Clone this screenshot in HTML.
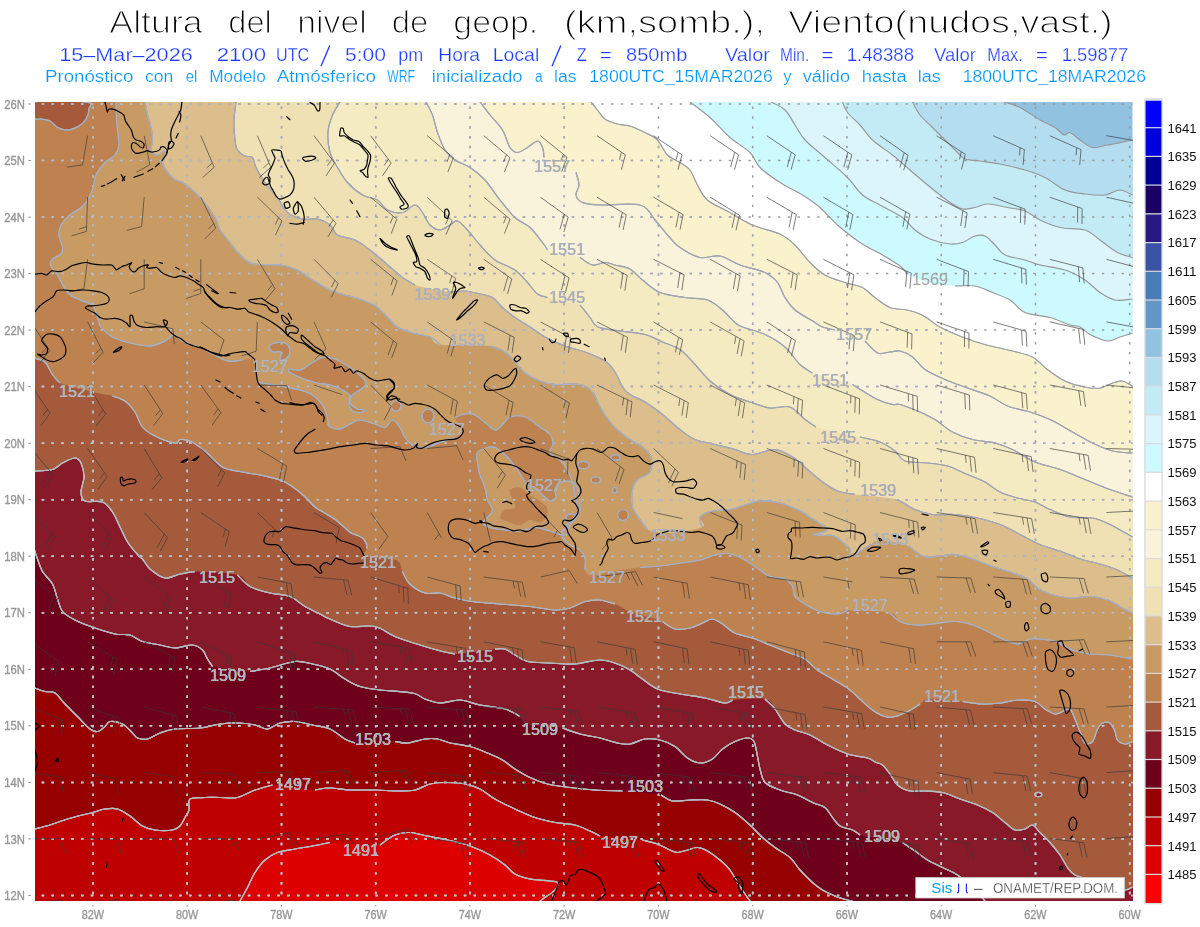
<!DOCTYPE html><html><head><meta charset="utf-8"><title>WRF 850mb</title><style>html,body{margin:0;padding:0;background:#fff}body{width:1200px;height:927px;overflow:hidden}</style></head><body><svg width="1200" height="927" viewBox="0 0 1200 927" style="display:block;font-family:'Liberation Sans',sans-serif">
<defs><filter id="nf" x="-5%" y="-5%" width="110%" height="110%"><feOffset dx="0" dy="0"/></filter><clipPath id="m"><rect x="35" y="102" width="1098" height="799"/></clipPath></defs>
<rect width="1200" height="927" fill="#fff"/>
<g clip-path="url(#m)">
<rect x="34.5" y="102" width="1098" height="799" fill="#91c3e1"/>
<path d="M1004 102C1006.7 102.9 1014 104.5 1020 107.5C1026 110.5 1034.2 116.7 1040 120C1045.8 123.3 1051 125 1055 127.5C1059 130 1061.5 134.2 1064 135C1066.5 135.8 1067.3 131.7 1070 132.5C1072.7 133.3 1076.2 137.5 1080 140C1083.8 142.5 1087.9 146.7 1092.5 147.5C1097.1 148.3 1100.8 146.2 1107.5 145C1114.2 143.8 1128.3 140.8 1132.5 140L1134.5 140L1134.5 903L32.5 903L32.5 100L1004 100Z" fill="#b4def0"/>
<path d="M912.5 102C913.8 104.2 916.7 110.8 920 115C923.3 119.2 928.3 123.3 932.5 127.5C936.7 131.7 940.8 135.8 945 140C949.2 144.2 954.2 149.3 957.5 152.5C960.8 155.7 961.2 157.6 965 159C968.8 160.4 974.2 160.2 980 161C985.8 161.8 992.5 162.5 1000 164C1007.5 165.5 1017.5 167.8 1025 170C1032.5 172.2 1038.3 174.2 1045 177.5C1051.7 180.8 1058.3 187.2 1065 190C1071.7 192.8 1078.3 193.2 1085 194C1091.7 194.8 1099.2 195.7 1105 195C1110.8 194.3 1115.4 190 1120 190C1124.6 190 1130.4 194.2 1132.5 195L1134.5 195L1134.5 903L32.5 903L32.5 100L912.5 100Z" fill="#c3ebf5"/>
<path d="M842.5 102C843.3 103.8 844.6 108.7 847.5 112.5C850.4 116.3 855.8 120.4 860 125C864.2 129.6 867.1 135 872.5 140C877.9 145 886.2 150 892.5 155C898.8 160 903.8 164.7 910 170C916.2 175.3 923.3 181.6 930 187C936.7 192.4 944.6 198.8 950 202.5C955.4 206.2 958.3 208.2 962.5 209C966.7 209.8 970.8 208.3 975 207.5C979.2 206.7 982.1 204 987.5 204C992.9 204 1001.2 206.3 1007.5 207.5C1013.8 208.7 1019.6 208.9 1025 211C1030.4 213.1 1034.2 217.2 1040 220C1045.8 222.8 1052.5 225.8 1060 227.5C1067.5 229.2 1078.3 227.9 1085 230C1091.7 232.1 1094.6 236.2 1100 240C1105.4 243.8 1112.1 249.6 1117.5 252.5C1122.9 255.4 1130 256.7 1132.5 257.5L1134.5 257.5L1134.5 903L32.5 903L32.5 100L842.5 100Z" fill="#dcf5fa"/>
<path d="M771 102C773.3 103.3 781 106.2 785 110C789 113.8 791.7 120 795 125C798.3 130 800 134.6 805 140C810 145.4 817.9 151.2 825 157.5C832.1 163.8 841.2 171.2 847.5 177.5C853.8 183.8 857.1 190.4 862.5 195C867.9 199.6 873.3 201.2 880 205C886.7 208.8 896.7 213.3 902.5 217.5C908.3 221.7 910.4 226.4 915 230C919.6 233.6 924.2 236.7 930 239C935.8 241.3 944.6 243.4 950 244C955.4 244.6 958.3 243.8 962.5 242.5C966.7 241.2 971.2 237.1 975 236C978.8 234.9 981.7 234.5 985 236C988.3 237.5 991.7 241.8 995 245C998.3 248.2 1000 252.5 1005 255C1010 257.5 1019.2 258.3 1025 260C1030.8 261.7 1033.3 263.3 1040 265C1046.7 266.7 1057.5 267.5 1065 270C1072.5 272.5 1079.2 276.2 1085 280C1090.8 283.8 1095 289.2 1100 292.5C1105 295.8 1109.6 298.9 1115 300C1120.4 301.1 1129.6 299.2 1132.5 299L1134.5 299L1134.5 903L32.5 903L32.5 100L771 100Z" fill="#cdfaff"/>
<path d="M690 102C693.3 104.6 703.3 111.6 710 117.5C716.7 123.4 723.3 131.7 730 137.5C736.7 143.3 745 147.5 750 152.5C755 157.5 755 162.5 760 167.5C765 172.5 772.9 177.9 780 182.5C787.1 187.1 795.8 190.8 802.5 195C809.2 199.2 814.2 202.5 820 207.5C825.8 212.5 830.8 219.2 837.5 225C844.2 230.8 852.5 237.5 860 242.5C867.5 247.5 875.8 251.1 882.5 255C889.2 258.9 895.8 262.8 900 266C904.2 269.2 902.5 271.2 907.5 274C912.5 276.8 922.1 281 930 283C937.9 285 947.5 285.5 955 286C962.5 286.5 968.8 284.9 975 286C981.2 287.1 986.7 290.2 992.5 292.5C998.3 294.8 1004.6 296.7 1010 300C1015.4 303.3 1018.3 309.6 1025 312.5C1031.7 315.4 1042.5 315.4 1050 317.5C1057.5 319.6 1065 323.4 1070 325C1075 326.6 1076.7 325.4 1080 327C1083.3 328.6 1085.4 332.2 1090 334.5C1094.6 336.8 1102.5 340.6 1107.5 341C1112.5 341.4 1115.8 338.3 1120 337C1124.2 335.7 1130.4 333.7 1132.5 333L1134.5 333L1134.5 903L32.5 903L32.5 100L690 100Z" fill="#ffffff"/>
<path d="M591 102C592.1 103.3 595.2 107.2 597.5 110C599.8 112.8 601.7 116.7 605 119C608.3 121.3 613.3 122.8 617.5 124C621.7 125.2 625.4 124.6 630 126C634.6 127.4 640.4 130.2 645 132.5C649.6 134.8 653.8 136.2 657.5 140C661.2 143.8 663.8 151.2 667.5 155C671.2 158.8 676.2 160 680 162.5C683.8 165 687.1 166.2 690 170C692.9 173.8 694.6 180 697.5 185C700.4 190 702.1 195.4 707.5 200C712.9 204.6 722.5 208.3 730 212.5C737.5 216.7 744.2 221.4 752.5 225C760.8 228.6 772.9 230.7 780 234C787.1 237.3 790 240.2 795 245C800 249.8 805 257.5 810 262.5C815 267.5 819.2 271.7 825 275C830.8 278.3 838.8 280.4 845 282.5C851.2 284.6 857.5 285 862.5 287.5C867.5 290 870.4 294.2 875 297.5C879.6 300.8 884.6 305.4 890 307.5C895.4 309.6 902.5 308.9 907.5 310C912.5 311.1 916.2 312.3 920 314C923.8 315.7 926.7 317.8 930 320C933.3 322.2 934.6 324.2 940 327C945.4 329.8 955 334.1 962.5 337C970 339.9 976.7 342.2 985 344.5C993.3 346.8 1004.6 348.9 1012.5 351C1020.4 353.1 1026.7 353.9 1032.5 357C1038.3 360.1 1042.1 365.5 1047.5 369.5C1052.9 373.5 1058.8 378.1 1065 381C1071.2 383.9 1079.2 385.8 1085 387C1090.8 388.2 1095.4 388.7 1100 388C1104.6 387.3 1108.8 384.2 1112.5 383C1116.2 381.8 1119.2 380.5 1122.5 381C1125.8 381.5 1130.8 385.2 1132.5 386L1134.5 386L1134.5 903L32.5 903L32.5 100L591 100Z" fill="#faf2cd"/>
<path d="M480 102C481.7 104.2 486.2 110.3 490 115C493.8 119.7 499.2 124.6 502.5 130C505.8 135.4 507.5 143.8 510 147.5C512.5 151.2 514.6 152.5 517.5 152.5C520.4 152.5 524.2 149.4 527.5 147.5C530.8 145.6 535 141 537.5 141C540 141 541.4 144.8 542.5 147.5C543.6 150.2 541.9 154.4 544 157.5C546.1 160.6 549.7 163.5 555 166C560.3 168.5 572 169.3 576 172.5C580 175.7 579 181.2 579 185C579 188.8 575.4 192.1 576 195C576.6 197.9 578.5 200.8 582.5 202.5C586.5 204.2 590.4 204.6 600 205C609.6 205.4 630.8 202.5 640 205C649.2 207.5 650.4 215 655 220C659.6 225 663.3 230.4 667.5 235C671.7 239.6 674.6 243.8 680 247.5C685.4 251.2 693.3 256.1 700 257.5C706.7 258.9 713.3 254.8 720 256C726.7 257.2 732.5 262.2 740 265C747.5 267.8 758.8 269.6 765 272.5C771.2 275.4 774.2 278.3 777.5 282.5C780.8 286.7 782.1 292.9 785 297.5C787.9 302.1 790 305.8 795 310C800 314.2 810.4 319.7 815 322.5C819.6 325.3 819.2 325.8 822.5 327C825.8 328.2 827.9 327.7 835 330C842.1 332.3 857.9 337.2 865 341C872.1 344.8 873.3 351.2 877.5 353C881.7 354.8 886.2 352.3 890 352C893.8 351.7 896.2 350.2 900 351C903.8 351.8 908.3 353.9 912.5 357C916.7 360.1 919.6 365.8 925 369.5C930.4 373.2 937.9 376.4 945 379.5C952.1 382.6 960 385.2 967.5 388C975 390.8 983.3 393 990 396C996.7 399 1000.8 403.3 1007.5 406C1014.2 408.7 1022.9 409.8 1030 412C1037.1 414.2 1042.9 416.2 1050 419.5C1057.1 422.8 1065.4 428.1 1072.5 432C1079.6 435.9 1085.8 439.8 1092.5 443C1099.2 446.2 1105.8 449.3 1112.5 451C1119.2 452.7 1129.2 452.7 1132.5 453L1134.5 453L1134.5 903L32.5 903L32.5 100L480 100Z" fill="#faf3dc"/>
<path d="M426 102C427.1 104.2 430.6 109.9 432.5 115C434.4 120.1 435.4 126.7 437.5 132.5C439.6 138.3 442.1 145.4 445 150C447.9 154.6 450.8 157.1 455 160C459.2 162.9 465 164.2 470 167.5C475 170.8 480 174.6 485 180C490 185.4 495 193.8 500 200C505 206.2 510 212.9 515 217.5C520 222.1 525.4 223.3 530 227.5C534.6 231.7 539.6 238.8 542.5 242.5C545.4 246.2 541.2 247.5 547.5 250C553.8 252.5 572.5 255 580 257.5C587.5 260 588.3 264.2 592.5 265C596.7 265.8 601.2 262.5 605 262.5C608.8 262.5 610.8 263.9 615 265C619.2 266.1 625.4 266.5 630 269C634.6 271.5 637.5 276.1 642.5 280C647.5 283.9 652.9 289.6 660 292.5C667.1 295.4 677.1 296.2 685 297.5C692.9 298.8 701.2 297.9 707.5 300C713.8 302.1 717.9 306.2 722.5 310C727.1 313.8 731.7 319.7 735 322.5C738.3 325.3 737.5 325 742.5 327C747.5 329 757.9 331.2 765 334.5C772.1 337.8 779.2 342 785 347C790.8 352 795.4 360.2 800 364.5C804.6 368.8 803.8 369.7 812.5 373C821.2 376.3 841.7 380.1 852.5 384.5C863.3 388.9 870.8 396.2 877.5 399.5C884.2 402.8 888.8 403.7 892.5 404.5C896.2 405.3 895.8 403.4 900 404.5C904.2 405.6 911.7 408.5 917.5 411C923.3 413.5 929.2 416 935 419.5C940.8 423 946.2 428.7 952.5 432C958.8 435.3 965.4 437.7 972.5 439.5C979.6 441.3 988.3 441.3 995 443C1001.7 444.7 1005.8 446.3 1012.5 449.5C1019.2 452.7 1027.1 458.7 1035 462C1042.9 465.3 1051.7 466.6 1060 469.5C1068.3 472.4 1076.7 476.2 1085 479.5C1093.3 482.8 1102.1 486.6 1110 489.5C1117.9 492.4 1128.8 495.8 1132.5 497L1134.5 497L1134.5 903L32.5 903L32.5 100L426 100Z" fill="#f5ebc3"/>
<path d="M340 102C338.8 104.2 334.5 110 332.5 115C330.5 120 328.4 125.8 328 132C327.6 138.2 328.4 146.6 330 152.5C331.6 158.4 334.6 162.5 337.5 167.5C340.4 172.5 343.3 177.9 347.5 182.5C351.7 187.1 357.5 192.1 362.5 195C367.5 197.9 373.3 197.5 377.5 200C381.7 202.5 383.3 207.9 387.5 210C391.7 212.1 397.9 213.3 402.5 212.5C407.1 211.7 411.7 205 415 205C418.3 205 420 209.2 422.5 212.5C425 215.8 427.1 222.1 430 225C432.9 227.9 436.7 230 440 230C443.3 230 447.1 226.5 450 225C452.9 223.5 454.6 220.2 457.5 221C460.4 221.8 463.8 226 467.5 230C471.2 234 475.4 240 480 245C484.6 250 489.2 255.8 495 260C500.8 264.2 509.6 266.2 515 270C520.4 273.8 523.8 278.5 527.5 282.5C531.2 286.5 534.2 291.5 537.5 294C540.8 296.5 540.4 295.7 547.5 297.5C554.6 299.3 572.9 301.7 580 305C587.1 308.3 587 313.8 590 317.5C593 321.2 593 324.8 598 327C603 329.2 612.2 329.8 620 331C627.8 332.2 637.9 332.7 645 334.5C652.1 336.3 656.7 339.5 662.5 342C668.3 344.5 674.6 345.8 680 349.5C685.4 353.2 690 359.2 695 364.5C700 369.8 704.2 376 710 381C715.8 386 723.3 391 730 394.5C736.7 398 743.3 399.8 750 402C756.7 404.2 763.3 407.2 770 408C776.7 408.8 784.2 405.1 790 407C795.8 408.9 800.7 416.2 805 419.5C809.3 422.8 806.8 424.1 816 427C825.2 429.9 849.3 434.5 860 437C870.7 439.5 874.2 439.7 880 442C885.8 444.3 890.8 447.8 895 451C899.2 454.2 899.6 459 905 461C910.4 463 920.4 462.2 927.5 463C934.6 463.8 940.8 464.1 947.5 466C954.2 467.9 961.2 471.8 967.5 474.5C973.8 477.2 979.6 479.1 985 482C990.4 484.9 994.6 489.3 1000 492C1005.4 494.7 1011.7 496.3 1017.5 498C1023.3 499.7 1029.6 500.1 1035 502C1040.4 503.9 1044.2 507 1050 509.5C1055.8 512 1062.9 515.6 1070 517C1077.1 518.4 1085.8 516.8 1092.5 518C1099.2 519.2 1103.3 521.3 1110 524.5C1116.7 527.7 1128.8 534.9 1132.5 537L1134.5 537L1134.5 903L32.5 903L32.5 100L340 100Z" fill="#f0e1b4"/>
<path d="M236 102C235.7 105 234.2 113.7 234 120C233.8 126.3 234.4 135 235 140C235.6 145 235.8 147.3 237.5 150C239.2 152.7 242.5 154.8 245 156C247.5 157.2 250.7 155.6 252.5 157.5C254.3 159.4 253.9 163.3 256 167.5C258.1 171.7 261.4 177.5 265 182.5C268.6 187.5 273.8 192.5 277.5 197.5C281.2 202.5 283.3 208.9 287.5 212.5C291.7 216.1 297.5 217.9 302.5 219C307.5 220.1 312.9 218 317.5 219C322.1 220 326.7 222.3 330 225C333.3 227.7 333.3 232.5 337.5 235C341.7 237.5 349.6 237.5 355 240C360.4 242.5 365 246.2 370 250C375 253.8 379.6 257.9 385 262.5C390.4 267.1 397.5 273.8 402.5 277.5C407.5 281.2 407.1 282.6 415 285C422.9 287.4 441.7 291 450 292C458.3 293 460 290.7 465 291C470 291.3 475.4 292.9 480 294C484.6 295.1 488.8 295.2 492.5 297.5C496.2 299.8 498.8 304.2 502.5 307.5C506.2 310.8 510.4 314.2 515 317.5C519.6 320.8 525 323.8 530 327C535 330.2 539.2 333.8 545 337C550.8 340.2 558.3 343.5 565 346C571.7 348.5 578.3 349.5 585 352C591.7 354.5 600 357.7 605 361C610 364.3 612.1 367.7 615 372C617.9 376.3 620 383.2 622.5 387C625 390.8 626.2 392 630 394.5C633.8 397 639.6 398.7 645 402C650.4 405.3 656.7 409.9 662.5 414.5C668.3 419.1 674.6 425.3 680 429.5C685.4 433.7 689.2 437 695 439.5C700.8 442 708.3 442.8 715 444.5C721.7 446.2 728.8 447.8 735 449.5C741.2 451.2 745.8 454.5 752.5 454.5C759.2 454.5 768.3 449.1 775 449.5C781.7 449.9 787.1 453.7 792.5 457C797.9 460.3 802.5 465.3 807.5 469.5C812.5 473.7 817.5 478.4 822.5 482C827.5 485.6 832.1 488.9 837.5 491C842.9 493.1 845 493.1 855 494.5C865 495.9 887.5 497 897.5 499.5C907.5 502 909.2 507 915 509.5C920.8 512 925.8 513.7 932.5 514.5C939.2 515.3 947.5 513.9 955 514.5C962.5 515.1 970 516.3 977.5 518C985 519.7 992.9 521.8 1000 524.5C1007.1 527.2 1013.3 531.2 1020 534.5C1026.7 537.8 1032.9 541.6 1040 544.5C1047.1 547.4 1055.8 549.6 1062.5 552C1069.2 554.4 1073.8 557 1080 559C1086.2 561 1093.8 562.2 1100 564C1106.2 565.8 1112.1 567.7 1117.5 570C1122.9 572.3 1130 576.7 1132.5 578L1134.5 578L1134.5 903L32.5 903L32.5 100L236 100Z" fill="#dcbe8c"/>
<path d="M145 102C145.4 104.2 146.5 110.8 147.5 115C148.5 119.2 150.2 123.3 151 127.5C151.8 131.7 152.5 136.1 152.5 140C152.5 143.9 150.2 148.5 151 151C151.8 153.5 155.3 155 157.5 155C159.7 155 162.6 151 164 151C165.4 151 166.2 153.1 166 155C165.8 156.9 162.5 160 162.5 162.5C162.5 165 164.1 167.2 166 170C167.9 172.8 170.8 176.7 174 179C177.2 181.3 180.7 180.9 185 184C189.3 187.1 195 191.9 200 197.5C205 203.1 211.7 212.1 215 217.5C218.3 222.9 217.5 225.8 220 230C222.5 234.2 226.2 237.9 230 242.5C233.8 247.1 238.3 253.9 242.5 257.5C246.7 261.1 248.8 262.8 255 264C261.2 265.2 272.9 264 280 265C287.1 266 292.1 267.5 297.5 270C302.9 272.5 307.1 276.7 312.5 280C317.9 283.3 324.6 287.5 330 290C335.4 292.5 339.6 293.3 345 295C350.4 296.7 357.1 297.9 362.5 300C367.9 302.1 372.9 304.2 377.5 307.5C382.1 310.8 386.7 316.8 390 320C393.3 323.2 393.8 324.8 397.5 327C401.2 329.2 407.1 331.3 412.5 333C417.9 334.7 425.4 335.1 430 337C434.6 338.9 430 343 440 344.5C450 346 479.2 344.8 490 346C500.8 347.2 500.8 349.3 505 352C509.2 354.7 511.7 358.5 515 362C518.3 365.5 520.8 369.8 525 373C529.2 376.2 535 379.1 540 381C545 382.9 548.3 383.9 555 384.5C561.7 385.1 573.8 383.2 580 384.5C586.2 385.8 589.2 388.2 592.5 392C595.8 395.8 597.1 402 600 407C602.9 412 606.7 417.8 610 422C613.3 426.2 616.7 429.1 620 432C623.3 434.9 626.2 437 630 439.5C633.8 442 639 444.1 642.5 447C646 449.9 649.8 452.8 651 457C652.2 461.2 652.2 468.2 650 472C647.8 475.8 640.4 476.6 637.5 479.5C634.6 482.4 633.3 484.9 632.5 489.5C631.7 494.1 631.2 502 632.5 507C633.8 512 637.5 515.8 640 519.5C642.5 523.2 642.5 527.2 647.5 529.5C652.5 531.8 660.8 533.4 670 533C679.2 532.6 697.5 529.7 702.5 527C707.5 524.3 698.3 519.7 700 517C701.7 514.3 707.5 512.2 712.5 511C717.5 509.8 725 510.3 730 509.5C735 508.7 737.5 507.4 742.5 506C747.5 504.6 753.8 501.5 760 501C766.2 500.5 773.3 501.3 780 503C786.7 504.7 795 508.6 800 511C805 513.4 806.5 515.1 810 517.3C813.5 519.5 817.8 522.1 820.7 524C823.6 525.9 826.9 527.4 827.3 528.7C827.7 530 825.7 531 823.3 532C820.9 533 813 533.9 813 534.5C813 535.1 820 535.3 823.3 535.5C826.6 535.7 830 534.9 832.7 535.5C835.4 536.1 837.1 537.7 839.3 539.3C841.5 540.9 844.2 543.7 846 545.3C847.8 546.9 849.3 547.2 850 549C850.7 550.8 849.1 555 850 556C850.9 557 853.1 555.8 855.3 554.7C857.5 553.6 860.6 551.1 863.3 549.3C866 547.5 868.4 545.5 871.3 544C874.2 542.5 874.5 539.7 880.7 540C886.9 540.3 902.9 544.1 908.7 546C914.5 547.9 912.6 549.5 915.3 551.3C918 553.1 920.9 556.2 925 557C929.1 557.8 935 556.4 940 556C945 555.6 949.6 554 955 554.5C960.4 555 966.2 557 972.5 559C978.8 561 985.8 564.2 992.5 566.5C999.2 568.8 1006.7 570.9 1012.5 573C1018.3 575.1 1023.3 576.5 1027.5 579C1031.7 581.5 1033.8 585.5 1037.5 588C1041.2 590.5 1044.6 592.3 1050 594C1055.4 595.7 1063.3 597.6 1070 598C1076.7 598.4 1083.8 596.2 1090 596.5C1096.2 596.8 1102.1 598.1 1107.5 600C1112.9 601.9 1118.3 605.8 1122.5 608C1126.7 610.2 1130.8 612.2 1132.5 613L1134.5 613L1134.5 903L32.5 903L32.5 100L145 100Z" fill="#c89b64"/>
<path d="M116 102C116.2 105.8 116.5 117.8 117 125C117.5 132.2 119.3 140 119 145C118.7 150 117.3 152.1 115 155C112.7 157.9 108.2 159.2 105 162.5C101.8 165.8 98.1 170.4 96 175C93.9 179.6 94.5 185 92.5 190C90.5 195 87.8 200.8 84 205C80.2 209.2 73.8 211.7 70 215C66.2 218.3 62.8 221.7 61 225C59.2 228.3 58.8 231.2 59 235C59.2 238.8 62.2 244.3 62.5 247.5C62.8 250.7 62.7 252.1 61 254C59.3 255.9 54.2 257.2 52.5 259C50.8 260.8 49.7 262.3 50.5 265C51.3 267.7 54.7 270.4 57.5 275C60.3 279.6 63.8 288.3 67.5 292.5C71.2 296.7 75.8 297.9 80 300C84.2 302.1 89.6 302.1 92.5 305C95.4 307.9 96.1 313.8 97.5 317.5C98.9 321.2 98.5 323.8 101 327C103.5 330.2 107.7 334.3 112.5 337C117.3 339.7 123.8 341.5 130 343C136.2 344.5 144.2 346.3 150 346C155.8 345.7 161 342.9 165 341C169 339.1 171.5 334.8 174 334.5C176.5 334.2 177.3 337.8 180 339.5C182.7 341.2 186.7 343.2 190 344.5C193.3 345.8 195.8 345.8 200 347.5C204.2 349.2 210.4 352.8 215 355C219.6 357.2 222.9 360.2 227.5 361C232.1 361.8 238.3 360.3 242.5 360C246.7 359.7 250.2 357.3 252.5 359C254.8 360.7 254.9 366.1 256 370C257.1 373.9 255.8 380 259 382.5C262.2 385 270.2 384.2 275 385C279.8 385.8 283.3 386.7 287.5 387.5C291.7 388.3 295.8 388.8 300 390C304.2 391.2 308.8 392.5 312.5 395C316.2 397.5 320 401.2 322.5 405C325 408.8 326.4 414 327.5 417.5C328.6 421 326.9 424.1 329 426C331.1 427.9 336.5 429.3 340 429C343.5 428.7 346.7 425.5 350 424C353.3 422.5 355.8 420 360 420C364.2 420 370.8 422.8 375 424C379.2 425.2 382.1 428.2 385 427.5C387.9 426.8 390 420 392.5 420C395 420 397.9 424.6 400 427.5C402.1 430.4 402.9 434.6 405 437.5C407.1 440.4 409.2 443.3 412.5 445C415.8 446.7 420.4 447.9 425 447.5C429.6 447.1 435 444.2 440 442.5C445 440.8 451.2 439.2 455 437.5C458.8 435.8 461.7 434.6 462.5 432.5C463.3 430.4 461.2 427.5 460 425C458.8 422.5 454.2 419.3 455 417.5C455.8 415.7 461.7 414.4 465 414C468.3 413.6 471.7 413.6 475 415C478.3 416.4 481.7 420 485 422.5C488.3 425 492.1 429.7 495 430C497.9 430.3 500 426.7 502.5 424.5C505 422.3 506.2 418.2 510 417C513.8 415.8 520 415.3 525 417C530 418.7 535.8 424.1 540 427C544.2 429.9 547.8 431.7 550 434.5C552.2 437.3 553 441 553 444C553 447 548.8 449.8 550 452.5C551.2 455.2 557.1 457.1 560 460C562.9 462.9 565.4 466.2 567.5 470C569.6 473.8 571.2 478.3 572.5 482.5C573.8 486.7 574.1 490.4 575 495C575.9 499.6 578.5 505.8 578 510C577.5 514.2 574.2 517.2 572 520C569.8 522.8 566.7 524.2 565 527C563.3 529.8 561.2 534 562 537C562.8 540 567 542.8 570 545C573 547.2 577.5 547.9 580 550C582.5 552.1 584.2 554.2 585 557.5C585.8 560.8 583.8 567.1 585 570C586.2 572.9 586.7 575 592.5 575C598.3 575 612.1 571.2 620 570C627.9 568.8 633.3 568.2 640 567.5C646.7 566.8 652.5 566.8 660 566C667.5 565.2 678.3 563.5 685 562.5C691.7 561.5 695 561.2 700 560C705 558.8 710 556 715 555C720 554 725 552.9 730 553.8C735 554.6 740 557.3 745 560C750 562.7 755.8 567.2 760 570C764.2 572.8 765.8 575 770 576.5C774.2 578 781.2 577.3 785 579C788.8 580.7 790.8 583.6 792.5 586.5C794.2 589.4 792.9 593.6 795 596.5C797.1 599.4 800.8 601.5 805 604C809.2 606.5 814.6 609.8 820 611.5C825.4 613.2 832.9 614.2 837.5 614C842.1 613.8 838.8 610.2 847.5 610C856.2 609.8 881.2 611.1 890 613C898.8 614.9 895.8 619.5 900 621.5C904.2 623.5 909.6 624.6 915 625C920.4 625.4 925.8 624.6 932.5 624C939.2 623.4 948.3 621.3 955 621.5C961.7 621.7 967.1 623.3 972.5 625C977.9 626.7 982.5 629.2 987.5 631.5C992.5 633.8 997.5 636.9 1002.5 639C1007.5 641.1 1012.9 644 1017.5 644C1022.1 644 1026.2 639.8 1030 639C1033.8 638.2 1035.8 638.6 1040 639C1044.2 639.4 1049.6 639.7 1055 641.5C1060.4 643.3 1066.7 647.9 1072.5 650C1078.3 652.1 1083.8 653.2 1090 654C1096.2 654.8 1102.9 654.2 1110 655C1117.1 655.8 1128.8 658.3 1132.5 659L1134.5 659L1134.5 903L32.5 903L32.5 100L116 100Z" fill="#be8250"/>
<path d="M34.5 358C36.2 358.7 42 359.2 45 362C48 364.8 50 371 52.5 374.5C55 378 53.3 380.1 60 383C66.7 385.9 83.8 389.8 92.5 392C101.2 394.2 107.1 394.5 112.5 396C117.9 397.5 121.2 398.3 125 401C128.8 403.7 132.1 407.7 135 412C137.9 416.3 139.2 423 142.5 427C145.8 431 149.6 433.3 155 436C160.4 438.7 170.8 442.4 175 443C179.2 443.6 177.5 439.8 180 439.5C182.5 439.2 185.8 439.1 190 441C194.2 442.9 199.6 446.7 205 451C210.4 455.3 216.2 463.5 222.5 467C228.8 470.5 235.4 470.5 242.5 472C249.6 473.5 257.9 474.3 265 476C272.1 477.7 278.8 478.9 285 482C291.2 485.1 297.6 490.4 302.5 494.5C307.4 498.6 310.9 503.6 314.7 506.7C318.5 509.8 321.8 511.1 325.3 513.3C328.9 515.5 332.7 517.5 336 520C339.3 522.5 342.9 525.9 345.3 528C347.8 530.1 348.7 531.5 350.7 532.7C352.7 533.9 355.3 534.4 357.3 535.3C359.3 536.2 361.2 536.8 362.7 538C364.1 539.2 365.2 540.9 366 542.7C366.8 544.5 367.5 546.5 367.3 548.7C367.1 550.9 360.2 554.1 365 556C369.8 557.9 389.8 557.4 396 560C402.2 562.6 400.2 567.5 402.5 571.5C404.8 575.5 406.2 580.4 410 584C413.8 587.6 420 591.5 425 593C430 594.5 435 592.2 440 593C445 593.8 449.6 596.6 455 598C460.4 599.4 465 600.5 472.5 601.5C480 602.5 490.4 603.2 500 604C509.6 604.8 520.8 605.5 530 606.5C539.2 607.5 548.3 609.8 555 610C561.7 610.2 565 609.4 570 608C575 606.6 580 602.8 585 601.5C590 600.2 595 599.6 600 600C605 600.4 610 602.1 615 604C620 605.9 622.1 608.6 630 611.5C637.9 614.4 655 618.6 662.5 621.5C670 624.4 670.4 627.9 675 629C679.6 630.1 685.4 629 690 628C694.6 627 698.8 624.5 702.5 623C706.2 621.5 709.2 618.8 712.5 619C715.8 619.2 718.8 621.7 722.5 624C726.2 626.3 730 630.7 735 633C740 635.3 746.7 636 752.5 638C758.3 640 763.8 642.5 770 645C776.2 647.5 784.2 650.7 790 653C795.8 655.3 800.4 656.2 805 659C809.6 661.8 812.9 666.7 817.5 670C822.1 673.3 827.5 676 832.5 679C837.5 682 842.9 684.7 847.5 688C852.1 691.3 855.8 695.3 860 699C864.2 702.7 868.3 707.1 872.5 710C876.7 712.9 881.2 715.4 885 716.5C888.8 717.6 891.2 717.3 895 716.5C898.8 715.7 903.3 713.6 907.5 711.5C911.7 709.4 916.2 706.1 920 704C923.8 701.9 922.9 699.4 930 699C937.1 698.6 953.8 700.7 962.5 701.5C971.2 702.3 976.2 703.8 982.5 704C988.8 704.2 994.2 703.7 1000 703C1005.8 702.3 1011.7 700.2 1017.5 700C1023.3 699.8 1030.4 700 1035 701.5C1039.6 703 1041.7 706.9 1045 709C1048.3 711.1 1052.1 713.6 1055 714C1057.9 714.4 1060 712.3 1062.5 711.5C1065 710.7 1067.9 707.8 1070 709C1072.1 710.2 1073.3 715.2 1075 719C1076.7 722.8 1078.3 727.5 1080 731.5C1081.7 735.5 1082.9 741.3 1085 743C1087.1 744.7 1090.4 743.8 1092.5 741.5C1094.6 739.2 1095.8 732.1 1097.5 729C1099.2 725.9 1100.4 724 1102.5 723C1104.6 722 1107.9 721.6 1110 723C1112.1 724.4 1113.8 728.7 1115 731.5C1116.2 734.3 1115.8 737.9 1117.5 740C1119.2 742.1 1122.5 743.8 1125 744C1127.5 744.2 1131.2 741.9 1132.5 741.5L1134.5 741.5L1134.5 903L32.5 903L32.5 358Z" fill="#a55a3c"/>
<path d="M34.5 471C37.5 470.8 47.8 470.8 52.5 469.5C57.2 468.2 58.8 464.9 62.5 463C66.2 461.1 71.9 458 75 458C78.1 458 79.5 459.8 81 463C82.5 466.2 84 472.2 84 477C84 481.8 80.8 488 81 492C81.2 496 81.4 499.3 85 501C88.6 502.7 97.9 500.2 102.5 502C107.1 503.8 109.6 507.8 112.5 512C115.4 516.2 117.5 522 120 527C122.5 532 124.6 537.4 127.5 542C130.4 546.6 135 551.7 137.5 554.5C140 557.3 140.4 556.6 142.5 559C144.6 561.4 146.2 565.8 150 569C153.8 572.2 160 577.2 165 578C170 578.8 175 575.1 180 574C185 572.9 185.4 571.3 195 571.5C204.6 571.7 228.3 572.5 237.5 575C246.7 577.5 244.6 583.5 250 586.5C255.4 589.5 263.3 591.3 270 593C276.7 594.7 284.2 594.2 290 596.5C295.8 598.8 300 603.6 305 606.5C310 609.4 315.8 611.9 320 614C324.2 616.1 325 616.9 330 619C335 621.1 342.5 625.2 350 626.5C357.5 627.8 367.5 624.8 375 626.5C382.5 628.2 387.5 633.4 395 636.5C402.5 639.6 412.1 642.5 420 645C427.9 647.5 436.7 650 442.5 651.5C448.3 653 446.2 654.4 455 654C463.8 653.6 486.7 649.8 495 649C503.3 648.2 501.7 648 505 649C508.3 650 511.2 652.9 515 655C518.8 657.1 521.7 660.2 527.5 661.5C533.3 662.8 542.1 662.6 550 663C557.9 663.4 566.7 664.5 575 664C583.3 663.5 592.9 660 600 660C607.1 660 612.5 662.3 617.5 664C622.5 665.7 625.8 667.5 630 670C634.2 672.5 637.9 675.8 642.5 679C647.1 682.2 651.2 686.5 657.5 689C663.8 691.5 672.1 692.5 680 694C687.9 695.5 697.5 696.5 705 698C712.5 699.5 720.4 702.7 725 703C729.6 703.3 725.8 700.7 732.5 700C739.2 699.3 757.9 697.5 765 699C772.1 700.5 771.7 704.8 775 709C778.3 713.2 781.7 720.5 785 724C788.3 727.5 790.8 728.2 795 730C799.2 731.8 804.6 732.5 810 735C815.4 737.5 821.2 741.8 827.5 745C833.8 748.2 840.8 751.8 847.5 754C854.2 756.2 862.9 756.7 867.5 758C872.1 759.3 872.5 760.8 875 762C877.5 763.2 880 763 882.5 765C885 767 887.5 770.7 890 774C892.5 777.3 894.2 782.2 897.5 785C900.8 787.8 905.4 790 910 791C914.6 792 919.6 790.8 925 791C930.4 791.2 936.7 791.2 942.5 792.5C948.3 793.8 954.2 796.9 960 799C965.8 801.1 972.1 802.8 977.5 805C982.9 807.2 987.9 809.6 992.5 812.5C997.1 815.4 1001.2 819.6 1005 822.5C1008.8 825.4 1011.7 828.9 1015 830C1018.3 831.1 1022.1 829.8 1025 829C1027.9 828.2 1030 824.4 1032.5 825C1035 825.6 1037.1 829.6 1040 832.5C1042.9 835.4 1046.7 838.8 1050 842.5C1053.3 846.2 1057.1 850.8 1060 855C1062.9 859.2 1065 864.2 1067.5 867.5C1070 870.8 1071.2 872.9 1075 875C1078.8 877.1 1084.2 877.8 1090 880C1095.8 882.2 1104.2 886.3 1110 888C1115.8 889.7 1121.2 890.2 1125 890C1128.8 889.8 1131.2 887.5 1132.5 887L1134.5 887L1134.5 903L32.5 903L32.5 471Z" fill="#871928"/>
<path d="M34.5 550C35 551.5 36.2 555.4 37.5 559C38.8 562.6 40 567.3 42.5 571.5C45 575.7 50 579.4 52.5 584C55 588.6 55.8 594.4 57.5 599C59.2 603.6 59.6 608 62.5 611.5C65.4 615 69.6 617.2 75 620C80.4 622.8 88.3 625.7 95 628C101.7 630.3 109.2 632.8 115 634C120.8 635.2 125.4 633.8 130 635C134.6 636.2 137.5 639.8 142.5 641.5C147.5 643.2 154.6 643.9 160 645C165.4 646.1 169.6 648 175 648C180.4 648 187.9 644.7 192.5 645C197.1 645.3 200 647.7 202.5 650C205 652.3 205.8 656.2 207.5 659C209.2 661.8 205.4 664.4 212.5 666.5C219.6 668.6 240.4 671.2 250 671.5C259.6 671.8 262.5 669.7 270 668C277.5 666.3 287.9 662.2 295 661.5C302.1 660.8 306.7 662.8 312.5 664C318.3 665.2 324.6 666.5 330 669C335.4 671.5 340 676.1 345 679C350 681.9 354.2 684.7 360 686.5C365.8 688.3 371.2 688.9 380 690C388.8 691.1 405 691.5 412.5 693C420 694.5 420.4 697.3 425 699C429.6 700.7 434.2 702.8 440 703C445.8 703.2 453.3 699.7 460 700C466.7 700.3 472.5 703.5 480 705C487.5 706.5 498.3 707.1 505 709C511.7 710.9 516.2 714 520 716.5C523.8 719 520.4 722.1 527.5 724C534.6 725.9 553.8 726.3 562.5 728C571.2 729.7 573.8 732.3 580 734C586.2 735.7 593.8 736.5 600 738C606.2 739.5 612.5 742 617.5 743C622.5 744 625.4 744.7 630 744C634.6 743.3 640 739.7 645 739C650 738.3 655 738.8 660 740C665 741.2 670.4 743.5 675 746.5C679.6 749.5 683.3 755.2 687.5 758C691.7 760.8 695.8 762.8 700 763C704.2 763.2 708.8 761.3 712.5 759C716.2 756.7 718.8 751.9 722.5 749C726.2 746.1 730.8 743.3 735 741.5C739.2 739.7 744.3 738 747.5 738C750.7 738 752.3 738.4 754 741.5C755.7 744.6 756.5 751.9 757.5 756.5C758.5 761.1 758.8 764.7 760 769C761.2 773.3 761.7 779 765 782.5C768.3 786 774.6 787.9 780 790C785.4 792.1 792.1 792.9 797.5 795C802.9 797.1 807.9 800.4 812.5 802.5C817.1 804.6 821.7 805 825 807.5C828.3 810 830 814.4 832.5 817.5C835 820.6 836.7 823.9 840 826C843.3 828.1 849.2 828.5 852.5 830C855.8 831.5 851.7 832.9 860 835C868.3 837.1 893.3 839.8 902.5 842.5C911.7 845.2 910.8 848.1 915 851C919.2 853.9 922.9 857.2 927.5 860C932.1 862.8 937.5 865 942.5 867.5C947.5 870 952.1 871.2 957.5 875C962.9 878.8 970.4 885.7 975 890C979.6 894.3 983.3 899.2 985 901L985 903L32.5 903L32.5 550Z" fill="#6e001c"/>
<path d="M34.5 688C36.2 688.6 41.6 690.7 45 691.5C48.4 692.3 51.7 690.9 55 693C58.3 695.1 61.2 700.1 65 704C68.8 707.9 73.3 712.3 77.5 716.5C81.7 720.7 86.7 726.5 90 729C93.3 731.5 95 731.9 97.5 731.5C100 731.1 102.9 728.2 105 726.5C107.1 724.8 107.1 721.9 110 721.5C112.9 721.1 118.8 722.1 122.5 724C126.2 725.9 130 730.7 132.5 733C135 735.3 135 737 137.5 738C140 739 143.8 739.8 147.5 739C151.2 738.2 155.4 734.7 160 733C164.6 731.3 168.3 729.8 175 729C181.7 728.2 192.5 728.8 200 728C207.5 727.2 213.3 724.8 220 724C226.7 723.2 234.2 722.8 240 723C245.8 723.2 250.4 724 255 725C259.6 726 263.3 729.3 267.5 729C271.7 728.7 275.4 724.2 280 723C284.6 721.8 289.6 721.2 295 721.5C300.4 721.8 306.7 723.8 312.5 725C318.3 726.2 324.6 726.7 330 729C335.4 731.3 340.8 736.7 345 739C349.2 741.3 346.7 742.6 355 743C363.3 743.4 386.2 741.5 395 741.5C403.8 741.5 402.5 743.4 407.5 743C412.5 742.6 420 739.7 425 739C430 738.3 433.3 738.3 437.5 739C441.7 739.7 444.6 741.8 450 743C455.4 744.2 463.8 744.8 470 746.5C476.2 748.2 482.1 750.8 487.5 753C492.9 755.2 497.9 757.3 502.5 760C507.1 762.7 510.4 766.1 515 769C519.6 771.9 524.6 775 530 777.5C535.4 780 540.8 782.3 547.5 784C554.2 785.7 562.1 786.5 570 787.5C577.9 788.5 586.2 789.4 595 790C603.8 790.6 611.5 790.2 622.5 791C633.5 791.8 652.7 793.3 661 795C669.3 796.7 667.7 800.2 672.5 801C677.3 801.8 684.2 800.2 690 800C695.8 799.8 702.5 799.3 707.5 800C712.5 800.7 715.4 801.9 720 804C724.6 806.1 730 809 735 812.5C740 816 745.4 820.8 750 825C754.6 829.2 758.3 833.8 762.5 837.5C766.7 841.2 770.4 844.2 775 847.5C779.6 850.8 785.8 853.8 790 857.5C794.2 861.2 796.2 865.8 800 870C803.8 874.2 808.8 879.2 812.5 882.5C816.2 885.8 818.8 887.8 822.5 890C826.2 892.2 830.8 894.3 835 896C839.2 897.7 844.6 899.2 847.5 900C850.4 900.8 851.7 900.8 852.5 901L852.5 903L32.5 903L32.5 688Z" fill="#960000"/>
<path d="M34.5 829C37.1 828.3 44.5 826.7 50 825C55.5 823.3 60.4 821.1 67.5 819C74.6 816.9 86.2 814.2 92.5 812.5C98.8 810.8 100.8 809.6 105 809C109.2 808.4 113.3 807.8 117.5 809C121.7 810.2 125.8 813.2 130 816C134.2 818.8 138.3 823.7 142.5 826C146.7 828.3 150 829.3 155 830C160 830.7 168.3 830.7 172.5 830C176.7 829.3 177.9 828.1 180 826C182.1 823.9 183.5 820.2 185 817.5C186.5 814.8 188.2 813.1 189 810C189.8 806.9 187.3 801.1 190 799C192.7 796.9 200 797.8 205 797.5C210 797.2 214.6 797.5 220 797.5C225.4 797.5 231.7 798.8 237.5 797.5C243.3 796.2 249.2 792.1 255 790C260.8 787.9 262.5 785 272.5 785C282.5 785 305.4 789.5 315 790C324.6 790.5 324.2 788 330 788C335.8 788 342.5 789.7 350 790C357.5 790.3 367.1 789.8 375 790C382.9 790.2 390.8 791 397.5 791C404.2 791 409.6 791.2 415 790C420.4 788.8 425 785.2 430 784C435 782.8 439.2 782.5 445 782.5C450.8 782.5 459.2 782.9 465 784C470.8 785.1 475 786.5 480 789C485 791.5 489.2 795.7 495 799C500.8 802.3 508.3 805.9 515 809C521.7 812.1 528.3 815.2 535 817.5C541.7 819.8 548.3 821.2 555 822.5C561.7 823.8 569.2 823.6 575 825C580.8 826.4 585.8 829.2 590 831C594.2 832.8 591.2 834.5 600 836C608.8 837.5 632.9 838.7 642.5 840C652.1 841.3 652.9 842.3 657.5 844C662.1 845.7 666.7 848.6 670 850C673.3 851.4 674.6 852.5 677.5 852.5C680.4 852.5 684.2 850.8 687.5 850C690.8 849.2 694.2 847.3 697.5 847.5C700.8 847.7 703.8 848.9 707.5 851C711.2 853.1 716.2 856.8 720 860C723.8 863.2 727.1 866.2 730 870C732.9 873.8 735.2 878.8 737.5 882.5C739.8 886.2 741.9 889.4 744 892.5C746.1 895.6 749 899.6 750 901L750 903L32.5 903L32.5 829Z" fill="#be0000"/>
<path d="M240 901C241.2 898.8 245 892.2 247.5 887.5C250 882.8 252.1 877.1 255 872.5C257.9 867.9 261.2 863.3 265 860C268.8 856.7 272.5 854.3 277.5 852.5C282.5 850.7 289.2 850.1 295 849C300.8 847.9 306.7 847.1 312.5 846C318.3 844.9 318.8 842.7 330 842.5C341.2 842.3 369.2 846.2 380 845C390.8 843.8 390 837.1 395 835C400 832.9 404.6 832.3 410 832.5C415.4 832.7 421.2 834.8 427.5 836C433.8 837.2 440.4 838.3 447.5 840C454.6 841.7 462.9 843.5 470 846C477.1 848.5 484.2 851.8 490 855C495.8 858.2 500.8 861.8 505 865C509.2 868.2 510.8 871.7 515 874C519.2 876.3 524.2 877.8 530 879C535.8 880.2 545.4 880.4 550 881C554.6 881.6 556.7 881 557.5 882.5C558.3 884 557.1 887.5 555 890C552.9 892.5 547.5 895.7 545 897.5C542.5 899.3 540.8 900.4 540 901L540 903L240 903Z" fill="#dc0000"/>
<path d="M34.5 102C43.1 99.3 76.9 100.8 86 102C95.1 103.2 89 106.2 89 109C89 111.8 87.7 116.2 86 119C84.3 121.8 82.1 124.2 79 126C75.9 127.8 71.1 129.8 67.5 130C63.9 130.2 60.4 129 57.5 127.5C54.6 126 52.8 122.4 50 121C47.2 119.6 43.6 119.5 41 119C38.4 118.5 35.6 120.8 34.5 118C33.4 115.2 25.9 104.7 34.5 102Z" fill="#a55a3c"/>
<path d="M477.5 452.5C479.2 450 484.6 448.3 487.5 447.5C490.4 446.7 492.5 446.7 495 447.5C497.5 448.3 500 450.4 502.5 452.5C505 454.6 507.5 457.1 510 460C512.5 462.9 515.4 467.1 517.5 470C519.6 472.9 520.8 475 522.5 477.5C524.2 480 525.4 483.3 527.5 485C529.6 486.7 532.5 485.8 535 487.5C537.5 489.2 540 492.8 542.5 495C545 497.2 547.8 500.6 550 501C552.2 501.4 555.2 499.3 556 497.5C556.8 495.7 554.3 492.5 555 490C555.7 487.5 556.7 483.5 560 482.5C563.3 481.5 571.7 479.4 575 484C578.3 488.6 580.8 503.2 580 510C579.2 516.8 572.5 520.8 570 525C567.5 529.2 568.3 534 565 535C561.7 536 555 532.2 550 531C545 529.8 540 527.5 535 527.5C530 527.5 525 530.6 520 531C515 531.4 510 530.6 505 530C500 529.4 493.8 528.8 490 527.5C486.2 526.2 482.9 524.2 482.5 522.5C482.1 520.8 485.8 519.6 487.5 517.5C489.2 515.4 492.5 512.9 492.5 510C492.5 507.1 488.8 503.8 487.5 500C486.2 496.2 486.2 491.7 485 487.5C483.8 483.3 481.2 479.2 480 475C478.8 470.8 477.9 466.2 477.5 462.5C477.1 458.8 475.8 455 477.5 452.5Z" fill="#c89b64"/>
<path d="M510 490C511.3 488.2 516.7 486.7 520 487.5C523.3 488.3 525.8 492.1 530 495C534.2 497.9 542.1 501.7 545 505C547.9 508.3 548.3 512.1 547.5 515C546.7 517.9 542.9 521.7 540 522.5C537.1 523.3 533.3 519.6 530 520C526.7 520.4 523.3 524.6 520 525C516.7 525.4 513.3 523.8 510 522.5C506.7 521.2 500.8 519.6 500 517.5C499.2 515.4 502.5 511.7 505 510C507.5 508.3 513.8 509.5 515 507.5C516.2 505.5 512.8 500.9 512 498C511.2 495.1 508.7 491.8 510 490Z" fill="#be8250"/>
<path d="M289 369C290.7 368.6 296.5 370.8 300 370C303.5 369.2 306.2 366.1 310 364C313.8 361.9 318.3 358.3 322.5 357.5C326.7 356.7 330.4 357.3 335 359C339.6 360.7 345.4 364.4 350 367.5C354.6 370.6 359.8 374.8 362.5 377.5C365.2 380.2 366.4 381.9 366 384C365.6 386.1 362.2 388.2 360 390C357.8 391.8 354.2 392.9 352.5 395C350.8 397.1 349.2 400.2 350 402.5C350.8 404.8 355 407.8 357.5 409C360 410.2 364.6 409.4 365 410C365.4 410.6 362.1 412.3 360 412.5C357.9 412.7 354.3 412.4 352.5 411C350.7 409.6 349.4 406.5 349 404C348.6 401.5 351.1 398.3 350 396C348.9 393.7 345.8 391.8 342.5 390C339.2 388.2 334.6 386.2 330 385C325.4 383.8 320 383.8 315 382.5C310 381.2 304.2 379.2 300 377.5C295.8 375.8 291.8 373.9 290 372.5C288.2 371.1 287.3 369.4 289 369Z" fill="#be8250"/>
<path d="M269 347C269.3 345.5 272.3 343.7 275 343C277.7 342.3 282.5 341.8 285 343C287.5 344.2 289.7 347.5 290 350C290.3 352.5 288.7 356.3 287 358C285.3 359.7 281 361 280 360C279 359 282.2 353.3 281 352C279.8 350.7 275 352.8 273 352C271 351.2 268.7 348.5 269 347Z" fill="#be8250"/>
<ellipse cx="428" cy="416" rx="6" ry="7" fill="#be8250"/>
<ellipse cx="396" cy="406" rx="5" ry="5" fill="#be8250"/>
<ellipse cx="583.3" cy="465" rx="5.8" ry="3.7" fill="#be8250"/>
<ellipse cx="595.8" cy="480" rx="4.7" ry="3.3" fill="#be8250"/>
<ellipse cx="614.8" cy="490.3" rx="2.5" ry="3" fill="#be8250"/>
<ellipse cx="623" cy="515" rx="5.5" ry="5.5" fill="#be8250"/>
<ellipse cx="615.5" cy="457.5" rx="4.5" ry="2.8" fill="#be8250"/>
<ellipse cx="570.8" cy="517.5" rx="5" ry="3.7" fill="#be8250"/>
<ellipse cx="1038.3" cy="794.5" rx="3.5" ry="2.2" fill="#871928"/>
<defs><g id="ln"><g fill="none" stroke-width="1.15" stroke-linejoin="round"><path d="M1004 102C1006.7 102.9 1014 104.5 1020 107.5C1026 110.5 1034.2 116.7 1040 120C1045.8 123.3 1051 125 1055 127.5C1059 130 1061.5 134.2 1064 135C1066.5 135.8 1067.3 131.7 1070 132.5C1072.7 133.3 1076.2 137.5 1080 140C1083.8 142.5 1087.9 146.7 1092.5 147.5C1097.1 148.3 1100.8 146.2 1107.5 145C1114.2 143.8 1128.3 140.8 1132.5 140"/><path d="M912.5 102C913.8 104.2 916.7 110.8 920 115C923.3 119.2 928.3 123.3 932.5 127.5C936.7 131.7 940.8 135.8 945 140C949.2 144.2 954.2 149.3 957.5 152.5C960.8 155.7 961.2 157.6 965 159C968.8 160.4 974.2 160.2 980 161C985.8 161.8 992.5 162.5 1000 164C1007.5 165.5 1017.5 167.8 1025 170C1032.5 172.2 1038.3 174.2 1045 177.5C1051.7 180.8 1058.3 187.2 1065 190C1071.7 192.8 1078.3 193.2 1085 194C1091.7 194.8 1099.2 195.7 1105 195C1110.8 194.3 1115.4 190 1120 190C1124.6 190 1130.4 194.2 1132.5 195"/><path d="M842.5 102C843.3 103.8 844.6 108.7 847.5 112.5C850.4 116.3 855.8 120.4 860 125C864.2 129.6 867.1 135 872.5 140C877.9 145 886.2 150 892.5 155C898.8 160 903.8 164.7 910 170C916.2 175.3 923.3 181.6 930 187C936.7 192.4 944.6 198.8 950 202.5C955.4 206.2 958.3 208.2 962.5 209C966.7 209.8 970.8 208.3 975 207.5C979.2 206.7 982.1 204 987.5 204C992.9 204 1001.2 206.3 1007.5 207.5C1013.8 208.7 1019.6 208.9 1025 211C1030.4 213.1 1034.2 217.2 1040 220C1045.8 222.8 1052.5 225.8 1060 227.5C1067.5 229.2 1078.3 227.9 1085 230C1091.7 232.1 1094.6 236.2 1100 240C1105.4 243.8 1112.1 249.6 1117.5 252.5C1122.9 255.4 1130 256.7 1132.5 257.5"/><path d="M771 102C773.3 103.3 781 106.2 785 110C789 113.8 791.7 120 795 125C798.3 130 800 134.6 805 140C810 145.4 817.9 151.2 825 157.5C832.1 163.8 841.2 171.2 847.5 177.5C853.8 183.8 857.1 190.4 862.5 195C867.9 199.6 873.3 201.2 880 205C886.7 208.8 896.7 213.3 902.5 217.5C908.3 221.7 910.4 226.4 915 230C919.6 233.6 924.2 236.7 930 239C935.8 241.3 944.6 243.4 950 244C955.4 244.6 958.3 243.8 962.5 242.5C966.7 241.2 971.2 237.1 975 236C978.8 234.9 981.7 234.5 985 236C988.3 237.5 991.7 241.8 995 245C998.3 248.2 1000 252.5 1005 255C1010 257.5 1019.2 258.3 1025 260C1030.8 261.7 1033.3 263.3 1040 265C1046.7 266.7 1057.5 267.5 1065 270C1072.5 272.5 1079.2 276.2 1085 280C1090.8 283.8 1095 289.2 1100 292.5C1105 295.8 1109.6 298.9 1115 300C1120.4 301.1 1129.6 299.2 1132.5 299"/><path d="M690 102C693.3 104.6 703.3 111.6 710 117.5C716.7 123.4 723.3 131.7 730 137.5C736.7 143.3 745 147.5 750 152.5C755 157.5 755 162.5 760 167.5C765 172.5 772.9 177.9 780 182.5C787.1 187.1 795.8 190.8 802.5 195C809.2 199.2 814.2 202.5 820 207.5C825.8 212.5 830.8 219.2 837.5 225C844.2 230.8 852.5 237.5 860 242.5C867.5 247.5 875.8 251.1 882.5 255C889.2 258.9 895.8 262.8 900 266C904.2 269.2 906.2 272.7 907.5 274"/><path d="M955 286C958.3 286 968.8 284.9 975 286C981.2 287.1 986.7 290.2 992.5 292.5C998.3 294.8 1004.6 296.7 1010 300C1015.4 303.3 1018.3 309.6 1025 312.5C1031.7 315.4 1042.5 315.4 1050 317.5C1057.5 319.6 1065 323.4 1070 325C1075 326.6 1076.7 325.4 1080 327C1083.3 328.6 1085.4 332.2 1090 334.5C1094.6 336.8 1102.5 340.6 1107.5 341C1112.5 341.4 1115.8 338.3 1120 337C1124.2 335.7 1130.4 333.7 1132.5 333"/><path d="M591 102C592.1 103.3 595.2 107.2 597.5 110C599.8 112.8 601.7 116.7 605 119C608.3 121.3 613.3 122.8 617.5 124C621.7 125.2 625.4 124.6 630 126C634.6 127.4 640.4 130.2 645 132.5C649.6 134.8 653.8 136.2 657.5 140C661.2 143.8 663.8 151.2 667.5 155C671.2 158.8 676.2 160 680 162.5C683.8 165 687.1 166.2 690 170C692.9 173.8 694.6 180 697.5 185C700.4 190 702.1 195.4 707.5 200C712.9 204.6 722.5 208.3 730 212.5C737.5 216.7 744.2 221.4 752.5 225C760.8 228.6 772.9 230.7 780 234C787.1 237.3 790 240.2 795 245C800 249.8 805 257.5 810 262.5C815 267.5 819.2 271.7 825 275C830.8 278.3 838.8 280.4 845 282.5C851.2 284.6 857.5 285 862.5 287.5C867.5 290 870.4 294.2 875 297.5C879.6 300.8 884.6 305.4 890 307.5C895.4 309.6 902.5 308.9 907.5 310C912.5 311.1 916.2 312.3 920 314C923.8 315.7 926.7 317.8 930 320C933.3 322.2 934.6 324.2 940 327C945.4 329.8 955 334.1 962.5 337C970 339.9 976.7 342.2 985 344.5C993.3 346.8 1004.6 348.9 1012.5 351C1020.4 353.1 1026.7 353.9 1032.5 357C1038.3 360.1 1042.1 365.5 1047.5 369.5C1052.9 373.5 1058.8 378.1 1065 381C1071.2 383.9 1079.2 385.8 1085 387C1090.8 388.2 1095.4 388.7 1100 388C1104.6 387.3 1108.8 384.2 1112.5 383C1116.2 381.8 1119.2 380.5 1122.5 381C1125.8 381.5 1130.8 385.2 1132.5 386"/><path d="M480 102C481.7 104.2 486.2 110.3 490 115C493.8 119.7 499.2 124.6 502.5 130C505.8 135.4 507.5 143.8 510 147.5C512.5 151.2 514.6 152.5 517.5 152.5C520.4 152.5 524.2 149.4 527.5 147.5C530.8 145.6 535 141 537.5 141C540 141 541.4 144.8 542.5 147.5C543.6 150.2 543.8 155.8 544 157.5"/><path d="M576 172.5C576.5 174.6 579 181.2 579 185C579 188.8 575.4 192.1 576 195C576.6 197.9 578.5 200.8 582.5 202.5C586.5 204.2 590.4 204.6 600 205C609.6 205.4 630.8 202.5 640 205C649.2 207.5 650.4 215 655 220C659.6 225 663.3 230.4 667.5 235C671.7 239.6 674.6 243.8 680 247.5C685.4 251.2 693.3 256.1 700 257.5C706.7 258.9 713.3 254.8 720 256C726.7 257.2 732.5 262.2 740 265C747.5 267.8 758.8 269.6 765 272.5C771.2 275.4 774.2 278.3 777.5 282.5C780.8 286.7 782.1 292.9 785 297.5C787.9 302.1 790 305.8 795 310C800 314.2 810.4 319.7 815 322.5C819.6 325.3 819.2 325.8 822.5 327C825.8 328.2 832.9 329.5 835 330"/><path d="M865 341C867.1 343 873.3 351.2 877.5 353C881.7 354.8 886.2 352.3 890 352C893.8 351.7 896.2 350.2 900 351C903.8 351.8 908.3 353.9 912.5 357C916.7 360.1 919.6 365.8 925 369.5C930.4 373.2 937.9 376.4 945 379.5C952.1 382.6 960 385.2 967.5 388C975 390.8 983.3 393 990 396C996.7 399 1000.8 403.3 1007.5 406C1014.2 408.7 1022.9 409.8 1030 412C1037.1 414.2 1042.9 416.2 1050 419.5C1057.1 422.8 1065.4 428.1 1072.5 432C1079.6 435.9 1085.8 439.8 1092.5 443C1099.2 446.2 1105.8 449.3 1112.5 451C1119.2 452.7 1129.2 452.7 1132.5 453"/><path d="M426 102C427.1 104.2 430.6 109.9 432.5 115C434.4 120.1 435.4 126.7 437.5 132.5C439.6 138.3 442.1 145.4 445 150C447.9 154.6 450.8 157.1 455 160C459.2 162.9 465 164.2 470 167.5C475 170.8 480 174.6 485 180C490 185.4 495 193.8 500 200C505 206.2 510 212.9 515 217.5C520 222.1 525.4 223.3 530 227.5C534.6 231.7 539.6 238.8 542.5 242.5C545.4 246.2 546.7 248.8 547.5 250"/><path d="M580 257.5C582.1 258.8 588.3 264.2 592.5 265C596.7 265.8 601.2 262.5 605 262.5C608.8 262.5 610.8 263.9 615 265C619.2 266.1 625.4 266.5 630 269C634.6 271.5 637.5 276.1 642.5 280C647.5 283.9 652.9 289.6 660 292.5C667.1 295.4 677.1 296.2 685 297.5C692.9 298.8 701.2 297.9 707.5 300C713.8 302.1 717.9 306.2 722.5 310C727.1 313.8 731.7 319.7 735 322.5C738.3 325.3 737.5 325 742.5 327C747.5 329 757.9 331.2 765 334.5C772.1 337.8 779.2 342 785 347C790.8 352 795.4 360.2 800 364.5C804.6 368.8 810.4 371.6 812.5 373"/><path d="M852.5 384.5C856.7 387 870.8 396.2 877.5 399.5C884.2 402.8 888.8 403.7 892.5 404.5C896.2 405.3 895.8 403.4 900 404.5C904.2 405.6 911.7 408.5 917.5 411C923.3 413.5 929.2 416 935 419.5C940.8 423 946.2 428.7 952.5 432C958.8 435.3 965.4 437.7 972.5 439.5C979.6 441.3 988.3 441.3 995 443C1001.7 444.7 1005.8 446.3 1012.5 449.5C1019.2 452.7 1027.1 458.7 1035 462C1042.9 465.3 1051.7 466.6 1060 469.5C1068.3 472.4 1076.7 476.2 1085 479.5C1093.3 482.8 1102.1 486.6 1110 489.5C1117.9 492.4 1128.8 495.8 1132.5 497"/><path d="M340 102C338.8 104.2 334.5 110 332.5 115C330.5 120 328.4 125.8 328 132C327.6 138.2 328.4 146.6 330 152.5C331.6 158.4 334.6 162.5 337.5 167.5C340.4 172.5 343.3 177.9 347.5 182.5C351.7 187.1 357.5 192.1 362.5 195C367.5 197.9 373.3 197.5 377.5 200C381.7 202.5 383.3 207.9 387.5 210C391.7 212.1 397.9 213.3 402.5 212.5C407.1 211.7 411.7 205 415 205C418.3 205 420 209.2 422.5 212.5C425 215.8 427.1 222.1 430 225C432.9 227.9 436.7 230 440 230C443.3 230 447.1 226.5 450 225C452.9 223.5 454.6 220.2 457.5 221C460.4 221.8 463.8 226 467.5 230C471.2 234 475.4 240 480 245C484.6 250 489.2 255.8 495 260C500.8 264.2 509.6 266.2 515 270C520.4 273.8 523.8 278.5 527.5 282.5C531.2 286.5 534.2 291.5 537.5 294C540.8 296.5 545.8 296.9 547.5 297.5"/><path d="M580 305C581.7 307.1 587 313.8 590 317.5C593 321.2 593 324.8 598 327C603 329.2 612.2 329.8 620 331C627.8 332.2 637.9 332.7 645 334.5C652.1 336.3 656.7 339.5 662.5 342C668.3 344.5 674.6 345.8 680 349.5C685.4 353.2 690 359.2 695 364.5C700 369.8 704.2 376 710 381C715.8 386 723.3 391 730 394.5C736.7 398 743.3 399.8 750 402C756.7 404.2 763.3 407.2 770 408C776.7 408.8 784.2 405.1 790 407C795.8 408.9 800.7 416.2 805 419.5C809.3 422.8 814.2 425.8 816 427"/><path d="M860 437C863.3 437.8 874.2 439.7 880 442C885.8 444.3 890.8 447.8 895 451C899.2 454.2 899.6 459 905 461C910.4 463 920.4 462.2 927.5 463C934.6 463.8 940.8 464.1 947.5 466C954.2 467.9 961.2 471.8 967.5 474.5C973.8 477.2 979.6 479.1 985 482C990.4 484.9 994.6 489.3 1000 492C1005.4 494.7 1011.7 496.3 1017.5 498C1023.3 499.7 1029.6 500.1 1035 502C1040.4 503.9 1044.2 507 1050 509.5C1055.8 512 1062.9 515.6 1070 517C1077.1 518.4 1085.8 516.8 1092.5 518C1099.2 519.2 1103.3 521.3 1110 524.5C1116.7 527.7 1128.8 534.9 1132.5 537"/><path d="M236 102C235.7 105 234.2 113.7 234 120C233.8 126.3 234.4 135 235 140C235.6 145 235.8 147.3 237.5 150C239.2 152.7 242.5 154.8 245 156C247.5 157.2 250.7 155.6 252.5 157.5C254.3 159.4 253.9 163.3 256 167.5C258.1 171.7 261.4 177.5 265 182.5C268.6 187.5 273.8 192.5 277.5 197.5C281.2 202.5 283.3 208.9 287.5 212.5C291.7 216.1 297.5 217.9 302.5 219C307.5 220.1 312.9 218 317.5 219C322.1 220 326.7 222.3 330 225C333.3 227.7 333.3 232.5 337.5 235C341.7 237.5 349.6 237.5 355 240C360.4 242.5 365 246.2 370 250C375 253.8 379.6 257.9 385 262.5C390.4 267.1 397.5 273.8 402.5 277.5C407.5 281.2 412.9 283.8 415 285"/><path d="M450 292C452.5 291.8 460 290.7 465 291C470 291.3 475.4 292.9 480 294C484.6 295.1 488.8 295.2 492.5 297.5C496.2 299.8 498.8 304.2 502.5 307.5C506.2 310.8 510.4 314.2 515 317.5C519.6 320.8 525 323.8 530 327C535 330.2 539.2 333.8 545 337C550.8 340.2 558.3 343.5 565 346C571.7 348.5 578.3 349.5 585 352C591.7 354.5 600 357.7 605 361C610 364.3 612.1 367.7 615 372C617.9 376.3 620 383.2 622.5 387C625 390.8 626.2 392 630 394.5C633.8 397 639.6 398.7 645 402C650.4 405.3 656.7 409.9 662.5 414.5C668.3 419.1 674.6 425.3 680 429.5C685.4 433.7 689.2 437 695 439.5C700.8 442 708.3 442.8 715 444.5C721.7 446.2 728.8 447.8 735 449.5C741.2 451.2 745.8 454.5 752.5 454.5C759.2 454.5 768.3 449.1 775 449.5C781.7 449.9 787.1 453.7 792.5 457C797.9 460.3 802.5 465.3 807.5 469.5C812.5 473.7 817.5 478.4 822.5 482C827.5 485.6 832.1 488.9 837.5 491C842.9 493.1 852.1 493.9 855 494.5"/><path d="M897.5 499.5C900.4 501.2 909.2 507 915 509.5C920.8 512 925.8 513.7 932.5 514.5C939.2 515.3 947.5 513.9 955 514.5C962.5 515.1 970 516.3 977.5 518C985 519.7 992.9 521.8 1000 524.5C1007.1 527.2 1013.3 531.2 1020 534.5C1026.7 537.8 1032.9 541.6 1040 544.5C1047.1 547.4 1055.8 549.6 1062.5 552C1069.2 554.4 1073.8 557 1080 559C1086.2 561 1093.8 562.2 1100 564C1106.2 565.8 1112.1 567.7 1117.5 570C1122.9 572.3 1130 576.7 1132.5 578"/><path d="M145 102C145.4 104.2 146.5 110.8 147.5 115C148.5 119.2 150.2 123.3 151 127.5C151.8 131.7 152.5 136.1 152.5 140C152.5 143.9 150.2 148.5 151 151C151.8 153.5 155.3 155 157.5 155C159.7 155 162.6 151 164 151C165.4 151 166.2 153.1 166 155C165.8 156.9 162.5 160 162.5 162.5C162.5 165 164.1 167.2 166 170C167.9 172.8 170.8 176.7 174 179C177.2 181.3 180.7 180.9 185 184C189.3 187.1 195 191.9 200 197.5C205 203.1 211.7 212.1 215 217.5C218.3 222.9 217.5 225.8 220 230C222.5 234.2 226.2 237.9 230 242.5C233.8 247.1 238.3 253.9 242.5 257.5C246.7 261.1 248.8 262.8 255 264C261.2 265.2 272.9 264 280 265C287.1 266 292.1 267.5 297.5 270C302.9 272.5 307.1 276.7 312.5 280C317.9 283.3 324.6 287.5 330 290C335.4 292.5 339.6 293.3 345 295C350.4 296.7 357.1 297.9 362.5 300C367.9 302.1 372.9 304.2 377.5 307.5C382.1 310.8 386.7 316.8 390 320C393.3 323.2 393.8 324.8 397.5 327C401.2 329.2 407.1 331.3 412.5 333C417.9 334.7 425.4 335.1 430 337C434.6 338.9 438.3 343.2 440 344.5"/><path d="M490 346C492.5 347 500.8 349.3 505 352C509.2 354.7 511.7 358.5 515 362C518.3 365.5 520.8 369.8 525 373C529.2 376.2 535 379.1 540 381C545 382.9 548.3 383.9 555 384.5C561.7 385.1 573.8 383.2 580 384.5C586.2 385.8 589.2 388.2 592.5 392C595.8 395.8 597.1 402 600 407C602.9 412 606.7 417.8 610 422C613.3 426.2 616.7 429.1 620 432C623.3 434.9 626.2 437 630 439.5C633.8 442 639 444.1 642.5 447C646 449.9 649.8 452.8 651 457C652.2 461.2 652.2 468.2 650 472C647.8 475.8 640.4 476.6 637.5 479.5C634.6 482.4 633.3 484.9 632.5 489.5C631.7 494.1 631.2 502 632.5 507C633.8 512 637.5 515.8 640 519.5C642.5 523.2 646.2 527.8 647.5 529.5"/><path d="M702.5 527C702.1 525.3 698.3 519.7 700 517C701.7 514.3 707.5 512.2 712.5 511C717.5 509.8 725 510.3 730 509.5C735 508.7 737.5 507.4 742.5 506C747.5 504.6 753.8 501.5 760 501C766.2 500.5 773.3 501.3 780 503C786.7 504.7 795 508.6 800 511C805 513.4 806.5 515.1 810 517.3C813.5 519.5 817.8 522.1 820.7 524C823.6 525.9 826.9 527.4 827.3 528.7C827.7 530 825.7 531 823.3 532C820.9 533 813 533.9 813 534.5C813 535.1 820 535.3 823.3 535.5C826.6 535.7 830 534.9 832.7 535.5C835.4 536.1 837.1 537.7 839.3 539.3C841.5 540.9 844.2 543.7 846 545.3C847.8 546.9 849.3 547.2 850 549C850.7 550.8 849.1 555 850 556C850.9 557 853.1 555.8 855.3 554.7C857.5 553.6 860.6 551.1 863.3 549.3C866 547.5 870 544.9 871.3 544"/><path d="M908.7 546C909.8 546.9 912.6 549.5 915.3 551.3C918 553.1 920.9 556.2 925 557C929.1 557.8 935 556.4 940 556C945 555.6 949.6 554 955 554.5C960.4 555 966.2 557 972.5 559C978.8 561 985.8 564.2 992.5 566.5C999.2 568.8 1006.7 570.9 1012.5 573C1018.3 575.1 1023.3 576.5 1027.5 579C1031.7 581.5 1033.8 585.5 1037.5 588C1041.2 590.5 1044.6 592.3 1050 594C1055.4 595.7 1063.3 597.6 1070 598C1076.7 598.4 1083.8 596.2 1090 596.5C1096.2 596.8 1102.1 598.1 1107.5 600C1112.9 601.9 1118.3 605.8 1122.5 608C1126.7 610.2 1130.8 612.2 1132.5 613"/><path d="M116 102C116.2 105.8 116.5 117.8 117 125C117.5 132.2 119.3 140 119 145C118.7 150 117.3 152.1 115 155C112.7 157.9 108.2 159.2 105 162.5C101.8 165.8 98.1 170.4 96 175C93.9 179.6 94.5 185 92.5 190C90.5 195 87.8 200.8 84 205C80.2 209.2 73.8 211.7 70 215C66.2 218.3 62.8 221.7 61 225C59.2 228.3 58.8 231.2 59 235C59.2 238.8 62.2 244.3 62.5 247.5C62.8 250.7 62.7 252.1 61 254C59.3 255.9 54.2 257.2 52.5 259C50.8 260.8 49.7 262.3 50.5 265C51.3 267.7 54.7 270.4 57.5 275C60.3 279.6 63.8 288.3 67.5 292.5C71.2 296.7 75.8 297.9 80 300C84.2 302.1 89.6 302.1 92.5 305C95.4 307.9 96.1 313.8 97.5 317.5C98.9 321.2 98.5 323.8 101 327C103.5 330.2 107.7 334.3 112.5 337C117.3 339.7 123.8 341.5 130 343C136.2 344.5 144.2 346.3 150 346C155.8 345.7 161 342.9 165 341C169 339.1 171.5 334.8 174 334.5C176.5 334.2 177.3 337.8 180 339.5C182.7 341.2 186.7 343.2 190 344.5C193.3 345.8 195.8 345.8 200 347.5C204.2 349.2 210.4 352.8 215 355C219.6 357.2 222.9 360.2 227.5 361C232.1 361.8 240 360.2 242.5 360"/><path d="M259 382.5C261.7 382.9 270.2 384.2 275 385C279.8 385.8 283.3 386.7 287.5 387.5C291.7 388.3 295.8 388.8 300 390C304.2 391.2 308.8 392.5 312.5 395C316.2 397.5 320 401.2 322.5 405C325 408.8 326.4 414 327.5 417.5C328.6 421 326.9 424.1 329 426C331.1 427.9 336.5 429.3 340 429C343.5 428.7 346.7 425.5 350 424C353.3 422.5 355.8 420 360 420C364.2 420 370.8 422.8 375 424C379.2 425.2 382.1 428.2 385 427.5C387.9 426.8 390 420 392.5 420C395 420 397.9 424.6 400 427.5C402.1 430.4 402.9 434.6 405 437.5C407.1 440.4 409.2 443.3 412.5 445C415.8 446.7 420.4 447.9 425 447.5C429.6 447.1 435 444.2 440 442.5C445 440.8 452.5 438.3 455 437.5"/><path d="M455 417.5C456.7 416.9 461.7 414.4 465 414C468.3 413.6 471.7 413.6 475 415C478.3 416.4 481.7 420 485 422.5C488.3 425 492.1 429.7 495 430C497.9 430.3 500 426.7 502.5 424.5C505 422.3 506.2 418.2 510 417C513.8 415.8 520 415.3 525 417C530 418.7 535.8 424.1 540 427C544.2 429.9 547.8 431.7 550 434.5C552.2 437.3 553 441 553 444C553 447 548.8 449.8 550 452.5C551.2 455.2 557.1 457.1 560 460C562.9 462.9 565.4 466.2 567.5 470C569.6 473.8 571.2 478.3 572.5 482.5C573.8 486.7 574.1 490.4 575 495C575.9 499.6 578.5 505.8 578 510C577.5 514.2 574.2 517.2 572 520C569.8 522.8 566.7 524.2 565 527C563.3 529.8 561.2 534 562 537C562.8 540 567 542.8 570 545C573 547.2 577.5 547.9 580 550C582.5 552.1 584.2 554.2 585 557.5C585.8 560.8 585 567.9 585 570"/><path d="M640 567.5C643.3 567.2 652.5 566.8 660 566C667.5 565.2 678.3 563.5 685 562.5C691.7 561.5 695 561.2 700 560C705 558.8 710 556 715 555C720 554 725 552.9 730 553.8C735 554.6 740 557.3 745 560C750 562.7 755.8 567.2 760 570C764.2 572.8 765.8 575 770 576.5C774.2 578 781.2 577.3 785 579C788.8 580.7 790.8 583.6 792.5 586.5C794.2 589.4 792.9 593.6 795 596.5C797.1 599.4 800.8 601.5 805 604C809.2 606.5 814.6 609.8 820 611.5C825.4 613.2 832.9 614.2 837.5 614C842.1 613.8 845.8 610.7 847.5 610"/><path d="M890 613C891.7 614.4 895.8 619.5 900 621.5C904.2 623.5 909.6 624.6 915 625C920.4 625.4 925.8 624.6 932.5 624C939.2 623.4 948.3 621.3 955 621.5C961.7 621.7 967.1 623.3 972.5 625C977.9 626.7 982.5 629.2 987.5 631.5C992.5 633.8 997.5 636.9 1002.5 639C1007.5 641.1 1012.9 644 1017.5 644C1022.1 644 1026.2 639.8 1030 639C1033.8 638.2 1035.8 638.6 1040 639C1044.2 639.4 1049.6 639.7 1055 641.5C1060.4 643.3 1066.7 647.9 1072.5 650C1078.3 652.1 1083.8 653.2 1090 654C1096.2 654.8 1102.9 654.2 1110 655C1117.1 655.8 1128.8 658.3 1132.5 659"/><path d="M34.5 358C36.2 358.7 42 359.2 45 362C48 364.8 50 371 52.5 374.5C55 378 58.8 381.6 60 383"/><path d="M112.5 396C114.6 396.8 121.2 398.3 125 401C128.8 403.7 132.1 407.7 135 412C137.9 416.3 139.2 423 142.5 427C145.8 431 149.6 433.3 155 436C160.4 438.7 170.8 442.4 175 443C179.2 443.6 177.5 439.8 180 439.5C182.5 439.2 185.8 439.1 190 441C194.2 442.9 199.6 446.7 205 451C210.4 455.3 216.2 463.5 222.5 467C228.8 470.5 235.4 470.5 242.5 472C249.6 473.5 257.9 474.3 265 476C272.1 477.7 278.8 478.9 285 482C291.2 485.1 297.6 490.4 302.5 494.5C307.4 498.6 310.9 503.6 314.7 506.7C318.5 509.8 321.8 511.1 325.3 513.3C328.9 515.5 332.7 517.5 336 520C339.3 522.5 342.9 525.9 345.3 528C347.8 530.1 348.7 531.5 350.7 532.7C352.7 533.9 355.3 534.4 357.3 535.3C359.3 536.2 361.2 536.8 362.7 538C364.1 539.2 365.2 540.9 366 542.7C366.8 544.5 367.1 547.7 367.3 548.7"/><path d="M402.5 571.5C403.8 573.6 406.2 580.4 410 584C413.8 587.6 420 591.5 425 593C430 594.5 435 592.2 440 593C445 593.8 449.6 596.6 455 598C460.4 599.4 465 600.5 472.5 601.5C480 602.5 490.4 603.2 500 604C509.6 604.8 520.8 605.5 530 606.5C539.2 607.5 548.3 609.8 555 610C561.7 610.2 565 609.4 570 608C575 606.6 580 602.8 585 601.5C590 600.2 595 599.6 600 600C605 600.4 612.5 603.3 615 604"/><path d="M662.5 621.5C664.6 622.8 670.4 627.9 675 629C679.6 630.1 685.4 629 690 628C694.6 627 698.8 624.5 702.5 623C706.2 621.5 709.2 618.8 712.5 619C715.8 619.2 718.8 621.7 722.5 624C726.2 626.3 730 630.7 735 633C740 635.3 746.7 636 752.5 638C758.3 640 763.8 642.5 770 645C776.2 647.5 784.2 650.7 790 653C795.8 655.3 800.4 656.2 805 659C809.6 661.8 812.9 666.7 817.5 670C822.1 673.3 827.5 676 832.5 679C837.5 682 842.9 684.7 847.5 688C852.1 691.3 855.8 695.3 860 699C864.2 702.7 868.3 707.1 872.5 710C876.7 712.9 881.2 715.4 885 716.5C888.8 717.6 891.2 717.3 895 716.5C898.8 715.7 903.3 713.6 907.5 711.5C911.7 709.4 917.9 705.2 920 704"/><path d="M962.5 701.5C965.8 701.9 976.2 703.8 982.5 704C988.8 704.2 994.2 703.7 1000 703C1005.8 702.3 1011.7 700.2 1017.5 700C1023.3 699.8 1030.4 700 1035 701.5C1039.6 703 1041.7 706.9 1045 709C1048.3 711.1 1052.1 713.6 1055 714C1057.9 714.4 1060 712.3 1062.5 711.5C1065 710.7 1067.9 707.8 1070 709C1072.1 710.2 1073.3 715.2 1075 719C1076.7 722.8 1078.3 727.5 1080 731.5C1081.7 735.5 1082.9 741.3 1085 743C1087.1 744.7 1090.4 743.8 1092.5 741.5C1094.6 739.2 1095.8 732.1 1097.5 729C1099.2 725.9 1100.4 724 1102.5 723C1104.6 722 1107.9 721.6 1110 723C1112.1 724.4 1113.8 728.7 1115 731.5C1116.2 734.3 1115.8 737.9 1117.5 740C1119.2 742.1 1122.5 743.8 1125 744C1127.5 744.2 1131.2 741.9 1132.5 741.5"/><path d="M34.5 471C37.5 470.8 47.8 470.8 52.5 469.5C57.2 468.2 58.8 464.9 62.5 463C66.2 461.1 71.9 458 75 458C78.1 458 79.5 459.8 81 463C82.5 466.2 84 472.2 84 477C84 481.8 80.8 488 81 492C81.2 496 81.4 499.3 85 501C88.6 502.7 97.9 500.2 102.5 502C107.1 503.8 109.6 507.8 112.5 512C115.4 516.2 117.5 522 120 527C122.5 532 124.6 537.4 127.5 542C130.4 546.6 135 551.7 137.5 554.5C140 557.3 140.4 556.6 142.5 559C144.6 561.4 146.2 565.8 150 569C153.8 572.2 160 577.2 165 578C170 578.8 175 575.1 180 574C185 572.9 192.5 571.9 195 571.5"/><path d="M237.5 575C239.6 576.9 244.6 583.5 250 586.5C255.4 589.5 263.3 591.3 270 593C276.7 594.7 284.2 594.2 290 596.5C295.8 598.8 300 603.6 305 606.5C310 609.4 315.8 611.9 320 614C324.2 616.1 325 616.9 330 619C335 621.1 342.5 625.2 350 626.5C357.5 627.8 367.5 624.8 375 626.5C382.5 628.2 387.5 633.4 395 636.5C402.5 639.6 412.1 642.5 420 645C427.9 647.5 436.7 650 442.5 651.5C448.3 653 452.9 653.6 455 654"/><path d="M495 649C496.7 649 501.7 648 505 649C508.3 650 511.2 652.9 515 655C518.8 657.1 521.7 660.2 527.5 661.5C533.3 662.8 542.1 662.6 550 663C557.9 663.4 566.7 664.5 575 664C583.3 663.5 592.9 660 600 660C607.1 660 612.5 662.3 617.5 664C622.5 665.7 625.8 667.5 630 670C634.2 672.5 637.9 675.8 642.5 679C647.1 682.2 651.2 686.5 657.5 689C663.8 691.5 672.1 692.5 680 694C687.9 695.5 697.5 696.5 705 698C712.5 699.5 720.4 702.7 725 703C729.6 703.3 731.2 700.5 732.5 700"/><path d="M765 699C766.7 700.7 771.7 704.8 775 709C778.3 713.2 781.7 720.5 785 724C788.3 727.5 790.8 728.2 795 730C799.2 731.8 804.6 732.5 810 735C815.4 737.5 821.2 741.8 827.5 745C833.8 748.2 840.8 751.8 847.5 754C854.2 756.2 862.9 756.7 867.5 758C872.1 759.3 872.5 760.8 875 762C877.5 763.2 880 763 882.5 765C885 767 887.5 770.7 890 774C892.5 777.3 894.2 782.2 897.5 785C900.8 787.8 905.4 790 910 791C914.6 792 919.6 790.8 925 791C930.4 791.2 936.7 791.2 942.5 792.5C948.3 793.8 954.2 796.9 960 799C965.8 801.1 972.1 802.8 977.5 805C982.9 807.2 987.9 809.6 992.5 812.5C997.1 815.4 1001.2 819.6 1005 822.5C1008.8 825.4 1011.7 828.9 1015 830C1018.3 831.1 1022.1 829.8 1025 829C1027.9 828.2 1030 824.4 1032.5 825C1035 825.6 1037.1 829.6 1040 832.5C1042.9 835.4 1046.7 838.8 1050 842.5C1053.3 846.2 1057.1 850.8 1060 855C1062.9 859.2 1065 864.2 1067.5 867.5C1070 870.8 1071.2 872.9 1075 875C1078.8 877.1 1084.2 877.8 1090 880C1095.8 882.2 1104.2 886.3 1110 888C1115.8 889.7 1121.2 890.2 1125 890C1128.8 889.8 1131.2 887.5 1132.5 887"/><path d="M34.5 550C35 551.5 36.2 555.4 37.5 559C38.8 562.6 40 567.3 42.5 571.5C45 575.7 50 579.4 52.5 584C55 588.6 55.8 594.4 57.5 599C59.2 603.6 59.6 608 62.5 611.5C65.4 615 69.6 617.2 75 620C80.4 622.8 88.3 625.7 95 628C101.7 630.3 109.2 632.8 115 634C120.8 635.2 125.4 633.8 130 635C134.6 636.2 137.5 639.8 142.5 641.5C147.5 643.2 154.6 643.9 160 645C165.4 646.1 169.6 648 175 648C180.4 648 187.9 644.7 192.5 645C197.1 645.3 200 647.7 202.5 650C205 652.3 205.8 656.2 207.5 659C209.2 661.8 211.7 665.2 212.5 666.5"/><path d="M250 671.5C253.3 670.9 262.5 669.7 270 668C277.5 666.3 287.9 662.2 295 661.5C302.1 660.8 306.7 662.8 312.5 664C318.3 665.2 324.6 666.5 330 669C335.4 671.5 340 676.1 345 679C350 681.9 354.2 684.7 360 686.5C365.8 688.3 371.2 688.9 380 690C388.8 691.1 405 691.5 412.5 693C420 694.5 420.4 697.3 425 699C429.6 700.7 434.2 702.8 440 703C445.8 703.2 453.3 699.7 460 700C466.7 700.3 472.5 703.5 480 705C487.5 706.5 498.3 707.1 505 709C511.7 710.9 517.5 715.2 520 716.5"/><path d="M562.5 728C565.4 729 573.8 732.3 580 734C586.2 735.7 593.8 736.5 600 738C606.2 739.5 612.5 742 617.5 743C622.5 744 625.4 744.7 630 744C634.6 743.3 640 739.7 645 739C650 738.3 655 738.8 660 740C665 741.2 670.4 743.5 675 746.5C679.6 749.5 683.3 755.2 687.5 758C691.7 760.8 695.8 762.8 700 763C704.2 763.2 708.8 761.3 712.5 759C716.2 756.7 718.8 751.9 722.5 749C726.2 746.1 730.8 743.3 735 741.5C739.2 739.7 744.3 738 747.5 738C750.7 738 752.3 738.4 754 741.5C755.7 744.6 756.5 751.9 757.5 756.5C758.5 761.1 758.8 764.7 760 769C761.2 773.3 761.7 779 765 782.5C768.3 786 774.6 787.9 780 790C785.4 792.1 792.1 792.9 797.5 795C802.9 797.1 807.9 800.4 812.5 802.5C817.1 804.6 821.7 805 825 807.5C828.3 810 830 814.4 832.5 817.5C835 820.6 836.7 823.9 840 826C843.3 828.1 849.2 828.5 852.5 830C855.8 831.5 858.8 834.2 860 835"/><path d="M902.5 842.5C904.6 843.9 910.8 848.1 915 851C919.2 853.9 922.9 857.2 927.5 860C932.1 862.8 937.5 865 942.5 867.5C947.5 870 952.1 871.2 957.5 875C962.9 878.8 970.4 885.7 975 890C979.6 894.3 983.3 899.2 985 901"/><path d="M34.5 688C36.2 688.6 41.6 690.7 45 691.5C48.4 692.3 51.7 690.9 55 693C58.3 695.1 61.2 700.1 65 704C68.8 707.9 73.3 712.3 77.5 716.5C81.7 720.7 86.7 726.5 90 729C93.3 731.5 95 731.9 97.5 731.5C100 731.1 102.9 728.2 105 726.5C107.1 724.8 107.1 721.9 110 721.5C112.9 721.1 118.8 722.1 122.5 724C126.2 725.9 130 730.7 132.5 733C135 735.3 135 737 137.5 738C140 739 143.8 739.8 147.5 739C151.2 738.2 155.4 734.7 160 733C164.6 731.3 168.3 729.8 175 729C181.7 728.2 192.5 728.8 200 728C207.5 727.2 213.3 724.8 220 724C226.7 723.2 234.2 722.8 240 723C245.8 723.2 250.4 724 255 725C259.6 726 263.3 729.3 267.5 729C271.7 728.7 275.4 724.2 280 723C284.6 721.8 289.6 721.2 295 721.5C300.4 721.8 306.7 723.8 312.5 725C318.3 726.2 324.6 726.7 330 729C335.4 731.3 340.8 736.7 345 739C349.2 741.3 353.3 742.3 355 743"/><path d="M395 741.5C397.1 741.8 402.5 743.4 407.5 743C412.5 742.6 420 739.7 425 739C430 738.3 433.3 738.3 437.5 739C441.7 739.7 444.6 741.8 450 743C455.4 744.2 463.8 744.8 470 746.5C476.2 748.2 482.1 750.8 487.5 753C492.9 755.2 497.9 757.3 502.5 760C507.1 762.7 510.4 766.1 515 769C519.6 771.9 524.6 775 530 777.5C535.4 780 540.8 782.3 547.5 784C554.2 785.7 562.1 786.5 570 787.5C577.9 788.5 586.2 789.4 595 790C603.8 790.6 617.9 790.8 622.5 791"/><path d="M661 795C662.9 796 667.7 800.2 672.5 801C677.3 801.8 684.2 800.2 690 800C695.8 799.8 702.5 799.3 707.5 800C712.5 800.7 715.4 801.9 720 804C724.6 806.1 730 809 735 812.5C740 816 745.4 820.8 750 825C754.6 829.2 758.3 833.8 762.5 837.5C766.7 841.2 770.4 844.2 775 847.5C779.6 850.8 785.8 853.8 790 857.5C794.2 861.2 796.2 865.8 800 870C803.8 874.2 808.8 879.2 812.5 882.5C816.2 885.8 818.8 887.8 822.5 890C826.2 892.2 830.8 894.3 835 896C839.2 897.7 844.6 899.2 847.5 900C850.4 900.8 851.7 900.8 852.5 901"/><path d="M34.5 829C37.1 828.3 44.5 826.7 50 825C55.5 823.3 60.4 821.1 67.5 819C74.6 816.9 86.2 814.2 92.5 812.5C98.8 810.8 100.8 809.6 105 809C109.2 808.4 113.3 807.8 117.5 809C121.7 810.2 125.8 813.2 130 816C134.2 818.8 138.3 823.7 142.5 826C146.7 828.3 150 829.3 155 830C160 830.7 168.3 830.7 172.5 830C176.7 829.3 177.9 828.1 180 826C182.1 823.9 183.5 820.2 185 817.5C186.5 814.8 188.2 813.1 189 810C189.8 806.9 187.3 801.1 190 799C192.7 796.9 200 797.8 205 797.5C210 797.2 214.6 797.5 220 797.5C225.4 797.5 231.7 798.8 237.5 797.5C243.3 796.2 249.2 792.1 255 790C260.8 787.9 269.6 785.8 272.5 785"/><path d="M315 790C317.5 789.7 324.2 788 330 788C335.8 788 342.5 789.7 350 790C357.5 790.3 367.1 789.8 375 790C382.9 790.2 390.8 791 397.5 791C404.2 791 409.6 791.2 415 790C420.4 788.8 425 785.2 430 784C435 782.8 439.2 782.5 445 782.5C450.8 782.5 459.2 782.9 465 784C470.8 785.1 475 786.5 480 789C485 791.5 489.2 795.7 495 799C500.8 802.3 508.3 805.9 515 809C521.7 812.1 528.3 815.2 535 817.5C541.7 819.8 548.3 821.2 555 822.5C561.7 823.8 569.2 823.6 575 825C580.8 826.4 585.8 829.2 590 831C594.2 832.8 598.3 835.2 600 836"/><path d="M642.5 840C645 840.7 652.9 842.3 657.5 844C662.1 845.7 666.7 848.6 670 850C673.3 851.4 674.6 852.5 677.5 852.5C680.4 852.5 684.2 850.8 687.5 850C690.8 849.2 694.2 847.3 697.5 847.5C700.8 847.7 703.8 848.9 707.5 851C711.2 853.1 716.2 856.8 720 860C723.8 863.2 727.1 866.2 730 870C732.9 873.8 735.2 878.8 737.5 882.5C739.8 886.2 741.9 889.4 744 892.5C746.1 895.6 749 899.6 750 901"/><path d="M240 901C241.2 898.8 245 892.2 247.5 887.5C250 882.8 252.1 877.1 255 872.5C257.9 867.9 261.2 863.3 265 860C268.8 856.7 272.5 854.3 277.5 852.5C282.5 850.7 289.2 850.1 295 849C300.8 847.9 306.7 847.1 312.5 846C318.3 844.9 327.1 843.1 330 842.5"/><path d="M380 845C382.5 843.3 390 837.1 395 835C400 832.9 404.6 832.3 410 832.5C415.4 832.7 421.2 834.8 427.5 836C433.8 837.2 440.4 838.3 447.5 840C454.6 841.7 462.9 843.5 470 846C477.1 848.5 484.2 851.8 490 855C495.8 858.2 500.8 861.8 505 865C509.2 868.2 510.8 871.7 515 874C519.2 876.3 524.2 877.8 530 879C535.8 880.2 545.4 880.4 550 881C554.6 881.6 556.7 881 557.5 882.5C558.3 884 557.1 887.5 555 890C552.9 892.5 547.5 895.7 545 897.5C542.5 899.3 540.8 900.4 540 901"/><path d="M34.5 102C43.1 99.3 76.9 100.8 86 102C95.1 103.2 89 106.2 89 109C89 111.8 87.7 116.2 86 119C84.3 121.8 82.1 124.2 79 126C75.9 127.8 71.1 129.8 67.5 130C63.9 130.2 60.4 129 57.5 127.5C54.6 126 52.8 122.4 50 121C47.2 119.6 43.6 119.5 41 119C38.4 118.5 35.6 120.8 34.5 118C33.4 115.2 25.9 104.7 34.5 102Z"/><path d="M477.5 452.5C479.2 450 484.6 448.3 487.5 447.5C490.4 446.7 492.5 446.7 495 447.5C497.5 448.3 500 450.4 502.5 452.5C505 454.6 507.5 457.1 510 460C512.5 462.9 515.4 467.1 517.5 470C519.6 472.9 520.8 475 522.5 477.5C524.2 480 525.4 483.3 527.5 485C529.6 486.7 532.5 485.8 535 487.5C537.5 489.2 540 492.8 542.5 495C545 497.2 547.8 500.6 550 501C552.2 501.4 555.2 499.3 556 497.5C556.8 495.7 554.3 492.5 555 490C555.7 487.5 556.7 483.5 560 482.5C563.3 481.5 571.7 479.4 575 484C578.3 488.6 580.8 503.2 580 510C579.2 516.8 572.5 520.8 570 525C567.5 529.2 568.3 534 565 535C561.7 536 555 532.2 550 531C545 529.8 540 527.5 535 527.5C530 527.5 525 530.6 520 531C515 531.4 510 530.6 505 530C500 529.4 493.8 528.8 490 527.5C486.2 526.2 482.9 524.2 482.5 522.5C482.1 520.8 485.8 519.6 487.5 517.5C489.2 515.4 492.5 512.9 492.5 510C492.5 507.1 488.8 503.8 487.5 500C486.2 496.2 486.2 491.7 485 487.5C483.8 483.3 481.2 479.2 480 475C478.8 470.8 477.9 466.2 477.5 462.5C477.1 458.8 475.8 455 477.5 452.5Z"/><path d="M289 369C290.7 368.6 296.5 370.8 300 370C303.5 369.2 306.2 366.1 310 364C313.8 361.9 318.3 358.3 322.5 357.5C326.7 356.7 330.4 357.3 335 359C339.6 360.7 345.4 364.4 350 367.5C354.6 370.6 359.8 374.8 362.5 377.5C365.2 380.2 366.4 381.9 366 384C365.6 386.1 362.2 388.2 360 390C357.8 391.8 354.2 392.9 352.5 395C350.8 397.1 349.2 400.2 350 402.5C350.8 404.8 355 407.8 357.5 409C360 410.2 364.6 409.4 365 410C365.4 410.6 362.1 412.3 360 412.5C357.9 412.7 354.3 412.4 352.5 411C350.7 409.6 349.4 406.5 349 404C348.6 401.5 351.1 398.3 350 396C348.9 393.7 345.8 391.8 342.5 390C339.2 388.2 334.6 386.2 330 385C325.4 383.8 320 383.8 315 382.5C310 381.2 304.2 379.2 300 377.5C295.8 375.8 291.8 373.9 290 372.5C288.2 371.1 287.3 369.4 289 369Z"/><path d="M269 347C269.3 345.5 272.3 343.7 275 343C277.7 342.3 282.5 341.8 285 343C287.5 344.2 289.7 347.5 290 350C290.3 352.5 288.7 356.3 287 358C285.3 359.7 281 361 280 360C279 359 282.2 353.3 281 352C279.8 350.7 275 352.8 273 352C271 351.2 268.7 348.5 269 347Z"/><ellipse cx="428" cy="416" rx="6" ry="7"/><ellipse cx="396" cy="406" rx="5" ry="5"/><ellipse cx="583.3" cy="465" rx="5.8" ry="3.7"/><ellipse cx="595.8" cy="480" rx="4.7" ry="3.3"/><ellipse cx="614.8" cy="490.3" rx="2.5" ry="3"/><ellipse cx="623" cy="515" rx="5.5" ry="5.5"/><ellipse cx="615.5" cy="457.5" rx="4.5" ry="2.8"/><ellipse cx="570.8" cy="517.5" rx="5" ry="3.7"/><ellipse cx="1038.3" cy="794.5" rx="3.5" ry="2.2"/></g></g><g id="gd" stroke-width="1.5" stroke-dasharray="2.4 7.416" fill="none"><path d="M34.5 895.4H1132.5" stroke-dashoffset="-7.25"/><path d="M34.5 838.9H1132.5" stroke-dashoffset="-7.25"/><path d="M34.5 782.4H1132.5" stroke-dashoffset="-7.25"/><path d="M34.5 725.8H1132.5" stroke-dashoffset="-7.25"/><path d="M34.5 669.3H1132.5" stroke-dashoffset="-7.25"/><path d="M34.5 612.8H1132.5" stroke-dashoffset="-7.25"/><path d="M34.5 556.2H1132.5" stroke-dashoffset="-7.25"/><path d="M34.5 499.7H1132.5" stroke-dashoffset="-7.25"/><path d="M34.5 443.2H1132.5" stroke-dashoffset="-7.25"/><path d="M34.5 386.6H1132.5" stroke-dashoffset="-7.25"/><path d="M34.5 330.1H1132.5" stroke-dashoffset="-7.25"/><path d="M34.5 273.6H1132.5" stroke-dashoffset="-7.25"/><path d="M34.5 217.1H1132.5" stroke-dashoffset="-7.25"/><path d="M34.5 160.5H1132.5" stroke-dashoffset="-7.25"/><path d="M34.5 104H1132.5" stroke-dashoffset="-7.25"/><path d="M93 102V901" stroke-dashoffset="-4.54"/><path d="M187.2 102V901" stroke-dashoffset="-4.54"/><path d="M281.5 102V901" stroke-dashoffset="-4.54"/><path d="M375.7 102V901" stroke-dashoffset="-4.54"/><path d="M470 102V901" stroke-dashoffset="-4.54"/><path d="M564.2 102V901" stroke-dashoffset="-4.54"/><path d="M658.5 102V901" stroke-dashoffset="-4.54"/><path d="M752.7 102V901" stroke-dashoffset="-4.54"/><path d="M847 102V901" stroke-dashoffset="-4.54"/><path d="M941.2 102V901" stroke-dashoffset="-4.54"/><path d="M1035.5 102V901" stroke-dashoffset="-4.54"/><path d="M1129.7 102V901" stroke-dashoffset="-4.54"/></g><clipPath id="c63"><path d="M591 102C592.1 103.3 595.2 107.2 597.5 110C599.8 112.8 601.7 116.7 605 119C608.3 121.3 613.3 122.8 617.5 124C621.7 125.2 625.4 124.6 630 126C634.6 127.4 640.4 130.2 645 132.5C649.6 134.8 653.8 136.2 657.5 140C661.2 143.8 663.8 151.2 667.5 155C671.2 158.8 676.2 160 680 162.5C683.8 165 687.1 166.2 690 170C692.9 173.8 694.6 180 697.5 185C700.4 190 702.1 195.4 707.5 200C712.9 204.6 722.5 208.3 730 212.5C737.5 216.7 744.2 221.4 752.5 225C760.8 228.6 772.9 230.7 780 234C787.1 237.3 790 240.2 795 245C800 249.8 805 257.5 810 262.5C815 267.5 819.2 271.7 825 275C830.8 278.3 838.8 280.4 845 282.5C851.2 284.6 857.5 285 862.5 287.5C867.5 290 870.4 294.2 875 297.5C879.6 300.8 884.6 305.4 890 307.5C895.4 309.6 902.5 308.9 907.5 310C912.5 311.1 916.2 312.3 920 314C923.8 315.7 926.7 317.8 930 320C933.3 322.2 934.6 324.2 940 327C945.4 329.8 955 334.1 962.5 337C970 339.9 976.7 342.2 985 344.5C993.3 346.8 1004.6 348.9 1012.5 351C1020.4 353.1 1026.7 353.9 1032.5 357C1038.3 360.1 1042.1 365.5 1047.5 369.5C1052.9 373.5 1058.8 378.1 1065 381C1071.2 383.9 1079.2 385.8 1085 387C1090.8 388.2 1095.4 388.7 1100 388C1104.6 387.3 1108.8 384.2 1112.5 383C1116.2 381.8 1119.2 380.5 1122.5 381C1125.8 381.5 1130.8 385.2 1132.5 386L1134.5 386L1134.5 903L32.5 903L32.5 100L591 100Z"/></clipPath><clipPath id="c39"><path d="M236 102C235.7 105 234.2 113.7 234 120C233.8 126.3 234.4 135 235 140C235.6 145 235.8 147.3 237.5 150C239.2 152.7 242.5 154.8 245 156C247.5 157.2 250.7 155.6 252.5 157.5C254.3 159.4 253.9 163.3 256 167.5C258.1 171.7 261.4 177.5 265 182.5C268.6 187.5 273.8 192.5 277.5 197.5C281.2 202.5 283.3 208.9 287.5 212.5C291.7 216.1 297.5 217.9 302.5 219C307.5 220.1 312.9 218 317.5 219C322.1 220 326.7 222.3 330 225C333.3 227.7 333.3 232.5 337.5 235C341.7 237.5 349.6 237.5 355 240C360.4 242.5 365 246.2 370 250C375 253.8 379.6 257.9 385 262.5C390.4 267.1 397.5 273.8 402.5 277.5C407.5 281.2 407.1 282.6 415 285C422.9 287.4 441.7 291 450 292C458.3 293 460 290.7 465 291C470 291.3 475.4 292.9 480 294C484.6 295.1 488.8 295.2 492.5 297.5C496.2 299.8 498.8 304.2 502.5 307.5C506.2 310.8 510.4 314.2 515 317.5C519.6 320.8 525 323.8 530 327C535 330.2 539.2 333.8 545 337C550.8 340.2 558.3 343.5 565 346C571.7 348.5 578.3 349.5 585 352C591.7 354.5 600 357.7 605 361C610 364.3 612.1 367.7 615 372C617.9 376.3 620 383.2 622.5 387C625 390.8 626.2 392 630 394.5C633.8 397 639.6 398.7 645 402C650.4 405.3 656.7 409.9 662.5 414.5C668.3 419.1 674.6 425.3 680 429.5C685.4 433.7 689.2 437 695 439.5C700.8 442 708.3 442.8 715 444.5C721.7 446.2 728.8 447.8 735 449.5C741.2 451.2 745.8 454.5 752.5 454.5C759.2 454.5 768.3 449.1 775 449.5C781.7 449.9 787.1 453.7 792.5 457C797.9 460.3 802.5 465.3 807.5 469.5C812.5 473.7 817.5 478.4 822.5 482C827.5 485.6 832.1 488.9 837.5 491C842.9 493.1 845 493.1 855 494.5C865 495.9 887.5 497 897.5 499.5C907.5 502 909.2 507 915 509.5C920.8 512 925.8 513.7 932.5 514.5C939.2 515.3 947.5 513.9 955 514.5C962.5 515.1 970 516.3 977.5 518C985 519.7 992.9 521.8 1000 524.5C1007.1 527.2 1013.3 531.2 1020 534.5C1026.7 537.8 1032.9 541.6 1040 544.5C1047.1 547.4 1055.8 549.6 1062.5 552C1069.2 554.4 1073.8 557 1080 559C1086.2 561 1093.8 562.2 1100 564C1106.2 565.8 1112.1 567.7 1117.5 570C1122.9 572.3 1130 576.7 1132.5 578L1134.5 578L1134.5 903L32.5 903L32.5 100L236 100Z"/></clipPath><clipPath id="c21"><path d="M34.5 358C36.2 358.7 42 359.2 45 362C48 364.8 50 371 52.5 374.5C55 378 53.3 380.1 60 383C66.7 385.9 83.8 389.8 92.5 392C101.2 394.2 107.1 394.5 112.5 396C117.9 397.5 121.2 398.3 125 401C128.8 403.7 132.1 407.7 135 412C137.9 416.3 139.2 423 142.5 427C145.8 431 149.6 433.3 155 436C160.4 438.7 170.8 442.4 175 443C179.2 443.6 177.5 439.8 180 439.5C182.5 439.2 185.8 439.1 190 441C194.2 442.9 199.6 446.7 205 451C210.4 455.3 216.2 463.5 222.5 467C228.8 470.5 235.4 470.5 242.5 472C249.6 473.5 257.9 474.3 265 476C272.1 477.7 278.8 478.9 285 482C291.2 485.1 297.6 490.4 302.5 494.5C307.4 498.6 310.9 503.6 314.7 506.7C318.5 509.8 321.8 511.1 325.3 513.3C328.9 515.5 332.7 517.5 336 520C339.3 522.5 342.9 525.9 345.3 528C347.8 530.1 348.7 531.5 350.7 532.7C352.7 533.9 355.3 534.4 357.3 535.3C359.3 536.2 361.2 536.8 362.7 538C364.1 539.2 365.2 540.9 366 542.7C366.8 544.5 367.5 546.5 367.3 548.7C367.1 550.9 360.2 554.1 365 556C369.8 557.9 389.8 557.4 396 560C402.2 562.6 400.2 567.5 402.5 571.5C404.8 575.5 406.2 580.4 410 584C413.8 587.6 420 591.5 425 593C430 594.5 435 592.2 440 593C445 593.8 449.6 596.6 455 598C460.4 599.4 465 600.5 472.5 601.5C480 602.5 490.4 603.2 500 604C509.6 604.8 520.8 605.5 530 606.5C539.2 607.5 548.3 609.8 555 610C561.7 610.2 565 609.4 570 608C575 606.6 580 602.8 585 601.5C590 600.2 595 599.6 600 600C605 600.4 610 602.1 615 604C620 605.9 622.1 608.6 630 611.5C637.9 614.4 655 618.6 662.5 621.5C670 624.4 670.4 627.9 675 629C679.6 630.1 685.4 629 690 628C694.6 627 698.8 624.5 702.5 623C706.2 621.5 709.2 618.8 712.5 619C715.8 619.2 718.8 621.7 722.5 624C726.2 626.3 730 630.7 735 633C740 635.3 746.7 636 752.5 638C758.3 640 763.8 642.5 770 645C776.2 647.5 784.2 650.7 790 653C795.8 655.3 800.4 656.2 805 659C809.6 661.8 812.9 666.7 817.5 670C822.1 673.3 827.5 676 832.5 679C837.5 682 842.9 684.7 847.5 688C852.1 691.3 855.8 695.3 860 699C864.2 702.7 868.3 707.1 872.5 710C876.7 712.9 881.2 715.4 885 716.5C888.8 717.6 891.2 717.3 895 716.5C898.8 715.7 903.3 713.6 907.5 711.5C911.7 709.4 916.2 706.1 920 704C923.8 701.9 922.9 699.4 930 699C937.1 698.6 953.8 700.7 962.5 701.5C971.2 702.3 976.2 703.8 982.5 704C988.8 704.2 994.2 703.7 1000 703C1005.8 702.3 1011.7 700.2 1017.5 700C1023.3 699.8 1030.4 700 1035 701.5C1039.6 703 1041.7 706.9 1045 709C1048.3 711.1 1052.1 713.6 1055 714C1057.9 714.4 1060 712.3 1062.5 711.5C1065 710.7 1067.9 707.8 1070 709C1072.1 710.2 1073.3 715.2 1075 719C1076.7 722.8 1078.3 727.5 1080 731.5C1081.7 735.5 1082.9 741.3 1085 743C1087.1 744.7 1090.4 743.8 1092.5 741.5C1094.6 739.2 1095.8 732.1 1097.5 729C1099.2 725.9 1100.4 724 1102.5 723C1104.6 722 1107.9 721.6 1110 723C1112.1 724.4 1113.8 728.7 1115 731.5C1116.2 734.3 1115.8 737.9 1117.5 740C1119.2 742.1 1122.5 743.8 1125 744C1127.5 744.2 1131.2 741.9 1132.5 741.5L1134.5 741.5L1134.5 903L32.5 903L32.5 358Z"/></clipPath></defs>
<use href="#gd" stroke="#9d9d9f"/>
<use href="#gd" stroke="#a6abbe" clip-path="url(#c63)"/>
<use href="#gd" stroke="#b9bec9" clip-path="url(#c39)"/>
<use href="#gd" stroke="#c0c1c4" clip-path="url(#c21)"/>
<use href="#ln" stroke="#979799"/>
<use href="#ln" stroke="#a0a5b8" clip-path="url(#c63)"/>
<use href="#ln" stroke="#a9b1c0" clip-path="url(#c39)"/>
<use href="#ln" stroke="#b8babd" clip-path="url(#c21)"/>
<g stroke="#3a3a3a" stroke-width="0.75" fill="none" opacity="0.88">
<path d="M31 135.7L23.4 164.2M23.4 164.2L7.9 165.3"/>
<path d="M87.6 135.7L82.5 164.8M82.5 164.8L67.2 167.2"/>
<path d="M144.2 135.7L149.8 164.7M149.8 164.7L136.4 172.4"/>
<path d="M200.8 135.7L214.2 167.2M214.2 167.2L202.6 177.6M212.3 162.9L206.6 168"/>
<path d="M257.4 135.7L270.8 167.2M270.8 167.2L259.2 177.6M268.9 162.9L263.2 168"/>
<path d="M314 135.7L334.6 163M334.6 163L325.9 175.9M331.8 159.3L327.4 165.7"/>
<path d="M370.6 135.7L391.2 163M391.2 163L382.5 175.9M388.4 159.3L384 165.7"/>
<path d="M427.2 135.7L453.4 157.7M453.4 157.7L447.8 172.2M449.8 154.7L447 161.9"/>
<path d="M483.8 135.7L510 157.7M510 157.7L504.4 172.2M506.4 154.7L503.6 161.9"/>
<path d="M540.4 135.7L567 157.2M567 157.2L561.7 171.8M563.3 154.3L560.7 161.5"/>
<path d="M597 135.7L625.4 154.8M625.4 154.8L621.3 169.8M621.5 152.2L619.5 159.7"/>
<path d="M653.6 135.7L682 154.8M682 154.8L677.9 169.8M678.1 152.2L676.1 159.7"/>
<path d="M710.2 135.7L738.6 154.8M738.6 154.8L734.5 169.8M734.7 152.2L730.6 167.2"/>
<path d="M766.8 135.7L795.2 154.8M795.2 154.8L791.1 169.8M791.3 152.2L787.2 167.2"/>
<path d="M823.4 135.7L851.8 154.8M851.8 154.8L847.7 169.8M847.9 152.2L843.8 167.2"/>
<path d="M880 135.7L908 155.3M908 155.3L903.7 170.2M904.2 152.6L899.9 167.5"/>
<path d="M936.6 135.7L965.3 154.3M965.3 154.3L961.5 169.4M961.3 151.8L959.5 159.3"/>
<path d="M993.2 135.7L1024.4 149.6M1024.4 149.6L1023.1 165.1M1020.1 147.7L1019.5 155.4"/>
<path d="M1049.8 135.7L1081 149.6M1081 149.6L1079.7 165.1M1076.7 147.7L1076.1 155.4"/>
<path d="M1106.4 135.7L1140.1 141.6M1140.1 141.6L1142.5 156.9M1135.5 140.8L1136.7 148.5"/>
<path d="M31 197.2L25.9 226.3M25.9 226.3L10.6 228.7"/>
<path d="M87.6 197.2L86.4 231.4M86.4 231.4L71.6 235.9M86.6 226.7L79.2 229"/>
<path d="M144.2 197.2L141.6 226.6M141.6 226.6L126.6 230.4"/>
<path d="M200.8 197.2L215.8 228M215.8 228L204.8 238.9M213.7 223.7L208.3 229.2"/>
<path d="M257.4 197.2L282 221M282 221L275.5 235M278.6 217.7L275.3 224.7"/>
<path d="M314 197.2L336 223.4M336 223.4L328 236.7M333 219.8L329 226.5"/>
<path d="M370.6 197.2L396.8 219.2M396.8 219.2L391.2 233.7M393.2 216.2L390.4 223.4"/>
<path d="M427.2 197.2L452.2 220.6M452.2 220.6L445.9 234.7M448.8 217.4L445.6 224.4"/>
<path d="M483.8 197.2L510 219.2M510 219.2L504.4 233.7M506.4 216.2L503.6 223.4"/>
<path d="M540.4 197.2L568.2 217.1M568.2 217.1L563.8 232M564.4 214.4L560 229.2"/>
<path d="M597 197.2L626.3 214.8M626.3 214.8L623.1 230M622.3 212.4L619.1 227.6"/>
<path d="M653.6 197.2L683.1 214.6M683.1 214.6L680 229.8M679 212.2L675.9 227.4"/>
<path d="M710.2 197.2L739.4 215.1M739.4 215.1L736 230.2M735.4 212.6L732 227.8"/>
<path d="M766.8 197.2L796.3 214.6M796.3 214.6L793.2 229.8M792.2 212.2L789.1 227.4"/>
<path d="M823.4 197.2L852.9 214.6M852.9 214.6L849.8 229.8M848.8 212.2L845.7 227.4"/>
<path d="M880 197.2L909.8 214.1M909.8 214.1L906.9 229.3M905.7 211.8L902.9 227"/>
<path d="M936.6 197.2L967.1 212.8M967.1 212.8L964.9 228.1M962.9 210.6L960.7 226"/>
<path d="M993.2 197.2L1025.2 209.2M1025.2 209.2L1024.8 224.7M1020.8 207.6L1020.4 223.1"/>
<path d="M1049.8 197.2L1082.1 208.5M1082.1 208.5L1082 224M1077.7 207L1077.6 222.5"/>
<path d="M1106.4 197.2L1139.8 204.6M1139.8 204.6L1141.5 220M1135.2 203.6L1137 219"/>
<path d="M31 259.3L25.9 288.3M25.9 288.3L10.6 290.8"/>
<path d="M87.6 259.3L84 288.6M84 288.6L68.8 291.8"/>
<path d="M144.2 259.3L144.2 288.8M144.2 288.8L129.5 293.8"/>
<path d="M200.8 259.3L200.8 293.5M200.8 293.5L186.1 298.5M200.8 288.8L193.5 291.3"/>
<path d="M257.4 259.3L275 288.6M275 288.6L265.1 300.5M272.6 284.6L267.6 290.5"/>
<path d="M314 259.3L338.2 283.5M338.2 283.5L331.4 297.4M334.9 280.2L331.5 287.1"/>
<path d="M370.6 259.3L397.2 280.8M397.2 280.8L391.9 295.4M393.5 277.9L390.9 285.1"/>
<path d="M427.2 259.3L455.6 278.4M455.6 278.4L451.5 293.4M451.7 275.8L449.7 283.3"/>
<path d="M483.8 259.3L511.8 278.9M511.8 278.9L507.5 293.8M508 276.2L503.7 291.1"/>
<path d="M540.4 259.3L569.1 277.9M569.1 277.9L565.3 293M565.1 275.4L561.4 290.4"/>
<path d="M597 259.3L627.2 275.4M627.2 275.4L624.8 290.7M623 273.1L620.6 288.5"/>
<path d="M653.6 259.3L684.1 274.8M684.1 274.8L681.9 290.2M679.9 272.7L677.7 288"/>
<path d="M710.2 259.3L740.1 275.9M740.1 275.9L737.4 291.1M736 273.6L733.3 288.9"/>
<path d="M766.8 259.3L797.3 274.8M797.3 274.8L795.1 290.2M793.1 272.7L790.9 288"/>
<path d="M823.4 259.3L853.9 274.8M853.9 274.8L851.7 290.2M849.7 272.7L847.5 288"/>
<path d="M880 259.3L911.2 273.2M911.2 273.2L909.9 288.6M906.9 271.3L905.6 286.7"/>
<path d="M936.6 259.3L968.5 271.6M968.5 271.6L968 287M964.1 269.9L963.6 285.4"/>
<path d="M993.2 259.3L1025.9 269.3M1025.9 269.3L1026.4 284.8M1021.4 267.9L1022 283.4"/>
<path d="M1049.8 259.3L1082.9 267.9M1082.9 267.9L1084.1 283.3M1078.4 266.7L1079.6 282.1"/>
<path d="M1106.4 259.3L1139.4 268.1M1139.4 268.1L1140.5 283.6M1134.9 266.9L1136 282.4"/>
<path d="M31 321.9L49.6 350.6M49.6 350.6L40.1 362.8M47.1 346.6L42.3 352.7"/>
<path d="M87.6 321.9L103.1 352.3M103.1 352.3L92.4 363.5M101 348.2L95.6 353.7"/>
<path d="M144.2 321.9L172.9 328.8M172.9 328.8L174.3 344.2"/>
<path d="M200.8 321.9L224 340M224 340L219 354.7"/>
<path d="M257.4 321.9L256.1 351.3M256.1 351.3L241.3 355.8"/>
<path d="M314 321.9L326 348.8M326 348.8L314.7 359.4"/>
<path d="M370.6 321.9L397 343.6M397 343.6L391.6 358.1M393.4 340.6L388 355.1"/>
<path d="M427.2 321.9L455.2 341.5M455.2 341.5L450.9 356.4M451.4 338.8L447.1 353.7"/>
<path d="M483.8 321.9L514.3 337.4M514.3 337.4L512.1 352.8M510.1 335.3L507.9 350.6"/>
<path d="M540.4 321.9L570.7 337.7M570.7 337.7L568.4 353M566.5 335.5L564.2 350.9"/>
<path d="M597 321.9L627.5 337.4M627.5 337.4L625.3 352.8M623.3 335.3L621.1 350.6"/>
<path d="M653.6 321.9L682.7 339.8M682.7 339.8L679.3 355M678.7 337.4L675.3 352.5"/>
<path d="M710.2 321.9L744.1 341M744.1 341L741.2 356.3M740 338.7L737.1 354M735.9 336.4L734.5 344"/>
<path d="M766.8 321.9L795.4 340.7M795.4 340.7L791.5 355.7M791.4 338.1L787.6 353.1"/>
<path d="M823.4 321.9L854.6 335.8M854.6 335.8L853.3 351.2M850.3 333.9L849 349.3"/>
<path d="M880 321.9L912 333.9M912 333.9L911.6 349.3M907.6 332.2L907.2 347.7"/>
<path d="M936.6 321.9L968.9 333M968.9 333L968.9 348.5M964.5 331.5L964.5 347"/>
<path d="M993.2 321.9L1026.1 331.3M1026.1 331.3L1026.9 346.8M1021.6 330L1022.4 345.5"/>
<path d="M1049.8 321.9L1083.2 329.4M1083.2 329.4L1084.8 344.8M1078.6 328.4L1080.3 343.8"/>
<path d="M1106.4 321.9L1140 328.1M1140 328.1L1142.3 343.4M1135.4 327.3L1137.7 342.6"/>
<path d="M31 385L50.1 413.3M50.1 413.3L40.8 425.7M47.5 409.4L42.8 415.6"/>
<path d="M87.6 385L105.7 414M105.7 414L96 426M103.2 410L98.4 416"/>
<path d="M144.2 385L162.8 413.6M162.8 413.6L153.3 425.8M160.3 409.7L155.5 415.8"/>
<path d="M200.8 385L220.9 412.6M220.9 412.6L212 425.3M218.1 408.8L213.7 415.2"/>
<path d="M257.4 385L286.9 385.7M286.9 385.7L291.6 400.4"/>
<path d="M314 385L341.9 394.6"/>
<path d="M370.6 385L391.2 406.1M391.2 406.1L384.2 419.9"/>
<path d="M427.2 385L457.3 401.2M457.3 401.2L454.8 416.5M453.1 399L450.6 414.3"/>
<path d="M483.8 385L513.1 402.6M513.1 402.6L509.9 417.7M509.1 400.1L505.9 415.3"/>
<path d="M540.4 385L569.4 403.1M569.4 403.1L565.9 418.2M565.4 400.6L563.7 408.1"/>
<path d="M597 385L632 401.9M632 401.9L630.2 417.3M627.8 399.8L626 415.2M623.6 397.8L622.6 405.5"/>
<path d="M653.6 385L688.3 402.6M688.3 402.6L686.1 418M684.1 400.5L681.9 415.8M679.9 398.3L678.8 406"/>
<path d="M710.2 385L744.7 402.9M744.7 402.9L742.4 418.2M740.5 400.7L738.2 416.1M736.4 398.6L735.2 406.2"/>
<path d="M766.8 385L802.6 400.2M802.6 400.2L801.5 415.6M798.3 398.3L797.2 413.8M794 396.5L793.4 404.2"/>
<path d="M823.4 385L859.7 398.9M859.7 398.9L859.2 414.4M855.3 397.2L854.8 412.7M850.9 395.5L850.7 403.3"/>
<path d="M880 385L917.2 396.3M917.2 396.3L917.7 411.8M912.7 395L913.2 410.4M908.2 393.6L908.5 401.3"/>
<path d="M936.6 385L969.3 395M969.3 395L969.8 410.4M964.8 393.6L965.4 409.1"/>
<path d="M993.2 385L1026.2 393.8M1026.2 393.8L1027.3 409.3M1021.7 392.6L1022.8 408.1"/>
<path d="M1049.8 385L1083.4 391.5M1083.4 391.5L1085.5 406.8M1078.8 390.6L1080.9 405.9"/>
<path d="M1106.4 385L1140.4 388.5M1140.4 388.5L1143.9 403.6M1135.7 388L1139.2 403.1"/>
<path d="M31 448.5L53 474.7M53 474.7L45 488M50 471.1L42 484.4"/>
<path d="M87.6 448.5L107.2 476.5M107.2 476.5L98.1 489.1M104.5 472.7L100 478.9"/>
<path d="M144.2 448.5L161.8 477.8M161.8 477.8L151.9 489.7M159.4 473.8L154.4 479.7"/>
<path d="M200.8 448.5L224.7 473M224.7 473L217.7 486.8M221.4 469.6L217.9 476.5"/>
<path d="M257.4 448.5L286.7 466.1M286.7 466.1L283.5 481.3M282.7 463.7L279.5 478.9"/>
<path d="M370.6 448.5L400 446.7M400 446.7L406 461"/>
<path d="M427.2 448.5L456.6 445.7M456.6 445.7L463 459.8"/>
<path d="M483.8 448.5L505.4 475M505.4 475L497.2 488.2M502.4 471.4L498.4 478"/>
<path d="M540.4 448.5L568 458.9M568 458.9L567.5 474.4"/>
<path d="M597 448.5L624 469.5M624 469.5L619 484.1M620.3 466.6L615.3 481.3"/>
<path d="M653.6 448.5L678.4 472.1M678.4 472.1L671.9 486.2M675 468.8L668.5 482.9"/>
<path d="M710.2 448.5L745.6 464.6M745.6 464.6L744.2 480M741.3 462.6L739.9 478.1M737.1 460.7L736.3 468.4"/>
<path d="M766.8 448.5L802.9 462.9M802.9 462.9L802.2 478.4M798.6 461.2L797.8 476.6M794.2 459.4L793.8 467.2"/>
<path d="M823.4 448.5L859.7 462.4M859.7 462.4L859.2 477.9M855.3 460.8L854.8 476.3M850.9 459.1L850.7 466.8"/>
<path d="M880 448.5L917.5 459M917.5 459L918.4 474.5M912.9 457.7L913.8 473.2M908.4 456.5L908.9 464.2"/>
<path d="M936.6 448.5L974.5 457.3M974.5 457.3L976.1 472.7M969.9 456.2L971.5 471.6M965.3 455.1L966.2 462.8"/>
<path d="M993.2 448.5L1031.2 456.6M1031.2 456.6L1033.1 472M1026.7 455.6L1028.5 471M1022.1 454.6L1023 462.3"/>
<path d="M1049.8 448.5L1088.1 455.3M1088.1 455.3L1090.5 470.6M1083.5 454.4L1085.9 469.8M1078.9 453.6L1080.1 461.3"/>
<path d="M1106.4 448.5L1140.6 449.4M1140.6 449.4L1145.2 464.2M1135.9 449.3L1140.6 464.1"/>
<path d="M31 512.5L54.8 537.1M54.8 537.1L47.7 550.9M51.5 533.7L44.5 547.5"/>
<path d="M87.6 512.5L111.9 536.6M111.9 536.6L105.2 550.5M108.6 533.3L101.8 547.2"/>
<path d="M144.2 512.5L167.5 537.5M167.5 537.5L160.2 551.2M164.3 534.1L157 547.8"/>
<path d="M200.8 512.5L229.2 531.6M229.2 531.6L225.1 546.6M225.3 529L223.3 536.5"/>
<path d="M257.4 512.5L278.6 533M275.2 529.7L272 536.8"/>
<path d="M314 512.5L339.3 527.7M339.3 527.7L336.1 542.9"/>
<path d="M370.6 512.5L387.9 536.4M387.9 536.4L379 549.1"/>
<path d="M427.2 512.5L441.7 538.2M439.4 534.1L434.3 539.9"/>
<path d="M483.8 512.5L490.4 541.3"/>
<path d="M540.4 512.5L560.7 533.9M557.4 530.5L553.8 537.4"/>
<path d="M597 512.5L612 537.9M612 537.9L601.9 549.7"/>
<path d="M653.6 512.5L682.5 518.6"/>
<path d="M710.2 512.5L742 525.2M742 525.2L741.2 540.6M737.6 523.4L736.9 538.9"/>
<path d="M766.8 512.5L799.6 522.3M799.6 522.3L800.2 537.8M795.1 521L795.7 536.5"/>
<path d="M823.4 512.5L855.3 524.8M855.3 524.8L854.8 540.3M850.9 523.1L850.4 538.6"/>
<path d="M880 512.5L917.7 522.1M917.7 522.1L919 537.6M913.1 521L914.4 536.4M908.6 519.8L909.2 527.5"/>
<path d="M936.6 512.5L975 518.6M975 518.6L977.7 533.9M970.4 517.9L973.1 533.1M965.7 517.1L967.1 524.8"/>
<path d="M993.2 512.5L1031.6 518.6M1031.6 518.6L1034.3 533.9M1027 517.9L1029.7 533.1M1022.3 517.1L1023.7 524.8"/>
<path d="M1049.8 512.5L1088.2 518.6M1088.2 518.6L1090.9 533.9M1083.6 517.9L1086.3 533.1M1078.9 517.1L1080.3 524.8"/>
<path d="M1106.4 512.5L1140.6 510.7M1140.6 510.7L1146.4 525.1M1135.9 511L1141.7 525.3"/>
<path d="M31 577L57.6 598.5M57.6 598.5L52.3 613M53.9 595.5L48.6 610.1"/>
<path d="M87.6 577L113.1 599.7M113.1 599.7L107.2 614M109.6 596.6L103.6 610.9"/>
<path d="M144.2 577L171.5 597.5M171.5 597.5L166.7 612.3M167.8 594.7L163 609.4"/>
<path d="M200.8 577L230.9 593.3M230.9 593.3L228.3 608.6M226.7 591L224.2 606.3"/>
<path d="M257.4 577L291 583.5M291 583.5L293.1 598.8M286.4 582.6L288.5 597.9"/>
<path d="M314 577L348 580.2M348 580.2L351.7 595.2M343.4 579.7L347 594.8"/>
<path d="M370.6 577L407.8 588.3M407.8 588.3L408.4 603.7M403.3 586.9L403.9 602.4M398.8 585.5L399.1 593.3"/>
<path d="M427.2 577L460.2 586M460.2 586L461.2 601.4M455.7 584.7L456.7 600.2"/>
<path d="M483.8 577L522.3 582.2M522.3 582.2L525.4 597.4M517.7 581.5L520.7 596.7M513 580.9L514.6 588.5"/>
<path d="M540.4 577L569.2 570.5M569.2 570.5L577.3 583.7"/>
<path d="M597 577L635.5 571.6M635.5 571.6L642.5 585.4M630.9 572.3L637.9 586.1M626.2 572.9L629.7 579.8"/>
<path d="M653.6 577L687.2 583.3M687.2 583.3L689.4 598.6M682.6 582.4L684.8 597.8"/>
<path d="M710.2 577L748.3 584.7M748.3 584.7L750.3 600.1M743.7 583.8L745.7 599.1M739.1 582.8L740.1 590.5"/>
<path d="M766.8 577L800.6 581.9M800.6 581.9L803.5 597.2M796 581.3L798.8 596.5"/>
<path d="M823.4 577L852.5 581.9M847.8 581.1L849.1 588.8"/>
<path d="M880 577L914.1 579M914.1 579L918.3 594M909.4 578.8L913.6 593.7"/>
<path d="M936.6 577L970.8 578.1M970.8 578.1L975.3 593M966.1 578L970.6 592.8"/>
<path d="M993.2 577L1027.3 579.6M1027.3 579.6L1031.2 594.6M1022.6 579.3L1026.5 594.3"/>
<path d="M1049.8 577L1084 578.5M1084 578.5L1088.3 593.4M1079.3 578.3L1083.6 593.2"/>
<path d="M1106.4 577L1140.6 575.3M1140.6 575.3L1146.3 589.7M1135.9 575.5L1141.6 589.9"/>
<path d="M31 641.8L59.1 661.3M59.1 661.3L54.9 676.2M55.2 658.6L51 673.6"/>
<path d="M87.6 641.8L116.9 659.4M116.9 659.4L113.7 674.6M112.9 657L109.7 672.2"/>
<path d="M144.2 641.8L174.5 657.6M174.5 657.6L172.2 673M170.3 655.5L168 670.8"/>
<path d="M200.8 641.8L231.4 657M231.4 657L229.4 672.4M227.2 654.9L225.2 670.3"/>
<path d="M257.4 641.8L294.4 653.7M294.4 653.7L294.8 669.2M290 652.3L290.3 667.8M285.5 650.8L285.7 658.6"/>
<path d="M314 641.8L351.8 651M351.8 651L353.2 666.4M347.2 649.9L348.7 665.3M342.7 648.8L343.4 656.5"/>
<path d="M370.6 641.8L409 648.1M409 648.1L411.6 663.4M404.4 647.3L407 662.6M399.7 646.6L401 654.2"/>
<path d="M427.2 641.8L465.5 648.4M465.5 648.4L468 663.7M460.9 647.6L463.4 662.9M456.3 646.8L457.5 654.4"/>
<path d="M483.8 641.8L521.9 649.6M521.9 649.6L523.9 664.9M517.3 648.6L519.3 664M512.7 647.7L513.7 655.4"/>
<path d="M540.4 641.8L574.1 647.7M574.1 647.7L576.5 663M569.5 646.9L571.9 662.2"/>
<path d="M597 641.8L635.2 649.4M635.2 649.4L637.3 664.7M630.5 648.4L632.7 663.8M625.9 647.5L627 655.2"/>
<path d="M653.6 641.8L687.1 648.8M687.1 648.8L689 664.2M682.5 647.8L684.4 663.2"/>
<path d="M710.2 641.8L748.2 650.2M748.2 650.2L749.9 665.6M743.6 649.2L745.3 664.6M739 648.2L739.9 655.9"/>
<path d="M766.8 641.8L804.4 651.9M804.4 651.9L805.5 667.3M799.8 650.7L800.9 666.1M795.3 649.4L795.8 657.2"/>
<path d="M823.4 641.8L861.4 650.2M861.4 650.2L863.2 665.6M856.8 649.1L858.6 664.5M852.2 648.1L853.1 655.8"/>
<path d="M880 641.8L913.5 648.7M913.5 648.7L915.5 664M908.9 647.7L910.9 663.1"/>
<path d="M936.6 641.8L970.8 641.8M970.8 641.8L975.8 656.5M966.1 641.8L971.1 656.5"/>
<path d="M993.2 641.8L1027.4 641.8M1027.4 641.8L1032.4 656.5M1022.7 641.8L1027.7 656.5"/>
<path d="M1049.8 641.8L1083.9 639.6M1083.9 639.6L1089.9 653.9M1079.2 639.9L1085.2 654.2"/>
<path d="M1106.4 641.8L1140.6 640.2M1140.6 640.2L1146.3 654.7M1135.9 640.5L1141.6 654.9"/>
<path d="M31 707L62.7 719.8M62.7 719.8L61.9 735.3M58.4 718.1L57.5 733.6"/>
<path d="M87.6 707L119.7 718.7M119.7 718.7L119.5 734.2M115.3 717.1L115.1 732.6"/>
<path d="M144.2 707L177.1 716.2M177.1 716.2L178.1 731.7M172.6 715L173.5 730.4"/>
<path d="M200.8 707L234.4 713.6M234.4 713.6L236.5 728.9M229.8 712.7L231.9 728"/>
<path d="M257.4 707L296 711.6M296 711.6L299.3 726.8M291.4 711.1L294.6 726.2M286.7 710.5L288.3 718.1"/>
<path d="M314 707L352.8 710M352.8 710L356.7 724.9M348.1 709.6L352 724.6M343.4 709.2L345.4 716.7"/>
<path d="M370.6 707L409.4 709.1M409.4 709.1L413.7 724M404.8 708.8L409 723.7M400.1 708.6L402.2 716"/>
<path d="M427.2 707L466 710.2M466 710.2L469.8 725.2M461.3 709.8L465.1 724.9M456.6 709.5L458.5 717"/>
<path d="M483.8 707L522.6 709.1M522.6 709.1L526.9 724M518 708.8L522.2 723.7M513.3 708.6L515.4 716"/>
<path d="M540.4 707L579.1 711.4M579.1 711.4L582.4 726.5M574.4 710.8L577.8 726M569.7 710.3L571.4 717.9"/>
<path d="M597 707L635.5 712.9M635.5 712.9L638.3 728.1M630.8 712.2L633.6 727.4M626.2 711.4L627.6 719.1"/>
<path d="M653.6 707L692 713.4M692 713.4L694.6 728.7M687.3 712.6L689.9 727.9M682.7 711.9L684 719.5"/>
<path d="M710.2 707L748.5 713.6M748.5 713.6L751 728.9M743.9 712.8L746.4 728.1M739.3 712L740.5 719.7"/>
<path d="M766.8 707L805 714.5M805 714.5L807.1 729.8M800.4 713.6L802.5 728.9M795.8 712.7L796.8 720.3"/>
<path d="M823.4 707L861.7 713.6M861.7 713.6L864.2 728.9M857.1 712.8L859.6 728.1M852.5 712L853.7 719.7"/>
<path d="M880 707L913.4 714.3M913.4 714.3L915.2 729.7M908.8 713.3L910.6 728.7"/>
<path d="M936.6 707L970.6 710.3M970.6 710.3L974.3 725.4M966 709.9L969.6 724.9"/>
<path d="M993.2 707L1027.4 708.8M1027.4 708.8L1031.6 723.7M1022.7 708.6L1026.9 723.5"/>
<path d="M1049.8 707L1083.9 708.9M1083.9 708.9L1088.2 723.8M1079.3 708.7L1083.5 723.6"/>
<path d="M1106.4 707L1140.5 705.1M1140.5 705.1L1146.4 719.4M1135.9 705.3L1141.7 719.7"/>
<path d="M31 772.6L60.2 776.7M60.2 776.7L63.2 792"/>
<path d="M87.6 772.6L116.5 778.8M116.5 778.8L118.3 794.2"/>
<path d="M144.2 772.6L173.4 776.6M173.4 776.6L176.4 791.8"/>
<path d="M200.8 772.6L235 774.3M235 774.3L239.3 789.2M230.3 774.1L232.4 781.5"/>
<path d="M257.4 772.6L291.6 771.7M291.6 771.7L297 786.3M286.9 771.9L292.3 786.4"/>
<path d="M314 772.6L348.1 770.5M348.1 770.5L354.1 784.8M343.4 770.8L349.4 785.1"/>
<path d="M370.6 772.6L409.4 770.2M409.4 770.2L415.4 784.5M404.7 770.5L410.7 784.8M400 770.8L403 777.9"/>
<path d="M427.2 772.6L465.9 776.5M465.9 776.5L469.5 791.6M461.2 776L464.8 791.1M456.6 775.6L458.3 783.1"/>
<path d="M483.8 772.6L522.6 774.9M522.6 774.9L526.8 789.9M517.9 774.7L522.1 789.6M513.2 774.4L515.3 781.9"/>
<path d="M540.4 772.6L579.1 776.3M579.1 776.3L582.8 791.4M574.4 775.9L578.1 790.9M569.8 775.4L571.6 782.9"/>
<path d="M597 772.6L635.7 776.7M635.7 776.7L639.2 791.8M631 776.2L634.5 791.3M626.3 775.7L628.1 783.3"/>
<path d="M653.6 772.6L692.2 777.4M692.2 777.4L695.4 792.5M687.5 776.8L690.8 792M682.9 776.2L684.5 783.8"/>
<path d="M710.2 772.6L748.8 777.4M748.8 777.4L752 792.5M744.1 776.8L747.4 792M739.5 776.2L741.1 783.8"/>
<path d="M766.8 772.6L805.4 777.4M805.4 777.4L808.6 792.5M800.7 776.8L804 792M796.1 776.2L797.7 783.8"/>
<path d="M823.4 772.6L862 777.4M862 777.4L865.2 792.5M857.3 776.8L860.6 792M852.7 776.2L854.3 783.8"/>
<path d="M880 772.6L917.9 781.4M917.9 781.4L919.5 796.8M913.3 780.3L914.9 795.7M908.7 779.3L909.6 787"/>
<path d="M936.6 772.6L970.2 779.2M970.2 779.2L972.3 794.5M965.6 778.3L967.7 793.6"/>
<path d="M993.2 772.6L1027.2 776.2M1027.2 776.2L1030.7 791.3M1022.5 775.7L1026 790.8"/>
<path d="M1049.8 772.6L1083.5 778.6M1083.5 778.6L1085.9 793.9M1078.9 777.8L1081.3 793.1"/>
<path d="M1106.4 772.6L1140.5 770.3M1140.5 770.3L1146.6 784.5M1135.8 770.6L1141.9 784.8"/>
<path d="M31 838.6L60.5 838.6M60.5 838.6L65.5 853.2"/>
<path d="M87.6 838.6L117.1 839.5M117.1 839.5L121.7 854.3"/>
<path d="M144.2 838.6L173.7 838.6M173.7 838.6L178.7 853.2"/>
<path d="M200.8 838.6L235 838.6M235 838.6L240 853.2M230.3 838.6L232.8 845.9"/>
<path d="M257.4 838.6L291.1 832.6M291.1 832.6L298.6 846.2M286.5 833.4L294 847"/>
<path d="M314 838.6L347.9 833.8M347.9 833.8L354.9 847.6M343.2 834.5L350.2 848.3"/>
<path d="M370.6 838.6L408.2 828.8M408.2 828.8L416.8 841.7M403.7 830L412.3 842.9M399.1 831.1L403.4 837.6"/>
<path d="M427.2 838.6L465.8 843.3M465.8 843.3L469 858.5M461.1 842.7L464.4 857.9M456.5 842.2L458.1 849.7"/>
<path d="M483.8 838.6L522.5 842.2M522.5 842.2L526.2 857.2M517.9 841.7L521.5 856.8M513.2 841.3L515 848.8"/>
<path d="M540.4 838.6L579.1 842.2M579.1 842.2L582.8 857.2M574.5 841.7L578.1 856.8M569.8 841.3L571.6 848.8"/>
<path d="M597 838.6L635.7 842.6M635.7 842.6L639.2 857.7M631 842.1L634.5 857.2M626.3 841.7L628.1 849.2"/>
<path d="M653.6 838.6L692.3 842.6M692.3 842.6L695.8 857.7M687.6 842.1L691.1 857.2M682.9 841.7L684.7 849.2"/>
<path d="M710.2 838.6L748.9 842.6M748.9 842.6L752.4 857.7M744.2 842.1L747.7 857.2M739.5 841.7L741.3 849.2"/>
<path d="M766.8 838.6L805.5 842.6M805.5 842.6L809 857.7M800.8 842.1L804.3 857.2M796.1 841.7L797.9 849.2"/>
<path d="M823.4 838.6L862.1 842.6M862.1 842.6L865.6 857.7M857.4 842.1L860.9 857.2M852.7 841.7L854.5 849.2"/>
<path d="M880 838.6L918.3 845.3M918.3 845.3L920.7 860.6M913.7 844.5L916.1 859.8M909.1 843.7L910.3 851.3"/>
<path d="M936.6 838.6L970.4 843.9M970.4 843.9L973.1 859.2M965.7 843.2L968.4 858.5"/>
<path d="M993.2 838.6L1027.3 841.6M1027.3 841.6L1031 856.6M1022.6 841.1L1026.3 856.2"/>
<path d="M1049.8 838.6L1083.7 842.7M1083.7 842.7L1087 857.9M1079.1 842.2L1082.3 857.3"/>
<path d="M1106.4 838.6L1140.5 836.2M1140.5 836.2L1146.6 850.5M1135.8 836.5L1141.9 850.8"/>
<path d="M31 904.8L60.1 899.7M60.1 899.7L67.6 913.3"/>
<path d="M87.6 904.8L116.7 899.7M116.7 899.7L124.2 913.3"/>
<path d="M144.2 904.8L173.4 900.7M173.4 900.7L180.4 914.5"/>
<path d="M200.8 904.8L234.7 900.1M234.7 900.1L241.7 913.9M230 900.7L233.5 907.6"/>
<path d="M257.4 904.8L291.4 901.2M291.4 901.2L298 915.3M286.7 901.7L293.3 915.8"/>
<path d="M314 904.8L348.1 901.8M348.1 901.8L354.4 916M343.4 902.2L349.7 916.4"/>
<path d="M370.6 904.8L409.4 901.4M409.4 901.4L415.7 915.6M404.7 901.8L411 916M400 902.2L403.1 909.3"/>
<path d="M427.2 904.8L466 902.8M466 902.8L471.9 917.2M461.4 903L467.2 917.4M456.7 903.3L459.6 910.5"/>
<path d="M483.8 904.8L522.7 904.8M522.7 904.8L527.7 919.5M518 904.8L523 919.5M513.3 904.8L515.8 912.1"/>
<path d="M540.4 904.8L579.3 904.8M579.3 904.8L584.3 919.5M574.6 904.8L579.6 919.5M569.9 904.8L572.4 912.1"/>
<path d="M597 904.8L635.9 906.2M635.9 906.2L640.4 921M631.2 906L635.7 920.8M626.5 905.8L628.7 913.3"/>
<path d="M653.6 904.8L692.4 906.9M692.4 906.9L696.7 921.8M687.8 906.6L692 921.5M683.1 906.4L685.2 913.8"/>
<path d="M710.2 904.8L749 906.9M749 906.9L753.3 921.8M744.4 906.6L748.6 921.5M739.7 906.4L741.8 913.8"/>
<path d="M766.8 904.8L805.6 906.9M805.6 906.9L809.9 921.8M801 906.6L805.2 921.5M796.3 906.4L798.4 913.8"/>
<path d="M823.4 904.8L862.2 906.9M862.2 906.9L866.5 921.8M857.6 906.6L861.8 921.5M852.9 906.4L855 913.8"/>
<path d="M880 904.8L918.8 908.2M918.8 908.2L922.5 923.2M914.1 907.8L917.8 922.8M909.4 907.4L911.3 914.9"/>
<path d="M936.6 904.8L970.7 907.8M970.7 907.8L974.4 922.8M966 907.4L969.7 922.4"/>
<path d="M993.2 904.8L1027.4 906.6M1027.4 906.6L1031.6 921.5M1022.7 906.4L1026.9 921.3"/>
<path d="M1049.8 904.8L1084 906.6M1084 906.6L1088.2 921.5M1079.3 906.4L1083.5 921.3"/>
<path d="M1106.4 904.8L1140.5 901.8M1140.5 901.8L1146.8 916M1135.8 902.2L1142.1 916.4"/>
</g>
<g stroke="#000" stroke-width="1.2" fill="none" stroke-linejoin="round" stroke-linecap="round">
<path d="M104.7 102C104.8 102.5 105.7 104.8 106 106C106.3 107.2 107 111.6 107.3 112C107.6 112.4 107.9 109.6 108.7 109.3C109.4 109 112.6 108.9 114 109.3C115.4 109.7 119.5 112 120.7 112.7C121.8 113.4 123.5 114.4 124 115.3C124.5 116.3 124.8 119.4 125.3 120.7C125.9 121.9 128 124.9 128.7 126C129.4 127.1 130.8 128.8 131.3 130C131.9 131.2 132.8 135.5 133.3 136.7C133.9 137.8 135.1 139.5 136 140C136.9 140.5 139.7 140.9 140.7 141.3C141.6 141.8 143.7 143.2 144 144C144.3 144.8 143.8 147.7 143.3 148C142.9 148.3 140.9 147.2 140 146.7C139.1 146.1 136.9 143.8 136 143.3C135.1 142.9 133.2 142.3 132.7 142.7C132.1 143.1 131.3 145.7 131.3 146.7C131.4 147.7 132.7 150.6 133.3 151.3C134 152.1 135.5 153.3 136.7 153.3C137.8 153.4 142.1 152.3 143.3 152C144.6 151.7 146.4 150.7 147.3 150.7C148.3 150.7 150.2 151.9 151.3 152C152.4 152.1 155.7 151.6 156.7 151.3C157.7 151 159.5 149.8 160 149.3C160.5 148.9 160.3 147.6 160.7 147.3C161.1 147 162.7 146.5 163.3 146.7C164 146.8 165.5 148.1 166 148.7C166.5 149.2 167.3 150.8 167.3 151.3C167.4 151.9 166.7 153.1 166.7 153.3"/>
<path d="M166.7 153.3C166.8 152.8 167.8 149.7 168 148.7C168.2 147.7 168.3 145.6 168.7 144.7C169.1 143.7 171.1 141.8 171.3 140.7C171.6 139.6 170.7 136.6 170.7 135.3C170.7 134.1 171 131.2 171.3 130C171.6 128.8 172.8 125.9 173.3 124.7C173.9 123.4 175.4 120.6 176 119.3C176.6 118.1 178.1 115.1 178.7 114C179.2 112.9 180.3 111.4 180.7 110C181.1 108.6 181.8 102.9 182 102"/>
<path d="M168.7 142.7C169.1 141.8 171.4 141.2 172 141.3C172.6 141.5 174.1 143.2 174 144C173.9 144.8 172 147.5 171.3 148C170.7 148.5 169 149.3 168.7 148.7C168.4 148 168.3 143.5 168.7 142.7Z"/>
<path d="M179.1 111.3C179.3 111.8 180.9 114.1 180.9 115.3C181 116.6 179.8 121.2 179.6 122"/>
<path d="M178.3 133.3 L176 138"/>
<path d="M166.7 154 L162 160.7"/>
<path d="M159.3 163.3 L155.3 166.7"/>
<path d="M152.7 168.7 L148 171.3"/>
<path d="M143.3 174 L134 177.3"/>
<path d="M124.9 176.4 L122.3 180.9"/>
<path d="M121.3 174.7 L124.4 180.4"/>
<path d="M116.7 178.7C116 179.1 112.4 181.4 111.3 182C110.2 182.6 107.8 183.8 107.3 184"/>
<path d="M104.7 185.3 L101.3 186.3"/>
<path d="M35 274.2C35.8 274.1 40.3 273.2 41.7 273.3C43 273.4 45.5 275.3 46.7 275C47.8 274.7 50.3 271.2 51.7 270.8C53 270.4 56.8 271.8 58.3 271.7C59.9 271.6 63.4 270.7 65 270C66.6 269.3 69.9 266.6 71.7 265.8C73.4 265.1 78.2 263.7 80 263.3C81.8 262.9 85.1 262.4 86.7 262.5C88.2 262.6 91.4 263.9 93.3 264.2C95.3 264.5 101.2 264.9 103.3 265C105.5 265.1 110.3 264.6 111.7 265C113 265.4 114.4 267.8 115 268.3C115.6 268.9 115.9 270.2 116.7 270C117.4 269.8 120.5 267.2 121.7 266.7C122.8 266.1 125.5 265.5 126.7 265C127.8 264.5 131.4 262.3 131.7 262.5C132 262.7 129.2 265.7 129.2 266.7C129.2 267.6 131 270.2 131.7 270.8C132.3 271.4 134.2 272 135 271.7C135.8 271.4 137.4 269 138.3 268.3C139.3 267.7 142.2 266.2 143.3 265.8C144.5 265.4 147.9 264.8 148.3 265C148.7 265.2 146.5 267.1 146.7 267.5C146.9 267.9 148.8 268.3 150 268.3C151.2 268.3 155.3 267 156.7 267.5C158 268 160.3 271.5 161.7 272.5C163 273.5 166.8 275.2 168.3 275.8C169.9 276.4 173.6 277.5 175 277.5C176.4 277.5 178.6 275.8 180 275.8C181.4 275.8 185.1 276.9 186.7 277.5C188.2 278.1 192 280.1 193.3 280.8C194.7 281.6 197.2 283.4 198.3 284.2C199.5 284.9 202.6 286.5 203.3 287.5C204.1 288.5 204.2 291.3 205 292.5C205.8 293.7 208.8 296.3 210 297.5C211.2 298.7 213.8 301.5 215 302.5C216.2 303.5 218.8 305.2 220 305.8C221.2 306.4 223.9 307.3 225 307.5C226.1 307.7 229.3 307.5 229.8 307.5"/>
<path d="M35 311.7C35.6 311 38.6 307.1 40 305.8C41.4 304.6 45.1 301.9 46.7 300.8C48.2 299.8 52.2 297.8 53.3 296.7C54.5 295.5 55.5 291.6 56.7 290.8C57.8 290.1 61.4 290 63.3 290C65.3 290 71 290.8 73.3 290.8C75.7 290.8 81 290 83.3 290C85.7 290 91.2 290.5 93.3 290.8C95.5 291.1 100 291.9 101.7 292.5C103.3 293.1 106.6 295 107.5 295.8C108.4 296.7 109.3 299.1 109.2 300C109.1 300.9 107.7 302.8 106.7 303.3C105.6 303.9 101.8 304.7 100 305C98.2 305.3 93.2 305.7 91.7 305.8C90.1 306 87.3 306 86.7 306.3C86 306.6 85.4 307.8 85.8 308.3C86.2 308.9 88.9 310.2 90 310.8C91.1 311.4 93.8 312.6 95 313.3C96.2 314.1 98.6 316.8 100 317.5C101.4 318.2 104.9 319.1 106.7 319.2C108.4 319.3 113.2 318.2 115 318.3C116.8 318.4 120.3 319.4 121.7 320C123 320.6 125.7 322.6 126.7 323.3C127.6 324.1 129.6 327.5 130 326.7C130.4 325.8 129.7 317.1 130 315.8C130.3 314.6 132 315.2 132.5 315.8C133 316.5 133.5 320.5 134.2 321.7C134.8 322.8 136.9 325.2 138.3 325.8C139.8 326.5 144.5 327.4 146.7 327.5C148.8 327.6 154.5 326.8 156.7 326.7C158.8 326.6 163.7 327.2 165 326.7C166.3 326.1 167.7 322.4 167.5 321.7C167.3 320.9 163.5 319.4 163.3 320C163.1 320.6 165.1 325.3 165.8 326.7C166.6 328 168.9 330.6 170 331.7C171.1 332.7 173.6 335 175 335.8C176.4 336.7 180.3 338.3 181.7 339.2C183 340 185.3 342.6 186.7 343.3C188 344.1 191.6 345.2 193.3 345.8C195.1 346.4 199.7 347.7 201.7 348.3C203.6 349 208.1 351 210 351.7C211.9 352.3 216.6 353.7 218.3 354.2C220.1 354.7 223.7 355.7 225 355.8C226.3 355.9 229.3 355.1 229.8 355"/>
<path d="M42.5 338.3C43.1 337.6 45.4 334.7 46.7 334.2C47.9 333.7 51.8 333.9 53.3 334.2C54.9 334.5 58.8 335.8 60 336.7C61.2 337.5 62.7 340.3 63.3 341.7C64 343 65.6 346.8 65.8 348.3C66 349.9 65.7 353.7 65 355C64.3 356.3 61.4 358.4 60 359.2C58.6 359.9 54.9 361.6 53.3 361.7C51.8 361.8 48 360.6 46.7 360C45.3 359.4 42.7 357.3 41.7 356.7C40.6 356 37.5 354.4 37.5 354.2C37.5 354 40.6 355.1 41.7 355C42.7 354.9 46 354.1 46.7 353.3C47.3 352.6 47.8 349.4 47.5 348.3C47.2 347.3 44.8 345 44.2 344.2C43.5 343.3 41.9 341.5 41.7 340.8C41.5 340.2 41.9 339.1 42.5 338.3Z"/>
<path d="M113.3 352.5C113.2 352.3 117.3 349 118.3 348.3C119.3 347.7 121.9 346.4 122 346.7C122.1 346.9 120.2 349.7 119.2 350.3C118.2 351 113.4 352.7 113.3 352.5Z"/>
<path d="M159.2 262.5 L162.5 263.3"/>
<path d="M175.8 267.5 L179.2 269.2"/>
<path d="M182.5 270.8 L185.8 272.5"/>
<path d="M189.2 275.3 L192.5 277.5"/>
<path d="M195.8 279.7 L199.2 281.7"/>
<path d="M206.7 284.7C207.3 285.2 211.1 288.1 212.5 289.2C213.9 290.2 217.7 293.1 218.3 293.7"/>
<path d="M205 291.7C205.4 292.2 207.2 295.3 208.3 296.7C209.5 298 213.4 302.1 215 303.3C216.6 304.6 219.9 307 221.7 307.5C223.4 308 228.1 307.3 230 307.5C231.9 307.7 236.6 309.1 238.3 309.2C240.1 309.3 243.8 308 245 308.3C246.2 308.6 247.2 311 248.3 311.7C249.5 312.3 253.4 313.6 255 314.2C256.6 314.8 260.1 316 261.7 316.7C263.2 317.3 266.8 319.1 268.3 320C269.9 320.9 273.4 323.1 275 324.2C276.6 325.2 280.3 328 281.7 329.2C283 330.3 285.5 333.1 286.7 334.2C287.8 335.2 290.5 337.5 291.7 338.3C292.8 339.2 295.3 341.1 296.7 341.7C298 342.2 302 342.8 303.3 343.3C304.7 343.9 307.2 345.8 308.3 346.7C309.5 347.5 312 350 313.3 350.8C314.7 351.7 318.6 353.6 320 354.2C321.4 354.8 323.8 355.2 325 355.8C326.2 356.5 328.8 359 330 360C331.2 361 334.5 363.2 335 364.2C335.5 365.1 333.4 368 334.2 368.3C334.9 368.6 340.4 366.3 341.7 366.7C342.9 367.1 344 371.4 345 371.7C346 372 349 369 350 369.2C351 369.4 352.6 373.1 353.3 373.3C354.1 373.5 355.5 370.8 356.7 370.8C357.8 370.8 361.8 372.5 363.3 373.3C364.9 374.2 368.4 377.5 370 378.3C371.6 379.2 375.1 380.6 376.7 380.8C378.2 381 381.8 380.2 383.3 380C384.9 379.8 388.7 378.8 390 379.2C391.3 379.6 393.7 382.3 394.2 383.3C394.7 384.4 394.7 387.4 394.2 388.3C393.7 389.3 390.9 390.7 390 391.7C389.1 392.6 386.7 395.7 386.7 396.7C386.7 397.6 389 399.8 390 400C391 400.2 393.9 398.4 395 398.3C396.1 398.2 399.3 399.1 399.8 399.2"/>
<path d="M249.2 300C249.8 299.7 253.5 299.4 255 299.2C256.5 299 260.3 298 261.7 298.3C263 298.6 265.5 300.9 266.7 301.7C267.8 302.4 270.5 304.3 271.7 305C272.8 305.7 275.9 306.7 276.7 307.5C277.4 308.3 278.5 311.1 278.3 311.7C278.1 312.2 276 312.7 275 312.5C274 312.3 271 310.8 270 310C269 309.2 267.6 306.5 266.7 305.8C265.7 305.2 263 304.5 261.7 304.2C260.3 303.9 256.4 303.6 255 303.3C253.6 303 250.7 302.1 250 301.7C249.3 301.3 248.6 300.3 249.2 300Z"/>
<path d="M281.7 315C282.2 314.8 285.7 317.4 286.7 318.3C287.6 319.3 290 322.7 290 323.3C290 324 287.5 324.6 286.7 324.2C285.8 323.8 283.1 321.1 282.5 320C281.9 318.9 281.2 315.2 281.7 315Z"/>
<path d="M286.7 326.7C287.5 326.1 292 325.5 293.3 325.8C294.7 326.1 297.9 328.3 298.3 329.2C298.7 330 297.6 332.9 296.7 333.3C295.7 333.7 291.1 332.2 290 332.5C288.9 332.8 288 336 287.5 335.8C287 335.6 285.9 331.9 285.8 330.8C285.7 329.8 285.8 327.2 286.7 326.7Z"/>
<path d="M301.7 335C302.4 335.2 306.8 339.5 308.3 340.8C309.9 342.2 313.4 345.5 315 346.7C316.6 347.8 320.6 350 321.7 350.8C322.7 351.7 324.5 353.9 324.2 354.2C323.9 354.5 320.4 353.9 319.2 353.3C317.9 352.8 314.8 350.2 313.3 349.2C311.9 348.1 308 345.3 306.7 344.2C305.3 343 302.2 340.2 301.7 339.2C301.1 338.1 300.9 334.8 301.7 335Z"/>
<path d="M200 346.7C200.8 347.1 204.9 349.1 206.7 350C208.4 350.9 213.2 353.5 215 354.2C216.8 354.8 220.1 355.8 221.7 355.8C223.2 355.8 226.6 354.6 228.3 354.2C230.1 353.8 234.7 352.8 236.7 352.5C238.6 352.2 243.6 351.5 245 351.7C246.4 351.9 247.6 353.6 248.3 354.2C249.1 354.8 250.9 356 251.7 356.7C252.4 357.3 254.5 358.6 255 360C255.5 361.4 255.6 366.4 255.8 368.3C256 370.3 256.4 374.9 256.7 376.7C257 378.4 257.6 382 258.3 383.3C259.1 384.7 262 387.1 263.3 388.3C264.7 389.6 268.6 392.8 270 394.2C271.4 395.5 273.6 398.9 275 400C276.4 401.1 279.9 402.8 281.7 403.3C283.4 403.8 288.1 404 290 404.2C291.9 404.4 296.4 405 298.3 405C300.3 405 304.9 404.4 306.7 404.2C308.4 404 312.2 403 313.3 403.3C314.5 403.6 316.1 405.7 316.7 406.7C317.2 407.6 317.8 410.7 318.3 411.7C318.9 412.6 321.3 414.6 321.7 415"/>
<path d="M215.8 380 L220 382"/>
<path d="M225 387.5C225.5 387.9 228.2 390.2 229.2 390.8C230.1 391.5 232.8 393 233.3 393.3"/>
<path d="M236.7 395.8 L240.8 398"/>
<path d="M255.8 402 L259.2 403.3"/>
<path d="M260.8 409.2 L265 411.7"/>
<path d="M230 292.5 L235.8 293"/>
<path d="M211.7 290.8 L217.5 293.7"/>
<path d="M288.3 313.3 L291.7 319.2"/>
<path d="M290 402.5C290.8 402.7 295.1 403.9 296.7 404.2C298.2 404.5 301.8 405.2 303.3 405C304.9 404.8 308.6 402.6 310 402.5C311.4 402.4 314.1 403.4 315 404.2C315.9 404.9 316.7 408.2 317.5 409.2C318.3 410.1 320.9 411.5 321.7 412.5C322.4 413.5 324 416.4 324.2 417.5C324.4 418.6 323.4 421.2 323.3 421.7"/>
<path d="M315 429.2C314.2 429.7 309.9 432.1 308.3 433.3C306.8 434.6 303 438.4 301.7 440C300.3 441.6 297.5 445.4 296.7 446.7C295.8 447.9 294.2 450.1 294.2 450.8C294.2 451.6 295.2 453.1 296.7 453.3C298.1 453.5 304.1 452.8 306.7 452.5C309.2 452.2 315.8 451.2 318.3 450.8C320.9 450.4 325.8 449.7 328.3 449.2C330.9 448.7 337.1 447.2 340 446.7C342.9 446.2 350.4 445.4 353.3 445C356.2 444.6 362.3 443.3 365 443.3C367.7 443.3 373.9 444.7 376.7 445C379.4 445.3 386 445.4 388.3 445.8C390.7 446.2 394.7 447.8 396.7 448.3C398.6 448.8 403.1 450 405 450C406.9 450 411.9 449.1 413.3 448.3C414.8 447.6 417.1 443.4 417.5 443.3C417.9 443.2 416.2 446.9 416.7 447.5C417.2 448.1 420.3 448.6 421.7 448.3C423 448 426.6 445.8 428.3 445C430.1 444.2 434.7 442.2 436.7 441.7C438.6 441.1 442.9 440.3 445 440C447.1 439.7 453.2 439.6 455 439.2C456.8 438.8 459 437.5 460 436.7C461 435.8 463.1 432.7 463.3 431.7C463.5 430.6 462.4 428.3 461.7 427.5C460.9 426.7 458 425.6 456.7 425C455.3 424.4 451.4 423.2 450 422.5C448.6 421.8 446.2 420.1 445 419.2C443.8 418.2 441.2 415.3 440 414.2C438.8 413 436.4 410.1 435 409.2C433.6 408.2 429.9 406.4 428.3 405.8C426.8 405.2 423.2 404.5 421.7 404.2C420.1 403.9 416.6 403.2 415 403.3C413.4 403.4 409.7 405.1 408.3 405C407 404.9 404.5 403 403.3 402.5C402.2 402 399.1 401.4 398.3 400.8C397.6 400.2 397.4 398.1 396.7 397.5C395.9 396.9 392.6 395.7 391.7 395.8C390.7 395.9 388.9 397.8 388.3 398.3C387.8 398.9 386.7 401.2 386.7 400.8C386.7 400.4 387.8 396.1 388.3 395C388.9 393.9 391 392.5 391.7 391.7C392.3 390.8 394 388.5 394.2 387.5C394.4 386.5 393.8 384.2 393.3 383.3C392.8 382.5 390.4 380.4 390 380"/>
<path d="M576.7 454.2C576.1 454.9 572.6 460.2 571.7 460.8C570.7 461.4 569.3 459.3 568.3 459.2C567.4 459.1 564.7 460.2 563.3 460C562 459.8 558.2 458 556.7 457.5C555.1 457 551.4 456.4 550 455.8C548.6 455.2 546.4 453.2 545 452.5C543.6 451.8 539.9 450.6 538.3 450C536.8 449.4 533.2 447.9 531.7 447.5C530.1 447.1 526.6 446.7 525 446.7C523.4 446.7 519.9 447.2 518.3 447.5C516.8 447.8 513.2 448.8 511.7 449.2C510.1 449.6 506.6 450.3 505 450.8C503.4 451.3 499.5 452.6 498.3 453.3C497.2 454.1 495.3 456.5 495 457.5C494.7 458.5 495.2 461 495.8 461.7C496.4 462.3 498.7 463 500 463.3C501.3 463.6 505.3 464 506.7 464.2C508 464.4 510.5 464.7 511.7 465C512.8 465.3 515.5 466.1 516.7 466.7C517.8 467.2 520.5 469.2 521.7 470C522.8 470.8 525.6 472.8 526.7 473.3C527.7 473.9 530.4 474.3 530.8 475C531.2 475.7 530.4 478.2 530 479.2C529.6 480.1 527.9 482.3 527.5 483.3C527.1 484.4 526.4 487.3 526.7 488.3C527 489.4 530 491.7 530 492.5C530 493.3 526.9 494.2 526.7 495C526.5 495.8 527.7 498.2 528.3 499.2C529 500.1 531.5 502.3 532.5 503.3C533.5 504.4 535.6 507.2 536.7 508.3C537.7 509.5 540.5 512.2 541.7 513.3C542.8 514.5 545.9 517.2 546.7 518.3C547.4 519.5 548.7 522.5 548.3 523.3C547.9 524.2 544.9 525.4 543.3 525.8C541.8 526.2 536.5 526.2 535 526.7C533.5 527.2 531.8 529.4 530.8 530C529.9 530.6 527.9 531.7 526.7 531.7C525.4 531.7 521.6 530.1 520 530C518.4 529.9 514.9 531 513.3 530.8C511.8 530.6 508.2 528.8 506.7 528.3C505.1 527.8 501.6 527 500 526.7C498.4 526.4 494.7 526.2 493.3 525.8C492 525.4 489.9 523.7 488.3 523.3C486.8 522.9 481.6 522.5 480 522.5C478.4 522.5 476.4 523.5 475 523.3C473.6 523.1 469.9 521.3 468.3 520.8C466.8 520.3 463.2 519.4 461.7 519.2C460.1 519 456.4 518.9 455 519.2C453.6 519.5 450.8 520.8 450 521.7C449.2 522.5 448.4 525.3 448.3 526.7C448.2 528 448.6 532 449.2 533.3C449.8 534.7 452.3 537.7 453.3 538.3C454.4 539 457.2 538.9 458.3 539.2C459.5 539.5 462.2 540.3 463.3 540.8C464.5 541.3 467.4 542.6 468.3 543.3C469.3 544.1 470.9 546.4 471.7 547.5C472.4 548.6 474.2 552.2 475 552.5C475.8 552.8 477.4 550.7 478.3 550C479.3 549.3 482.2 547.2 483.3 546.7C484.5 546.1 487.2 545.5 488.3 545C489.5 544.5 491.8 542.9 493.3 542.5C494.9 542.1 499.7 541.6 501.7 541.7C503.6 541.8 508.1 542.9 510 543.3C511.9 543.7 516.2 544.6 518.3 545C520.5 545.4 526 546.6 528.3 546.7C530.7 546.8 536 546.2 538.3 545.8C540.7 545.4 546.2 543.7 548.3 543.3C550.5 542.9 555.1 542.7 556.7 542.5C558.2 542.3 560.7 541.4 561.7 541.7C562.6 542 564 544.2 565 545C566 545.8 569 547.5 570 548.3C571 549.2 572.8 551.7 573.3 552.5C573.9 553.3 574.8 554.7 575 555"/>
<path d="M576.7 454.2C576.6 455.2 575.6 461.3 575.8 463.3C576 465.4 578.2 469.5 578.3 471.7C578.4 473.8 576.5 479.9 576.7 481.7C576.9 483.4 579.5 485.4 580 486.7C580.5 487.9 581.2 491.1 580.8 492.5C580.4 493.9 577.7 497.4 576.7 498.3C575.6 499.3 571.9 500.2 571.7 500.8C571.5 501.4 574.2 502.3 575 503.3C575.8 504.4 578.2 508.4 578.3 510C578.4 511.6 576.8 515.4 575.8 516.7C574.9 517.9 571.4 520.4 570 520.8C568.6 521.2 565 519.7 564.2 520C563.3 520.3 562.2 522.4 562.5 523.3C562.8 524.3 566 527.2 566.7 528.3C567.3 529.5 567.8 532.2 568.3 533.3C568.9 534.5 570.9 537.2 571.7 538.3C572.4 539.5 574.5 542 575 543.3C575.5 544.7 575.8 548.6 575.8 550C575.8 551.4 575.1 554.4 575 555"/>
<path d="M573.3 526.7C573.5 526 577 524.2 578.3 524.2C579.7 524.2 583.9 526 585 526.7C586.1 527.3 587.7 529.3 587.5 530C587.3 530.7 584.6 532.5 583.3 532.5C582.1 532.5 577.8 530.7 576.7 530C575.5 529.3 573.1 527.3 573.3 526.7Z"/>
<path d="M520 439.2C520.2 438.7 523.6 437.4 525 437.5C526.4 437.6 530.5 439.4 531.7 440C532.8 440.6 535.2 442.1 535 442.5C534.8 442.9 531.4 443.4 530 443.3C528.6 443.2 524.5 442.2 523.3 441.7C522.2 441.2 519.8 439.7 520 439.2Z"/>
<path d="M502.5 502.5C503 502.4 505.6 501.2 506.7 501.3C507.7 501.5 511.1 503.4 511.7 503.7"/>
<path d="M479.7 520.8C479.7 520.6 481.8 521.1 482 521.3C482.2 521.6 481.6 523.1 481.3 523C481.1 522.9 479.6 521 479.7 520.8Z"/>
<path d="M483.7 551.3 L488.3 552.2"/>
<path d="M576.7 454.2C577.1 453.7 578.8 450.7 580 450C581.2 449.3 585.1 448.4 586.7 448.3C588.2 448.2 591.6 448.7 593.3 449.2C595.1 449.7 599.9 452.7 601.7 452.5C603.4 452.3 606.8 448 608.3 447.5C609.9 447 613.6 447.8 615 448.3C616.4 448.8 618.6 450.8 620 451.7C621.4 452.5 625.1 455.2 626.7 455.8C628.2 456.4 632 456.7 633.3 456.7C634.7 456.7 637.2 455.3 638.3 455.8C639.5 456.3 642 459.9 643.3 460.8C644.7 461.8 648.6 464.1 650 464.2C651.4 464.3 653.8 462.1 655 461.7C656.2 461.3 659 460.4 660 460.8C661 461.2 662.8 463.6 663.3 465C663.9 466.4 664.4 470.9 665 472.5C665.6 474.1 667.4 477.3 668.3 478.3C669.3 479.4 672 481.3 673.3 481.7C674.7 482.1 678.4 481.8 680 481.7C681.6 481.6 685.1 481.1 686.7 480.8C688.2 480.5 692.2 478.9 693.3 479.2C694.5 479.5 696.7 482.3 696.7 483.3C696.7 484.4 694.5 487.8 693.3 488.3C692.2 488.8 688.2 487.6 686.7 487.5C685.1 487.4 681.3 487.3 680 487.5C678.7 487.7 676.2 488.5 675.8 489.2C675.4 489.8 675.8 492.8 676.7 493.3C677.5 493.9 681.8 493.8 683.3 494.2C684.9 494.6 688.4 496.1 690 496.7C691.6 497.2 695.1 498.8 696.7 499.2C698.2 499.6 702 500.1 703.3 500C704.7 499.9 707 498.1 708.3 498.3C709.7 498.5 713.4 500.7 715 501.7C716.6 502.6 720.1 505.3 721.7 506.7C723.2 508 726.9 511.9 728.3 513.3C729.8 514.8 733.1 518 734.2 519.2C735.2 520.3 737.3 522.3 737.5 523.3C737.7 524.4 736.4 527.2 735.8 528.3C735.2 529.5 733.6 532.5 732.5 533.3C731.4 534.2 727.6 535.1 726.7 535.8C725.7 536.6 724.8 539 724.2 540C723.6 541 722.5 543.6 721.7 544.2C720.8 544.8 717.4 545.5 716.7 545C715.9 544.5 715.6 541.1 715 540C714.4 538.9 712.8 536.6 711.7 535.8C710.5 535.1 706.6 533.8 705 533.3C703.4 532.8 699.9 531.8 698.3 531.7C696.8 531.6 693.2 532.5 691.7 532.5C690.1 532.5 686.8 531.9 685 531.7C683.2 531.5 678.4 530.9 676.7 530.8C674.9 530.7 671.6 530.6 670 530.8C668.4 531 664.9 532 663.3 532.5C661.8 533 657.8 534.2 656.7 535C655.5 535.8 654.3 538.4 653.3 539.2C652.4 539.9 649.7 541.3 648.3 541.7C647 542.1 643.2 542.3 641.7 542.5C640.1 542.7 636.2 543.6 635 543.3C633.8 543 632.2 541.1 631.7 540C631.1 538.9 630.6 535 630 534.2C629.4 533.3 627.6 532.4 626.7 532.5C625.7 532.6 622.8 534.5 621.7 535C620.5 535.5 617.6 536.1 616.7 536.7C615.7 537.2 614.3 539.7 613.3 540C612.4 540.3 609.1 538.8 608.3 539.2C607.6 539.6 606.7 542.3 606.7 543.3C606.7 544.4 608.4 547.2 608.3 548.3C608.2 549.5 606.4 552.2 605.8 553.3C605.2 554.5 603.8 557.2 603.3 558.3C602.8 559.5 602.1 562.6 601.7 563.3C601.3 564.1 600.2 564.8 600 565"/>
<path d="M716.7 545.8C717.2 545.5 720.7 544.8 721.7 545C722.6 545.2 725.1 547 725 547.5C724.9 548 721.8 549.1 720.8 549.2C719.9 549.2 717.2 548.4 716.7 548C716.2 547.6 716.1 546.2 716.7 545.8Z"/>
<path d="M755.8 550C756 549.6 757.9 549 758.3 549.2C758.7 549.4 759.4 551.3 759.2 551.7C759 552.1 757.1 552.7 756.7 552.5C756.3 552.3 755.6 550.4 755.8 550Z"/>
<path d="M264 541.3C263.8 540.4 264.7 537.1 265.3 536C266 534.9 268.2 532.5 269.3 532C270.4 531.5 273.4 531.4 274.7 531.3C275.9 531.3 278.8 531.9 280 531.3C281.2 530.8 284.1 527.1 285.3 526.7C286.6 526.2 289.1 527.1 290.7 527.3C292.2 527.6 296.8 528.4 298.7 528.7C300.5 529 304.8 529.8 306.7 530C308.5 530.2 312.8 530.4 314.7 530.7C316.5 531 320.6 532.4 322.7 532.7C324.7 533 330.4 532.8 332 533.3C333.6 533.9 334.9 536.5 336 537.3C337.1 538.2 339.9 540 341.3 540.7C342.7 541.3 346.4 542.1 348 542.7C349.6 543.2 353.3 544.7 354.7 545.3C356.1 546 359.1 547.1 360 548C360.9 548.9 362 552.1 362.7 553.3C363.3 554.6 365.2 557.6 365.3 558.7C365.5 559.8 364.8 562.1 364 562.7C363.2 563.2 360.1 563.2 358.7 563.3C357.3 563.5 353.4 564.1 352 564C350.6 563.9 347.8 563.1 346.7 562.7C345.6 562.2 343.6 560.4 342.7 560C341.7 559.6 339.4 559.6 338.7 559.3C337.9 559.1 336.6 557.8 336 558C335.4 558.2 334 560.6 333.3 561.3C332.7 562.1 331.4 564.5 330.7 564.7C329.9 564.8 327.6 562.7 326.7 562.7C325.7 562.6 323.4 563.4 322.7 564C321.9 564.6 320.1 567.1 320 568C319.9 568.9 322 571.4 322 572C322 572.6 320.7 573.6 320 573.3C319.3 573 316.9 570.2 316 569.3C315.1 568.5 312.9 566.5 312 566C311.1 565.5 309.1 564.8 308 564.7C306.9 564.5 304.1 564.7 302.7 564.7C301.3 564.7 297.2 564.9 296 564.7C294.8 564.4 292.8 563.4 292 562.7C291.2 562 290 559.6 289.3 558.7C288.7 557.7 287.4 555.5 286.7 554.7C285.9 553.8 283.4 552.3 282.7 551.3C281.9 550.4 280.8 547.4 280 546.7C279.2 545.9 277.1 544.9 276 544.7C274.9 544.4 271.8 544.7 270.7 544.7C269.6 544.6 267.4 544.4 266.7 544C265.9 543.6 264.2 542.3 264 541.3Z"/>
<path d="M792 528C793.1 527.6 798.3 528.1 800.7 528C803.1 527.9 810 527.3 812.7 527.3C815.3 527.3 821 527.8 823.3 528C825.7 528.2 830.5 528.3 832.7 528.7C834.8 529.1 840 531.1 842 531.3C844 531.6 848.3 530.6 850 530.7C851.7 530.7 855.1 531.6 856.7 532C858.2 532.4 862.3 533.2 863.3 534C864.3 534.8 865.2 537.7 865.3 538.7C865.5 539.7 865.2 541.9 864.7 542.7C864.1 543.4 861.4 544.6 860.7 545.3C859.9 546.1 858.6 548.4 858 549.3C857.4 550.3 856.3 552.5 855.3 553.3C854.4 554.2 851.4 556.1 850 556.7C848.6 557.2 844.9 557.6 843.3 558C841.8 558.4 838.2 560.1 836.7 560C835.1 559.9 831.6 557.6 830 557.3C828.4 557 824.9 557.3 823.3 557.3C821.8 557.4 818.2 558.1 816.7 558C815.1 557.9 811.6 556.5 810 556.7C808.4 556.8 804.9 559.2 803.3 559.3C801.8 559.5 798.1 558.1 796.7 558C795.2 557.9 791.3 559.2 790.7 558.7C790 558.1 791.2 554.7 791.3 553.3C791.5 551.9 792 548.1 792 546.7C792 545.3 791.8 542.4 791.3 541.3C790.9 540.2 788.3 538.3 788 537.3C787.7 536.4 788.3 534 788.7 533.3C789.1 532.6 790.9 532 791.3 531.3C791.7 530.7 790.9 528.4 792 528Z"/>
<path d="M867.3 550.7C867.5 550.2 871.1 547.7 872.7 547.3C874.2 546.9 880.2 547 880.7 547.3C881.1 547.6 877.8 549.5 876.7 550C875.6 550.5 872.4 551.3 871.3 551.3C870.2 551.4 867.2 551.1 867.3 550.7Z"/>
<path d="M878.7 538C878.9 537.9 881.8 539.7 882 540C882.2 540.3 880.4 540.9 880 540.7C879.6 540.4 878.4 538.1 878.7 538Z"/>
<path d="M892.7 535.3C892.8 535.2 897 535.7 898 536C899 536.3 901.5 537.8 901.3 538C901.2 538.2 897.7 537.6 896.7 537.3C895.7 537 892.5 535.5 892.7 535.3Z"/>
<path d="M908 532.7C908.5 532.2 912.6 530.7 913.3 530.7C914 530.7 914.5 532.2 914 532.7C913.5 533.1 909.4 534.7 908.7 534.7C908 534.7 907.5 533.1 908 532.7Z"/>
<path d="M921.3 527.3C921.6 527 925.2 527 925.3 527.3C925.5 527.6 923.1 530 922.7 530C922.2 530 921 527.6 921.3 527.3Z"/>
<path d="M922 514 L928 515.3"/>
<path d="M899.3 569.3C899.9 568.7 902.9 568.2 904.7 568.3C906.5 568.3 914.2 569.5 914.7 570C915.1 570.5 910.4 572.2 908.7 572.7C907 573.1 901.1 574 900 573.6C898.9 573.2 898.8 570 899.3 569.3Z"/>
<path d="M981 546.2C981.6 545.6 986.6 542.2 987.5 541.9C988.3 541.5 989.2 542.8 988.5 543.4C987.9 544 983 546.5 982.1 546.8C981.2 547.2 980.4 546.8 981 546.2Z"/>
<path d="M982.1 550.5C982.6 550.1 987 550 987.5 550.5C988 551 986.9 554.4 986.4 554.8C985.9 555.2 983.7 554.2 983.1 553.7C982.6 553.2 981.6 550.9 982.1 550.5Z"/>
<path d="M993.9 560.2 L996.1 561.3"/>
<path d="M1041.4 574.2C1041.8 573.4 1045 572.8 1045.7 573.1C1046.5 573.5 1047.7 576.5 1047.9 577.5C1048 578.5 1047.4 581.5 1046.8 581.8C1046.2 582.1 1043.1 580.9 1042.5 580.1C1041.9 579.2 1041 575 1041.4 574.2Z"/>
<path d="M995 591.5C995.1 590.9 997.4 589.1 998.3 589.3C999.1 589.6 1001.8 592.5 1002.6 593.6C1003.3 594.8 1004.9 598.7 1004.7 599C1004.6 599.4 1002.4 597.4 1001.5 596.9C1000.6 596.4 997.9 595.4 997.2 594.7C996.4 594.1 994.9 592.1 995 591.5Z"/>
<path d="M1005.8 602.3C1006.2 601.6 1009.6 601.1 1010.1 601.6C1010.6 602.1 1010.5 605.9 1010.1 606.6C1009.7 607.2 1007 607.7 1006.5 607.2C1005.9 606.7 1005.4 602.9 1005.8 602.3Z"/>
<path d="M988.1 584.4 L989.2 585.7"/>
<path d="M1041.4 605.5C1041.9 604.6 1044.7 603.2 1045.7 603.4C1046.7 603.5 1049.5 605.6 1050 606.6C1050.5 607.6 1050.5 611.2 1050 612C1049.5 612.8 1046.7 613.8 1045.7 613.7C1044.7 613.6 1041.9 611.9 1041.4 610.9C1040.9 609.9 1040.9 606.4 1041.4 605.5Z"/>
<path d="M1025.2 623.9C1025.5 623.2 1027 622.3 1027.4 622.8C1027.8 623.3 1029 627.2 1028.9 628.2C1028.8 629.1 1026.8 631 1026.3 631C1025.8 631 1024.7 629 1024.6 628.2C1024.4 627.3 1024.9 624.5 1025.2 623.9Z"/>
<path d="M1045.7 651.9C1046.2 650.5 1049 649.6 1050 649.7C1051 649.9 1053.6 651.8 1054.3 653C1055.1 654.1 1056.4 657.8 1056.5 659.4C1056.6 661.1 1055.9 665.6 1055.4 667C1054.9 668.4 1053.1 671.1 1052.2 671.3C1051.3 671.6 1048.6 670.3 1047.9 669.2C1047.1 668 1046 663.6 1045.7 661.6C1045.5 659.6 1045.2 653.3 1045.7 651.9Z"/>
<path d="M1057.6 642.2C1058 641.4 1061.1 640.6 1061.9 641.1C1062.7 641.6 1063.2 645.4 1064.1 646.5C1064.9 647.6 1068.3 649.8 1069.4 650.8C1070.6 651.8 1074 654.5 1073.8 655.1C1073.5 655.8 1068.8 656 1067.3 656.2C1065.8 656.5 1062 657.7 1060.8 657.3C1059.7 656.9 1057.8 654.1 1057.6 653C1057.3 651.8 1058.7 648.8 1058.7 647.6C1058.7 646.3 1057.2 642.9 1057.6 642.2Z"/>
<path d="M1079.2 650.8 L1082.4 649.1"/>
<path d="M1070.1 669.4C1070.8 669.3 1072.7 670.5 1073.1 671.1C1073.5 671.7 1073.6 673.9 1073.3 674.6C1073 675.2 1071.2 676.4 1070.5 676.5C1069.8 676.5 1067.7 675.6 1067.3 675C1066.9 674.4 1066.5 672 1066.9 671.3C1067.2 670.7 1069.4 669.4 1070.1 669.4Z"/>
<path d="M1059.7 690.7C1060 689.7 1063 690.2 1064.1 690.7C1065.1 691.2 1067.6 693.7 1068.4 695C1069.1 696.4 1070.4 700.8 1070.5 702.6C1070.7 704.4 1070 708.9 1069.4 710.2C1068.9 711.4 1066.8 713.8 1066.2 713.4C1065.6 713 1064.6 708.6 1064.1 706.9C1063.6 705.3 1062.4 701.3 1061.9 699.4C1061.4 697.5 1059.5 691.7 1059.7 690.7Z"/>
<path d="M1072.5 734.2C1073 733.4 1075.6 731.8 1076.7 732.1C1077.8 732.3 1080.9 734.9 1082 736.3C1083.1 737.6 1085.2 741.9 1086.2 743.6C1087.2 745.4 1089.9 749.3 1090.4 751C1090.9 752.7 1091.1 757.8 1090.4 758.3C1089.7 758.9 1085.4 756.3 1084.1 755.8C1082.7 755.3 1079.3 755.1 1078.8 754.1C1078.3 753.2 1080.3 749.1 1079.9 747.8C1079.5 746.6 1076.5 744.7 1075.7 743.6C1074.8 742.5 1072.9 739.5 1072.5 738.4C1072.2 737.3 1072 734.9 1072.5 734.2Z"/>
<path d="M1080.9 779.4C1081.5 778.3 1083.4 776.9 1084.1 777.3C1084.8 777.6 1086.9 780.7 1087.2 782.5C1087.6 784.4 1087.6 791.2 1087.2 793C1086.9 794.8 1084.9 797.7 1084.1 797.9C1083.2 798 1080.5 795.4 1079.9 794.1C1079.3 792.8 1078.7 788.4 1078.8 786.7C1079 785 1080.3 780.5 1080.9 779.4Z"/>
<path d="M1070.4 819.3C1071 818.3 1072.8 817 1073.6 817.2C1074.3 817.5 1076.5 820.1 1076.7 821.4C1077 822.8 1076.3 827.7 1075.7 828.8C1075.1 829.8 1072.3 830.6 1071.5 830.2C1070.7 829.9 1069.1 826.9 1069 825.6C1068.8 824.3 1069.9 820.3 1070.4 819.3Z"/>
<path d="M1070.4 838.7 L1072.5 836.1"/>
<path d="M1067.3 855 L1067.7 853.4"/>
<path d="M1059.9 867.2C1060.1 866.8 1061.7 865.8 1062 866C1062.3 866.2 1062.6 868.3 1062.4 868.7C1062.2 869.2 1060.6 869.9 1060.3 869.8C1060 869.6 1059.7 867.7 1059.9 867.2Z"/>
<path d="M271.7 150C272 149.5 274.8 149.9 275.8 150C276.9 150.1 280.1 150.1 280.8 150.8C281.6 151.6 282 155.2 282.5 156.7C283 158.1 284.3 161.8 285 163.3C285.7 164.9 287.5 168.4 288.3 170C289.2 171.6 291.8 175.1 292.5 176.7C293.2 178.2 294.1 181.8 294.2 183.3C294.3 184.9 293.8 188.6 293.3 190C292.8 191.4 291 194.1 290 195C289 195.9 286.2 197 285 197.5C283.8 198 281.1 199.4 280 199.2C278.9 199 276.6 196.8 275.8 195.8C275.1 194.9 273.9 191.9 273.3 190.8C272.8 189.8 271.3 187.7 270.8 186.7C270.3 185.6 269.6 182.7 269.2 181.7C268.8 180.6 268 177.9 267.5 177.5C267 177.1 265.6 177.7 265 178.3C264.4 178.9 262.5 181.7 262.5 182.5C262.5 183.3 264.2 184.9 265 185C265.8 185.1 268.6 184.1 269.2 183.3C269.8 182.6 270.1 179.3 270 178.3C269.9 177.4 268.3 176 268.3 175C268.3 174 269.5 171.2 270 170C270.5 168.8 271.9 166.4 272.5 165C273.1 163.6 274.9 159.6 275 158.3C275.1 157.1 273.7 155.1 273.3 154.2C272.9 153.2 271.4 150.5 271.7 150Z"/>
<path d="M284.2 203.3C284.5 202.6 287.7 201.3 288.3 201.7C289 202.1 290.3 205.9 290 206.7C289.7 207.4 286.5 208.7 285.8 208.3C285.2 207.9 283.9 204.1 284.2 203.3Z"/>
<path d="M293.3 208.3C293.6 206.9 296.9 201.4 297.5 201.7C298.1 202 298.6 209.4 298.3 210.8C298 212.3 295.6 214.5 295 214.2C294.4 213.9 293 209.8 293.3 208.3Z"/>
<path d="M297.5 201.7C298 202.3 300.9 204.9 301.7 206.7C302.4 208.4 304 214.6 304.2 216.7C304.4 218.7 303.4 223.3 303.3 224.2"/>
<path d="M290 223.3C290.8 223.4 295 224.3 296.7 224.2C298.3 224.1 303.3 222.7 304.2 222.5"/>
<path d="M310 102.5C310.5 102.8 313.3 104 314.2 105C315 106 316.9 110.2 317.5 110.8C318.1 111.4 319.4 111 319.7 110C320 109 320 103.4 320 102.5"/>
<path d="M286.7 116.7 L290 119.7"/>
<path d="M302.5 158.3C302.6 157.8 305.4 156.9 306.7 156.7C307.9 156.4 312.3 156.2 313.3 156.3C314.4 156.5 316 157.5 315.8 158C315.6 158.5 312.8 159.9 311.7 160.3C310.5 160.7 306.9 161.6 305.8 161.3C304.8 161.1 302.4 158.9 302.5 158.3Z"/>
<path d="M340.8 128.3C341.3 127.5 342.9 128.2 343.3 128.7C343.7 129.2 343.6 131.6 344.2 132.5C344.8 133.4 347.3 135.8 348.3 136.7C349.4 137.5 352.1 139.4 353.3 140C354.6 140.6 358 140.9 359.2 141.7C360.3 142.4 362.4 145.6 363.3 146.7C364.3 147.7 366.7 149.9 367.5 150.8C368.3 151.8 370.2 153.7 370.5 155C370.8 156.3 370.3 160.3 370 161.7C369.7 163 368.6 165.5 368.3 166.7C368 167.8 367.5 170.4 367.5 171.7C367.5 172.9 368.3 177 368 177.5C367.7 178 365.6 176.4 365 175.8C364.4 175.2 363.1 173.1 362.5 172.5C361.9 171.9 359.8 171.2 360 170.8C360.2 170.4 363.4 169.8 364.2 169.2C364.9 168.5 366.3 166.1 366.7 165C367.1 163.9 367.3 161.2 367.5 160C367.7 158.8 368.4 156.2 368 155C367.6 153.8 365.1 151.2 364.2 150C363.2 148.8 361.1 145.9 360 145C358.9 144.1 356.3 143.2 355 142.5C353.7 141.8 350.4 139.9 349.2 139.2C347.9 138.4 345.3 136.2 344.2 135.8C343.1 135.4 340.1 136.7 339.7 135.8C339.3 135 340.4 129.2 340.8 128.3Z"/>
<path d="M388.3 178.3C388.3 177.7 390.3 177.6 390.8 178C391.4 178.4 392.8 180.7 393.3 181.7C393.9 182.7 395.2 185.4 395.8 186.7C396.5 187.9 398.4 191.2 399.2 192.5C399.9 193.8 401.7 196.4 402.5 197.5C403.3 198.6 405.2 200.7 405.8 201.7C406.5 202.6 408.2 205.1 408.3 205.8C408.4 206.6 407.4 207.9 406.7 208.3C405.9 208.7 402.4 209.4 401.7 209.2C400.9 209 399.7 207.3 400 206.7C400.3 206.1 404.1 205 404.2 204.2C404.3 203.3 401.6 200.4 400.8 199.2C400.1 197.9 398.3 194.6 397.5 193.3C396.7 192.1 394.9 189.5 394.2 188.3C393.4 187.2 391.5 184.5 390.8 183.3C390.2 182.2 388.3 179 388.3 178.3Z"/>
<path d="M350 200 L352.5 203.3"/>
<path d="M356.7 210.8 L360 216.7"/>
<path d="M445 210C445.3 209.1 447 208.8 447.5 209.2C448 209.6 449.2 212.3 449.2 213.3C449.2 214.4 448 217.9 447.5 218.3C447 218.7 445 217.6 444.7 216.7C444.4 215.7 444.7 210.9 445 210Z"/>
<path d="M425 235C425.3 234.7 428.2 233.4 429.2 233.3C430.1 233.2 433.1 233.8 433.3 234.2C433.5 234.5 431.6 236.1 430.8 236.3C430.1 236.6 427.3 236.5 426.7 236.3C426 236.2 424.7 235.3 425 235Z"/>
<path d="M380 238.3C380.2 238.2 383.6 242.3 385 243.3C386.4 244.4 390.2 246.7 391.7 247.5C393.1 248.3 397.7 249.9 397.5 250C397.3 250.1 391.7 249 390 248.3C388.3 247.7 384.5 245.3 383.3 244.2C382.2 243 379.8 238.4 380 238.3Z"/>
<path d="M406.7 236.7C406.7 236 408.6 235.2 409.2 235.8C409.8 236.4 411 240 411.7 241.7C412.3 243.3 414.2 248.1 415 250C415.8 251.9 417.8 256.6 418.3 258.3C418.9 260.1 419.2 263.8 420 265C420.8 266.2 423.9 267.2 425 268.3C426.1 269.5 428.6 273.6 429.2 275C429.8 276.4 430.2 279.6 430 280C429.8 280.4 428.1 279.3 427.5 278.3C426.9 277.4 425.9 272.8 425 271.7C424.1 270.5 421.1 268.9 420 268.3C418.9 267.8 416.6 267.3 415.8 266.7C415.1 266 413.2 263.1 413.3 262.5C413.4 261.9 416.4 262.5 416.7 261.7C417 260.8 416.3 256.6 415.8 255C415.3 253.4 413.3 249.9 412.5 248.3C411.7 246.8 409.8 243 409.2 241.7C408.5 240.3 406.7 237.3 406.7 236.7Z"/>
<path d="M478.3 268.3C478.3 268 481 267.2 481.7 267.2C482.3 267.2 484.2 268 484.2 268.3C484.2 268.6 482.3 269.7 481.7 269.7C481 269.7 478.3 268.6 478.3 268.3Z"/>
<path d="M453.3 282.5C453.4 281.8 455.7 282.2 456.7 282.5C457.6 282.8 460.7 284.4 461.7 285C462.6 285.6 465.1 287.1 465 287.5C464.9 287.9 461.7 287.9 460.8 288.3C460 288.7 458.2 290.1 457.5 290.8C456.8 291.6 455.6 294.1 455 295C454.4 295.9 452.6 298.5 452.5 298.3C452.4 298.1 453.8 294.5 454.2 293.3C454.6 292.2 455.9 289.6 455.8 288.3C455.7 287.1 453.2 283.2 453.3 282.5Z"/>
<path d="M477.5 300C477.6 300.4 475.7 303.3 475 304.2C474.3 305 472.5 306.7 471.7 307.5C470.8 308.3 468.5 310 467.5 310.8C466.5 311.7 464.6 313.9 463.3 315C462.1 316.1 457.2 319.8 456.7 320C456.2 320.2 458.4 317.6 459.2 316.7C459.9 315.7 462.5 312.6 463.3 311.7C464.2 310.7 465.8 309.2 466.7 308.3C467.5 307.5 470 305 470.8 304.2C471.7 303.3 473.4 301.3 474.2 300.8C474.9 300.3 477.4 299.6 477.5 300Z"/>
<path d="M510 305C510.5 304.5 513.8 304.7 515 305C516.2 305.3 518.7 307.1 520 307.5C521.3 307.9 524.8 307.8 525.8 308.3C526.9 308.8 529.1 311.1 529.2 311.7C529.3 312.2 527.5 313.4 526.7 313.3C525.8 313.2 522.9 311.1 521.7 310.8C520.4 310.5 517.1 311 515.8 310.8C514.6 310.6 511.5 309.8 510.8 309.2C510.2 308.5 509.5 305.5 510 305Z"/>
<path d="M484.2 385.8C484.2 384.8 485.8 381.9 486.7 380.8C487.5 379.8 490.4 377.3 491.7 376.7C492.9 376 496.2 374.8 497.5 375C498.8 375.2 501.2 378.2 502.5 378.3C503.8 378.4 507.2 376.7 508.3 375.8C509.5 375 511.6 371.7 512.5 370.8C513.4 370 515.3 368 515.8 368.3C516.3 368.6 516.9 372 516.7 373.3C516.5 374.7 514.9 378.5 514.2 380C513.4 381.5 511.3 384.9 510 385.8C508.7 386.8 505.1 387.8 503.3 388.3C501.6 388.8 496.9 389.8 495 390C493.1 390.2 487.9 390.5 486.7 390C485.4 389.5 484.2 386.9 484.2 385.8Z"/>
<path d="M514.2 359.2C514.3 358.5 516.7 355.9 517.5 355.8C518.3 355.7 520.9 357.7 520.8 358.3C520.7 359 517.4 361.6 516.7 361.7C515.9 361.8 514.1 359.8 514.2 359.2Z"/>
<path d="M549.2 339.2C549.5 339.6 551 342.2 551.7 342.5C552.3 342.8 554.5 342.1 555 341.7C555.5 341.3 555.7 339.5 555.8 339.2"/>
<path d="M563.3 333.3C563.6 333 566.9 332.9 567.5 333.3C568.1 333.7 568.6 336.4 568.3 336.7C568 337 565.6 336.2 565 335.8C564.4 335.4 563 333.6 563.3 333.3Z"/>
<path d="M570.8 339.2C571.5 338.8 575.6 338.2 576.7 338.3C577.7 338.4 579.6 339.4 580 340C580.4 340.6 580.6 343 580 343.3C579.4 343.6 576.1 342.7 575 342.5C573.9 342.3 571.3 342.1 570.8 341.7C570.3 341.3 570.2 339.6 570.8 339.2Z"/>
<path d="M584.2 344.2 L589.2 346.7"/>
<path d="M542.5 347.5 L543 350"/>
<path d="M604.7 358 L605.3 360.3"/>
<path d="M551.7 900.8C552.1 900 554.3 895.1 555 893.3C555.7 891.6 557 887.2 557.5 885.8C558 884.5 558.5 882.2 559.2 881.7C559.8 881.1 562.6 880.4 563.3 880.8C564.1 881.2 565.2 884.9 565.8 885C566.4 885.1 567.8 882.7 568.3 881.7C568.8 880.6 569.2 876.7 570 875.8C570.8 875 574 874.8 575 874.2C576 873.5 577.4 870.5 578.3 870C579.3 869.5 582 869.4 583.3 869.7C584.7 870 588.4 871.8 590 872.5C591.6 873.2 595.3 874.8 596.7 875.8C598 876.9 600.8 880.2 601.7 881.7C602.5 883.1 603.7 887 604.2 888.3C604.7 889.7 606.1 892.3 605.8 893.3C605.5 894.4 602.7 896.6 601.7 897.5C600.6 898.4 597.2 900.4 596.7 900.8"/>
<path d="M644.2 900.8C644.5 900 646.1 894.7 646.7 893.3C647.2 892 648.3 889.8 649.2 889.2C650 888.5 653.1 888.1 654.2 887.5C655.2 886.9 657.5 884.3 658.3 884.2C659.2 884.1 660.9 885.6 661.7 886.7C662.4 887.7 664.4 891.7 665 893.3C665.6 895 666.5 900 666.7 900.8"/>
<path d="M655 860.8C655.2 860.5 656.8 860.3 657.5 860.8C658.2 861.3 660.1 863.8 660.8 865C661.6 866.2 664.1 870.2 664.2 870.8C664.3 871.5 662.3 871.3 661.7 870.8C661 870.3 659 867.5 658.3 866.7C657.7 865.8 656.2 864 655.8 863.3C655.4 862.7 654.8 861.1 655 860.8Z"/>
<path d="M697.5 875C697.6 874.4 699.3 873.7 700 874.2C700.7 874.7 702.4 877.9 703.3 879.2C704.3 880.4 707.2 883.9 708.3 885C709.5 886.1 712.4 887.6 713.3 888.3C714.3 889.1 716.7 891.2 716.7 891.7C716.7 892.1 714.3 892.3 713.3 892C712.4 891.7 709.5 890.1 708.3 889.2C707.2 888.3 704.4 885.3 703.3 884.2C702.3 883 699.8 880.2 699.2 879.2C698.5 878.1 697.4 875.6 697.5 875Z"/>
<path d="M733.8 878.8C733.7 878 737 876.6 738 877C739 877.4 742 880.5 742.5 882.5C743 884.5 742.4 893 742 893.8C741.6 894.5 739.4 890.3 739 889C738.6 887.7 739.1 884.2 738.5 883C737.9 881.8 733.8 879.5 733.8 878.8Z"/>
<path d="M34.9 723.2C35.5 723.6 40 725.3 40 726.1C40 726.9 35.5 729.4 34.9 729.9"/>
<path d="M34.9 749.8C35.2 751.2 37.7 759.5 37.7 761.9C37.7 764.4 35.2 769.8 34.9 770.8"/>
<path d="M55.4 760.8C55.5 760.5 58 758.6 58.3 758.6C58.6 758.7 58.4 761.2 58.1 761.5C57.8 761.8 55.4 761.2 55.4 760.8Z"/>
<path d="M122.5 820.6 L123.6 817.3"/>
<path d="M106.5 867 L107.4 861.9"/>
<path d="M120.3 478C120.5 477.6 122.1 476.9 122.5 477.3C122.9 477.7 123 480.7 123.5 481C124 481.3 126 479.7 127 479.5C128 479.3 131 478.9 132 479C133 479.1 135.5 480 135.8 480.5C136.2 481 135.9 482.6 135 483C134.1 483.4 129.2 483.7 128 484C126.8 484.3 125.8 485.4 125 485.5C124.2 485.6 122 485 121.5 484.5C121 484 120.6 481.8 120.5 481C120.4 480.2 120.1 478.4 120.3 478Z"/>
<path d="M181 462.5C180.9 462.3 183.2 460.9 184 460.5C184.8 460.1 187.9 459.1 188 459.3C188.1 459.5 185.8 461.4 185 461.8C184.2 462.2 181.1 462.7 181 462.5Z"/>
<path d="M192 460.5C191.9 460.3 194.7 459 195.5 458.5C196.3 458 198.9 456.1 199 456.3C199.1 456.5 196.8 459.3 196 459.8C195.2 460.3 192.1 460.7 192 460.5Z"/>
</g>
<defs><g id="lb" font-size="16" text-anchor="middle" stroke="none"><text x="552" y="171.5" textLength="36" lengthAdjust="spacingAndGlyphs">1557</text><text x="567" y="254.5" textLength="36" lengthAdjust="spacingAndGlyphs">1551</text><text x="567" y="302.5" textLength="36" lengthAdjust="spacingAndGlyphs">1545</text><text x="432" y="299.5" textLength="36" lengthAdjust="spacingAndGlyphs">1539</text><text x="467" y="345.5" textLength="36" lengthAdjust="spacingAndGlyphs">1533</text><text x="930" y="284.5" textLength="36" lengthAdjust="spacingAndGlyphs">1569</text><text x="854" y="339.5" textLength="36" lengthAdjust="spacingAndGlyphs">1557</text><text x="830" y="385.5" textLength="36" lengthAdjust="spacingAndGlyphs">1551</text><text x="838" y="442.5" textLength="36" lengthAdjust="spacingAndGlyphs">1545</text><text x="878" y="495.5" textLength="36" lengthAdjust="spacingAndGlyphs">1539</text><text x="668" y="540.5" textLength="36" lengthAdjust="spacingAndGlyphs">1533</text><text x="890" y="544.5" textLength="36" lengthAdjust="spacingAndGlyphs">1533</text><text x="447" y="434.5" textLength="36" lengthAdjust="spacingAndGlyphs">1527</text><text x="544" y="490.5" textLength="36" lengthAdjust="spacingAndGlyphs">1527</text><text x="607" y="582.5" textLength="36" lengthAdjust="spacingAndGlyphs">1527</text><text x="870" y="610.5" textLength="36" lengthAdjust="spacingAndGlyphs">1527</text><text x="270" y="371.5" textLength="36" lengthAdjust="spacingAndGlyphs">1527</text><text x="77" y="396.5" textLength="36" lengthAdjust="spacingAndGlyphs">1521</text><text x="378" y="567.5" textLength="36" lengthAdjust="spacingAndGlyphs">1521</text><text x="644" y="621.5" textLength="36" lengthAdjust="spacingAndGlyphs">1521</text><text x="942" y="701.5" textLength="36" lengthAdjust="spacingAndGlyphs">1521</text><text x="217" y="582.5" textLength="36" lengthAdjust="spacingAndGlyphs">1515</text><text x="475" y="661.5" textLength="36" lengthAdjust="spacingAndGlyphs">1515</text><text x="746" y="697.5" textLength="36" lengthAdjust="spacingAndGlyphs">1515</text><text x="228" y="680.5" textLength="36" lengthAdjust="spacingAndGlyphs">1509</text><text x="540" y="734.5" textLength="36" lengthAdjust="spacingAndGlyphs">1509</text><text x="882" y="841.5" textLength="36" lengthAdjust="spacingAndGlyphs">1509</text><text x="373" y="744.5" textLength="36" lengthAdjust="spacingAndGlyphs">1503</text><text x="645" y="791.5" textLength="36" lengthAdjust="spacingAndGlyphs">1503</text><text x="293" y="789.5" textLength="36" lengthAdjust="spacingAndGlyphs">1497</text><text x="620" y="847.5" textLength="36" lengthAdjust="spacingAndGlyphs">1497</text><text x="361" y="855.5" textLength="36" lengthAdjust="spacingAndGlyphs">1491</text></g></defs>
<use href="#lb" fill="#a4a4a6"/>
<use href="#lb" fill="#a9adbc" clip-path="url(#c63)"/>
<use href="#lb" fill="#b0b7c3" fill-opacity="0.72" clip-path="url(#c39)"/>
<use href="#lb" fill="#b6b7ba" fill-opacity="0.85" clip-path="url(#c21)"/>
</g>
<rect x="915.8" y="877.6" width="208.6" height="20.4" fill="#fff" stroke="#cfcfcf" stroke-width="0.8"/>
<g filter="url(#nf)" font-size="14.6">
<text x="931.3" y="893.2" fill="#00a0ff" textLength="21" lengthAdjust="spacingAndGlyphs">Sis</text>
<path d="M958.6 883.6V891.2q0 1.6 -1.5 1.8M966.4 883.6V891.2q0 1.6 1.6 1.8" stroke="#2030ff" stroke-width="1.2" fill="none"/>
<path d="M974 889.4H982.4" stroke="#555" stroke-width="1.1" fill="none"/>
<text x="993" y="893.4" fill="#3c3c3c" stroke="#fff" stroke-width="0.3" style="paint-order:fill stroke" textLength="125" lengthAdjust="spacingAndGlyphs">ONAMET/REP.DOM.</text>
</g>
<g font-size="13" fill="#989898" stroke="#989898" stroke-width="0.4" filter="url(#nf)">
<text x="4.3" y="900" textLength="20.7" lengthAdjust="spacingAndGlyphs">12N</text>
<path d="M28.3 895.4H30.8" stroke-width="1.1"/>
<text x="4.3" y="843.5" textLength="20.7" lengthAdjust="spacingAndGlyphs">13N</text>
<path d="M28.3 838.9H30.8" stroke-width="1.1"/>
<text x="4.3" y="787" textLength="20.7" lengthAdjust="spacingAndGlyphs">14N</text>
<path d="M28.3 782.4H30.8" stroke-width="1.1"/>
<text x="4.3" y="730.4" textLength="20.7" lengthAdjust="spacingAndGlyphs">15N</text>
<path d="M28.3 725.8H30.8" stroke-width="1.1"/>
<text x="4.3" y="673.9" textLength="20.7" lengthAdjust="spacingAndGlyphs">16N</text>
<path d="M28.3 669.3H30.8" stroke-width="1.1"/>
<text x="4.3" y="617.4" textLength="20.7" lengthAdjust="spacingAndGlyphs">17N</text>
<path d="M28.3 612.8H30.8" stroke-width="1.1"/>
<text x="4.3" y="560.8" textLength="20.7" lengthAdjust="spacingAndGlyphs">18N</text>
<path d="M28.3 556.2H30.8" stroke-width="1.1"/>
<text x="4.3" y="504.3" textLength="20.7" lengthAdjust="spacingAndGlyphs">19N</text>
<path d="M28.3 499.7H30.8" stroke-width="1.1"/>
<text x="4.3" y="447.8" textLength="20.7" lengthAdjust="spacingAndGlyphs">20N</text>
<path d="M28.3 443.2H30.8" stroke-width="1.1"/>
<text x="4.3" y="391.2" textLength="20.7" lengthAdjust="spacingAndGlyphs">21N</text>
<path d="M28.3 386.6H30.8" stroke-width="1.1"/>
<text x="4.3" y="334.7" textLength="20.7" lengthAdjust="spacingAndGlyphs">22N</text>
<path d="M28.3 330.1H30.8" stroke-width="1.1"/>
<text x="4.3" y="278.2" textLength="20.7" lengthAdjust="spacingAndGlyphs">23N</text>
<path d="M28.3 273.6H30.8" stroke-width="1.1"/>
<text x="4.3" y="221.7" textLength="20.7" lengthAdjust="spacingAndGlyphs">24N</text>
<path d="M28.3 217.1H30.8" stroke-width="1.1"/>
<text x="4.3" y="165.1" textLength="20.7" lengthAdjust="spacingAndGlyphs">25N</text>
<path d="M28.3 160.5H30.8" stroke-width="1.1"/>
<text x="4.3" y="108.6" textLength="20.7" lengthAdjust="spacingAndGlyphs">26N</text>
<path d="M28.3 104H30.8" stroke-width="1.1"/>
<text x="81.8" y="918.6" textLength="22.3" lengthAdjust="spacingAndGlyphs">82W</text>
<path d="M93 905V906.6" stroke-width="1.1"/>
<text x="176" y="918.6" textLength="22.3" lengthAdjust="spacingAndGlyphs">80W</text>
<path d="M187.2 905V906.6" stroke-width="1.1"/>
<text x="270.3" y="918.6" textLength="22.3" lengthAdjust="spacingAndGlyphs">78W</text>
<path d="M281.5 905V906.6" stroke-width="1.1"/>
<text x="364.5" y="918.6" textLength="22.3" lengthAdjust="spacingAndGlyphs">76W</text>
<path d="M375.7 905V906.6" stroke-width="1.1"/>
<text x="458.8" y="918.6" textLength="22.3" lengthAdjust="spacingAndGlyphs">74W</text>
<path d="M470 905V906.6" stroke-width="1.1"/>
<text x="553" y="918.6" textLength="22.3" lengthAdjust="spacingAndGlyphs">72W</text>
<path d="M564.2 905V906.6" stroke-width="1.1"/>
<text x="647.3" y="918.6" textLength="22.3" lengthAdjust="spacingAndGlyphs">70W</text>
<path d="M658.5 905V906.6" stroke-width="1.1"/>
<text x="741.5" y="918.6" textLength="22.3" lengthAdjust="spacingAndGlyphs">68W</text>
<path d="M752.7 905V906.6" stroke-width="1.1"/>
<text x="835.8" y="918.6" textLength="22.3" lengthAdjust="spacingAndGlyphs">66W</text>
<path d="M847 905V906.6" stroke-width="1.1"/>
<text x="930" y="918.6" textLength="22.3" lengthAdjust="spacingAndGlyphs">64W</text>
<path d="M941.2 905V906.6" stroke-width="1.1"/>
<text x="1024.3" y="918.6" textLength="22.3" lengthAdjust="spacingAndGlyphs">62W</text>
<path d="M1035.5 905V906.6" stroke-width="1.1"/>
<text x="1118.5" y="918.6" textLength="22.3" lengthAdjust="spacingAndGlyphs">60W</text>
<path d="M1129.7 905V906.6" stroke-width="1.1"/>
</g>
<rect x="1144.2" y="98.3" width="18.5" height="806" fill="#d9dbe0"/>
<rect x="1145.6" y="100.8" width="15.8" height="26.3" fill="#0000ff"/>
<rect x="1145.6" y="128.3" width="15.8" height="27.5" fill="#0000dc"/>
<rect x="1145.6" y="157" width="15.8" height="27.5" fill="#000096"/>
<rect x="1145.6" y="185.7" width="15.8" height="27.5" fill="#190064"/>
<rect x="1145.6" y="214.5" width="15.8" height="27.5" fill="#281982"/>
<rect x="1145.6" y="243.2" width="15.8" height="27.5" fill="#3a53a5"/>
<rect x="1145.6" y="271.9" width="15.8" height="27.5" fill="#497db9"/>
<rect x="1145.6" y="300.6" width="15.8" height="27.5" fill="#6496c8"/>
<rect x="1145.6" y="329.3" width="15.8" height="27.5" fill="#91c3e1"/>
<rect x="1145.6" y="358.1" width="15.8" height="27.5" fill="#b4def0"/>
<rect x="1145.6" y="386.8" width="15.8" height="27.5" fill="#c3ebf5"/>
<rect x="1145.6" y="415.5" width="15.8" height="27.5" fill="#dcf5fa"/>
<rect x="1145.6" y="444.2" width="15.8" height="27.5" fill="#cdfaff"/>
<rect x="1145.6" y="472.9" width="15.8" height="27.5" fill="#ffffff"/>
<rect x="1145.6" y="501.7" width="15.8" height="27.5" fill="#faf2cd"/>
<rect x="1145.6" y="530.4" width="15.8" height="27.5" fill="#faf3dc"/>
<rect x="1145.6" y="559.1" width="15.8" height="27.5" fill="#f5ebc3"/>
<rect x="1145.6" y="587.8" width="15.8" height="27.5" fill="#f0e1b4"/>
<rect x="1145.6" y="616.5" width="15.8" height="27.5" fill="#dcbe8c"/>
<rect x="1145.6" y="645.3" width="15.8" height="27.5" fill="#c89b64"/>
<rect x="1145.6" y="674" width="15.8" height="27.5" fill="#be8250"/>
<rect x="1145.6" y="702.7" width="15.8" height="27.5" fill="#a55a3c"/>
<rect x="1145.6" y="731.4" width="15.8" height="27.5" fill="#871928"/>
<rect x="1145.6" y="760.1" width="15.8" height="27.5" fill="#6e001c"/>
<rect x="1145.6" y="788.9" width="15.8" height="27.5" fill="#960000"/>
<rect x="1145.6" y="817.6" width="15.8" height="27.5" fill="#be0000"/>
<rect x="1145.6" y="846.3" width="15.8" height="27.5" fill="#dc0000"/>
<rect x="1145.6" y="875" width="15.8" height="28" fill="#ff0000"/>
<g font-size="13.2" fill="#111" filter="url(#nf)">
<text x="1167.6" y="132.5" textLength="29" lengthAdjust="spacingAndGlyphs">1641</text>
<text x="1167.6" y="161.2" textLength="29" lengthAdjust="spacingAndGlyphs">1635</text>
<text x="1167.6" y="189.9" textLength="29" lengthAdjust="spacingAndGlyphs">1629</text>
<text x="1167.6" y="218.7" textLength="29" lengthAdjust="spacingAndGlyphs">1623</text>
<text x="1167.6" y="247.4" textLength="29" lengthAdjust="spacingAndGlyphs">1617</text>
<text x="1167.6" y="276.1" textLength="29" lengthAdjust="spacingAndGlyphs">1611</text>
<text x="1167.6" y="304.8" textLength="29" lengthAdjust="spacingAndGlyphs">1605</text>
<text x="1167.6" y="333.5" textLength="29" lengthAdjust="spacingAndGlyphs">1599</text>
<text x="1167.6" y="362.3" textLength="29" lengthAdjust="spacingAndGlyphs">1593</text>
<text x="1167.6" y="391" textLength="29" lengthAdjust="spacingAndGlyphs">1587</text>
<text x="1167.6" y="419.7" textLength="29" lengthAdjust="spacingAndGlyphs">1581</text>
<text x="1167.6" y="448.4" textLength="29" lengthAdjust="spacingAndGlyphs">1575</text>
<text x="1167.6" y="477.1" textLength="29" lengthAdjust="spacingAndGlyphs">1569</text>
<text x="1167.6" y="505.9" textLength="29" lengthAdjust="spacingAndGlyphs">1563</text>
<text x="1167.6" y="534.6" textLength="29" lengthAdjust="spacingAndGlyphs">1557</text>
<text x="1167.6" y="563.3" textLength="29" lengthAdjust="spacingAndGlyphs">1551</text>
<text x="1167.6" y="592" textLength="29" lengthAdjust="spacingAndGlyphs">1545</text>
<text x="1167.6" y="620.7" textLength="29" lengthAdjust="spacingAndGlyphs">1539</text>
<text x="1167.6" y="649.5" textLength="29" lengthAdjust="spacingAndGlyphs">1533</text>
<text x="1167.6" y="678.2" textLength="29" lengthAdjust="spacingAndGlyphs">1527</text>
<text x="1167.6" y="706.9" textLength="29" lengthAdjust="spacingAndGlyphs">1521</text>
<text x="1167.6" y="735.6" textLength="29" lengthAdjust="spacingAndGlyphs">1515</text>
<text x="1167.6" y="764.3" textLength="29" lengthAdjust="spacingAndGlyphs">1509</text>
<text x="1167.6" y="793.1" textLength="29" lengthAdjust="spacingAndGlyphs">1503</text>
<text x="1167.6" y="821.8" textLength="29" lengthAdjust="spacingAndGlyphs">1497</text>
<text x="1167.6" y="850.5" textLength="29" lengthAdjust="spacingAndGlyphs">1491</text>
<text x="1167.6" y="879.2" textLength="29" lengthAdjust="spacingAndGlyphs">1485</text>
</g>
<g font-size="30.5" fill="#000" stroke="#fff" stroke-width="1.15" style="paint-order:fill stroke" filter="url(#nf)"><text x="109.3" y="32.8" textLength="93.4" lengthAdjust="spacingAndGlyphs">Altura</text><text x="228.3" y="32.8" textLength="43.4" lengthAdjust="spacingAndGlyphs">del</text><text x="297.3" y="32.8" textLength="69.4" lengthAdjust="spacingAndGlyphs">nivel</text><text x="391.7" y="32.8" textLength="36.6" lengthAdjust="spacingAndGlyphs">de</text><text x="453.3" y="32.8" textLength="85" lengthAdjust="spacingAndGlyphs">geop.</text><text x="564" y="32.8" textLength="201" lengthAdjust="spacingAndGlyphs">(km,somb.),</text><text x="788.3" y="32.8" textLength="324.4" lengthAdjust="spacingAndGlyphs">Viento(nudos,vast.)</text></g>
<g font-size="18.2" fill="#1e3cff" stroke="#fff" stroke-width="0.25" style="paint-order:fill stroke" filter="url(#nf)"><text x="59.3" y="61.3" textLength="133.4" lengthAdjust="spacingAndGlyphs">15–Mar–2026</text><text x="216.7" y="61.3" textLength="49.3" lengthAdjust="spacingAndGlyphs">2100</text><text x="276" y="61.3" textLength="33.3" lengthAdjust="spacingAndGlyphs">UTC</text><text x="345" y="61.3" textLength="41" lengthAdjust="spacingAndGlyphs">5:00</text><text x="398.3" y="61.3" textLength="25" lengthAdjust="spacingAndGlyphs">pm</text><text x="438.3" y="61.3" textLength="41.7" lengthAdjust="spacingAndGlyphs">Hora</text><text x="492.7" y="61.3" textLength="46.6" lengthAdjust="spacingAndGlyphs">Local</text><text x="576.7" y="61.3" textLength="10" lengthAdjust="spacingAndGlyphs">Z</text><text x="600" y="61.3" textLength="11.7" lengthAdjust="spacingAndGlyphs">=</text><text x="626" y="61.3" textLength="61.3" lengthAdjust="spacingAndGlyphs">850mb</text><text x="725" y="61.3" textLength="45" lengthAdjust="spacingAndGlyphs">Valor</text><text x="780" y="61.3" textLength="29.3" lengthAdjust="spacingAndGlyphs">Min.</text><text x="821.7" y="61.3" textLength="11.6" lengthAdjust="spacingAndGlyphs">=</text><text x="846.7" y="61.3" textLength="67.3" lengthAdjust="spacingAndGlyphs">1.48388</text><text x="934" y="61.3" textLength="42" lengthAdjust="spacingAndGlyphs">Valor</text><text x="987.3" y="61.3" textLength="35.4" lengthAdjust="spacingAndGlyphs">Max.</text><text x="1036" y="61.3" textLength="11.7" lengthAdjust="spacingAndGlyphs">=</text><text x="1061.7" y="61.3" textLength="66.6" lengthAdjust="spacingAndGlyphs">1.59877</text></g>
<path d="M321 66.2L329.8 45.6M552 66.2L560.8 45.6" stroke="#1e3cff" stroke-width="1.35" fill="none"/>
<g font-size="16" fill="#0096ff" stroke="#fff" stroke-width="0.2" style="paint-order:fill stroke" filter="url(#nf)"><text x="45" y="82.1" textLength="88.3" lengthAdjust="spacingAndGlyphs">Pronóstico</text><text x="145" y="82.1" textLength="28.3" lengthAdjust="spacingAndGlyphs">con</text><text x="185.7" y="82.1" textLength="11.6" lengthAdjust="spacingAndGlyphs">el</text><text x="209.3" y="82.1" textLength="56.4" lengthAdjust="spacingAndGlyphs">Modelo</text><text x="276.7" y="82.1" textLength="99.3" lengthAdjust="spacingAndGlyphs">Atmósferico</text><text x="387.3" y="82.1" textLength="27.7" lengthAdjust="spacingAndGlyphs">WRF</text><text x="431.7" y="82.1" textLength="91" lengthAdjust="spacingAndGlyphs">inicializado</text><text x="535" y="82.1" textLength="7.7" lengthAdjust="spacingAndGlyphs">a</text><text x="554" y="82.1" textLength="22.7" lengthAdjust="spacingAndGlyphs">las</text><text x="589.3" y="82.1" textLength="183.4" lengthAdjust="spacingAndGlyphs">1800UTC_15MAR2026</text><text x="783.3" y="82.1" textLength="8.4" lengthAdjust="spacingAndGlyphs">y</text><text x="802.7" y="82.1" textLength="47.3" lengthAdjust="spacingAndGlyphs">válido</text><text x="861.7" y="82.1" textLength="45" lengthAdjust="spacingAndGlyphs">hasta</text><text x="917.7" y="82.1" textLength="23" lengthAdjust="spacingAndGlyphs">las</text><text x="962.7" y="82.1" textLength="183.3" lengthAdjust="spacingAndGlyphs">1800UTC_18MAR2026</text></g>
</svg></body></html>
